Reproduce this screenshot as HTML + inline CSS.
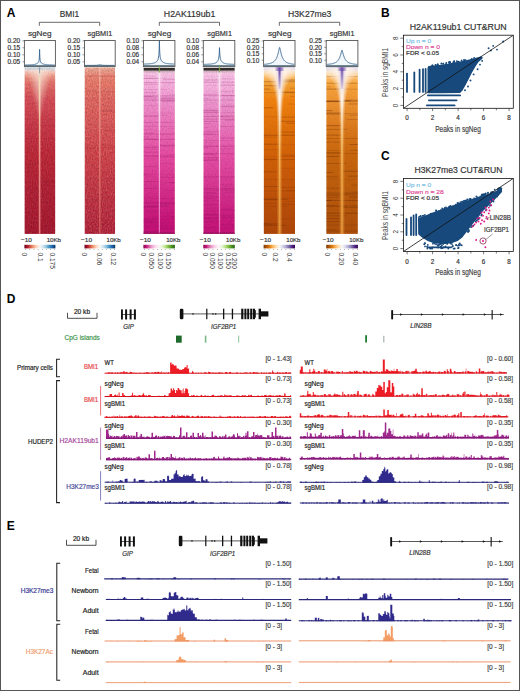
<!DOCTYPE html>
<html><head><meta charset="utf-8"><title>Figure</title>
<style>
html,body{margin:0;padding:0;background:#fff;width:520px;height:691px;overflow:hidden}
svg{display:block}
text{font-family:"Liberation Sans",sans-serif}
</style></head><body>
<svg width="520" height="691" viewBox="0 0 520 691">
<defs>
<filter id="grain" x="0" y="0" width="1" height="1"><feTurbulence type="fractalNoise" baseFrequency="0.8 0.5" numOctaves="2" seed="3"/><feColorMatrix type="matrix" values="0 0 0 0 0  0 0 0 0 0  0 0 0 0 0  0 0 0 -1.6 1.0"/></filter>
<filter id="grainw" x="0" y="0" width="1" height="1"><feTurbulence type="fractalNoise" baseFrequency="0.8 0.5" numOctaves="2" seed="9"/><feColorMatrix type="matrix" values="0 0 0 0 1  0 0 0 0 1  0 0 0 0 1  0 0 0 -1.6 1.0"/></filter>
<filter id="blur2" x="-0.5" y="-0.5" width="2" height="2"><feGaussianBlur stdDeviation="2"/></filter>
<filter id="blur1" x="-0.5" y="-0.5" width="2" height="2"><feGaussianBlur stdDeviation="1"/></filter>
<filter id="blur3" x="-0.5" y="-0.5" width="2" height="2"><feGaussianBlur stdDeviation="3"/></filter>
</defs>
<rect x="0.5" y="0.5" width="519" height="690" fill="none" stroke="#555" stroke-width="1"/>
<text x="6.80" y="16.80" font-size="12" fill="#000" font-weight="bold">A</text>
<text x="380.90" y="16.60" font-size="12" fill="#000" font-weight="bold">B</text>
<text x="381.00" y="159.50" font-size="12" fill="#000" font-weight="bold">C</text>
<text x="6.80" y="302.60" font-size="12" fill="#000" font-weight="bold">D</text>
<text x="6.80" y="530.00" font-size="12" fill="#000" font-weight="bold">E</text>
<text x="69.40" y="16.90" font-size="8.7" fill="#333" text-anchor="middle" textLength="19.4" lengthAdjust="spacingAndGlyphs" stroke="#333" stroke-width="0.18">BMI1</text>
<text x="189.60" y="16.90" font-size="8.7" fill="#333" text-anchor="middle" textLength="51.6" lengthAdjust="spacingAndGlyphs" stroke="#333" stroke-width="0.18">H2AK119ub1</text>
<text x="309.70" y="16.90" font-size="8.7" fill="#333" text-anchor="middle" textLength="43.3" lengthAdjust="spacingAndGlyphs" stroke="#333" stroke-width="0.18">H3K27me3</text>
<path d="M39.3,25.8V22.3H99.7V25.8" fill="none" stroke="#444" stroke-width="0.8"/>
<path d="M159.3,25.8V22.3H219.5V25.8" fill="none" stroke="#444" stroke-width="0.8"/>
<path d="M279.3,25.8V22.3H339.7V25.8" fill="none" stroke="#444" stroke-width="0.8"/>
<text x="39.70" y="35.70" font-size="7.7" fill="#333" text-anchor="middle" textLength="23.6" lengthAdjust="spacingAndGlyphs" stroke="#333" stroke-width="0.18">sgNeg</text>
<text x="99.90" y="35.70" font-size="7.7" fill="#333" text-anchor="middle" textLength="24.7" lengthAdjust="spacingAndGlyphs" stroke="#333" stroke-width="0.18">sgBMI1</text>
<text x="159.50" y="35.70" font-size="7.7" fill="#333" text-anchor="middle" textLength="23.6" lengthAdjust="spacingAndGlyphs" stroke="#333" stroke-width="0.18">sgNeg</text>
<text x="219.60" y="35.70" font-size="7.7" fill="#333" text-anchor="middle" textLength="24.7" lengthAdjust="spacingAndGlyphs" stroke="#333" stroke-width="0.18">sgBMI1</text>
<text x="279.70" y="35.70" font-size="7.7" fill="#333" text-anchor="middle" textLength="23.6" lengthAdjust="spacingAndGlyphs" stroke="#333" stroke-width="0.18">sgNeg</text>
<text x="342.10" y="35.70" font-size="7.7" fill="#333" text-anchor="middle" textLength="24.7" lengthAdjust="spacingAndGlyphs" stroke="#333" stroke-width="0.18">sgBMI1</text>
<text x="20.10" y="43.10" font-size="6.6" fill="#333" text-anchor="end" textLength="12.6" lengthAdjust="spacingAndGlyphs" stroke="#333" stroke-width="0.18">0.20</text>
<line x1="22.4" y1="40.8" x2="24.4" y2="40.8" stroke="#555" stroke-width="0.6"/>
<text x="20.10" y="50.10" font-size="6.6" fill="#333" text-anchor="end" textLength="12.6" lengthAdjust="spacingAndGlyphs" stroke="#333" stroke-width="0.18">0.15</text>
<line x1="22.4" y1="47.8" x2="24.4" y2="47.8" stroke="#555" stroke-width="0.6"/>
<text x="20.10" y="57.10" font-size="6.6" fill="#333" text-anchor="end" textLength="12.6" lengthAdjust="spacingAndGlyphs" stroke="#333" stroke-width="0.18">0.10</text>
<line x1="22.4" y1="54.8" x2="24.4" y2="54.8" stroke="#555" stroke-width="0.6"/>
<text x="20.10" y="64.10" font-size="6.6" fill="#333" text-anchor="end" textLength="12.6" lengthAdjust="spacingAndGlyphs" stroke="#333" stroke-width="0.18">0.05</text>
<line x1="22.4" y1="61.8" x2="24.4" y2="61.8" stroke="#555" stroke-width="0.6"/>
<text x="80.20" y="43.10" font-size="6.6" fill="#333" text-anchor="end" textLength="12.6" lengthAdjust="spacingAndGlyphs" stroke="#333" stroke-width="0.18">0.20</text>
<line x1="82.5" y1="40.8" x2="84.5" y2="40.8" stroke="#555" stroke-width="0.6"/>
<text x="80.20" y="50.10" font-size="6.6" fill="#333" text-anchor="end" textLength="12.6" lengthAdjust="spacingAndGlyphs" stroke="#333" stroke-width="0.18">0.15</text>
<line x1="82.5" y1="47.8" x2="84.5" y2="47.8" stroke="#555" stroke-width="0.6"/>
<text x="80.20" y="57.10" font-size="6.6" fill="#333" text-anchor="end" textLength="12.6" lengthAdjust="spacingAndGlyphs" stroke="#333" stroke-width="0.18">0.10</text>
<line x1="82.5" y1="54.8" x2="84.5" y2="54.8" stroke="#555" stroke-width="0.6"/>
<text x="80.20" y="64.10" font-size="6.6" fill="#333" text-anchor="end" textLength="12.6" lengthAdjust="spacingAndGlyphs" stroke="#333" stroke-width="0.18">0.05</text>
<line x1="82.5" y1="61.8" x2="84.5" y2="61.8" stroke="#555" stroke-width="0.6"/>
<text x="139.10" y="43.10" font-size="6.6" fill="#333" text-anchor="end" textLength="12.6" lengthAdjust="spacingAndGlyphs" stroke="#333" stroke-width="0.18">0.10</text>
<line x1="141.4" y1="40.8" x2="143.4" y2="40.8" stroke="#555" stroke-width="0.6"/>
<text x="139.10" y="50.10" font-size="6.6" fill="#333" text-anchor="end" textLength="12.6" lengthAdjust="spacingAndGlyphs" stroke="#333" stroke-width="0.18">0.08</text>
<line x1="141.4" y1="47.8" x2="143.4" y2="47.8" stroke="#555" stroke-width="0.6"/>
<text x="139.10" y="57.10" font-size="6.6" fill="#333" text-anchor="end" textLength="12.6" lengthAdjust="spacingAndGlyphs" stroke="#333" stroke-width="0.18">0.06</text>
<line x1="141.4" y1="54.8" x2="143.4" y2="54.8" stroke="#555" stroke-width="0.6"/>
<text x="139.10" y="64.10" font-size="6.6" fill="#333" text-anchor="end" textLength="12.6" lengthAdjust="spacingAndGlyphs" stroke="#333" stroke-width="0.18">0.04</text>
<line x1="141.4" y1="61.8" x2="143.4" y2="61.8" stroke="#555" stroke-width="0.6"/>
<text x="199.00" y="43.10" font-size="6.6" fill="#333" text-anchor="end" textLength="12.6" lengthAdjust="spacingAndGlyphs" stroke="#333" stroke-width="0.18">0.10</text>
<line x1="201.3" y1="40.8" x2="203.3" y2="40.8" stroke="#555" stroke-width="0.6"/>
<text x="199.00" y="50.10" font-size="6.6" fill="#333" text-anchor="end" textLength="12.6" lengthAdjust="spacingAndGlyphs" stroke="#333" stroke-width="0.18">0.08</text>
<line x1="201.3" y1="47.8" x2="203.3" y2="47.8" stroke="#555" stroke-width="0.6"/>
<text x="199.00" y="57.10" font-size="6.6" fill="#333" text-anchor="end" textLength="12.6" lengthAdjust="spacingAndGlyphs" stroke="#333" stroke-width="0.18">0.06</text>
<line x1="201.3" y1="54.8" x2="203.3" y2="54.8" stroke="#555" stroke-width="0.6"/>
<text x="199.00" y="64.10" font-size="6.6" fill="#333" text-anchor="end" textLength="12.6" lengthAdjust="spacingAndGlyphs" stroke="#333" stroke-width="0.18">0.04</text>
<line x1="201.3" y1="61.8" x2="203.3" y2="61.8" stroke="#555" stroke-width="0.6"/>
<text x="259.30" y="43.30" font-size="6.6" fill="#333" text-anchor="end" textLength="12.6" lengthAdjust="spacingAndGlyphs" stroke="#333" stroke-width="0.18">0.25</text>
<line x1="261.6" y1="41.0" x2="263.6" y2="41.0" stroke="#555" stroke-width="0.6"/>
<text x="259.30" y="49.70" font-size="6.6" fill="#333" text-anchor="end" textLength="12.6" lengthAdjust="spacingAndGlyphs" stroke="#333" stroke-width="0.18">0.20</text>
<line x1="261.6" y1="47.4" x2="263.6" y2="47.4" stroke="#555" stroke-width="0.6"/>
<text x="259.30" y="56.10" font-size="6.6" fill="#333" text-anchor="end" textLength="12.6" lengthAdjust="spacingAndGlyphs" stroke="#333" stroke-width="0.18">0.15</text>
<line x1="261.6" y1="53.8" x2="263.6" y2="53.8" stroke="#555" stroke-width="0.6"/>
<text x="259.30" y="62.50" font-size="6.6" fill="#333" text-anchor="end" textLength="12.6" lengthAdjust="spacingAndGlyphs" stroke="#333" stroke-width="0.18">0.10</text>
<line x1="261.6" y1="60.2" x2="263.6" y2="60.2" stroke="#555" stroke-width="0.6"/>
<text x="321.90" y="43.30" font-size="6.6" fill="#333" text-anchor="end" textLength="12.6" lengthAdjust="spacingAndGlyphs" stroke="#333" stroke-width="0.18">0.25</text>
<line x1="324.2" y1="41.0" x2="326.2" y2="41.0" stroke="#555" stroke-width="0.6"/>
<text x="321.90" y="49.70" font-size="6.6" fill="#333" text-anchor="end" textLength="12.6" lengthAdjust="spacingAndGlyphs" stroke="#333" stroke-width="0.18">0.20</text>
<line x1="324.2" y1="47.4" x2="326.2" y2="47.4" stroke="#555" stroke-width="0.6"/>
<text x="321.90" y="56.10" font-size="6.6" fill="#333" text-anchor="end" textLength="12.6" lengthAdjust="spacingAndGlyphs" stroke="#333" stroke-width="0.18">0.15</text>
<line x1="324.2" y1="53.8" x2="326.2" y2="53.8" stroke="#555" stroke-width="0.6"/>
<text x="321.90" y="62.50" font-size="6.6" fill="#333" text-anchor="end" textLength="12.6" lengthAdjust="spacingAndGlyphs" stroke="#333" stroke-width="0.18">0.10</text>
<line x1="324.2" y1="60.2" x2="326.2" y2="60.2" stroke="#555" stroke-width="0.6"/>
<path d="M25.00,65.04 L25.19,65.04 L25.37,65.04 L25.56,65.03 L25.75,65.03 L25.93,65.02 L26.12,65.02 L26.30,65.02 L26.49,65.01 L26.68,65.01 L26.86,65.00 L27.05,65.00 L27.23,64.99 L27.42,64.99 L27.61,64.98 L27.79,64.98 L27.98,64.97 L28.17,64.96 L28.35,64.96 L28.54,64.95 L28.73,64.94 L28.91,64.94 L29.10,64.93 L29.28,64.92 L29.47,64.91 L29.66,64.90 L29.84,64.89 L30.03,64.88 L30.21,64.87 L30.40,64.86 L30.59,64.85 L30.77,64.84 L30.96,64.83 L31.15,64.82 L31.33,64.80 L31.52,64.79 L31.70,64.77 L31.89,64.76 L32.08,64.74 L32.26,64.72 L32.45,64.70 L32.64,64.68 L32.82,64.66 L33.01,64.64 L33.20,64.61 L33.38,64.59 L33.57,64.56 L33.75,64.53 L33.94,64.50 L34.13,64.47 L34.31,64.43 L34.50,64.39 L34.69,64.35 L34.87,64.31 L35.06,64.26 L35.24,64.21 L35.43,64.16 L35.62,64.10 L35.80,64.04 L35.99,63.97 L36.17,63.90 L36.36,63.82 L36.55,63.73 L36.73,63.64 L36.92,63.54 L37.11,63.43 L37.29,63.32 L37.48,63.18 L37.66,63.04 L37.85,62.87 L38.04,62.68 L38.22,62.46 L38.41,62.18 L38.60,61.83 L38.78,61.34 L38.97,60.62 L39.16,59.43 L39.34,57.15 L39.53,52.08 L39.60,49.40 L39.71,53.57 L39.90,57.81 L40.09,59.75 L40.27,60.81 L40.46,61.47 L40.65,61.92 L40.83,62.25 L41.02,62.51 L41.20,62.73 L41.39,62.91 L41.58,63.07 L41.76,63.21 L41.95,63.34 L42.13,63.46 L42.32,63.57 L42.51,63.66 L42.69,63.75 L42.88,63.84 L43.07,63.91 L43.25,63.98 L43.44,64.05 L43.62,64.11 L43.81,64.17 L44.00,64.22 L44.18,64.27 L44.37,64.32 L44.56,64.36 L44.74,64.40 L44.93,64.44 L45.12,64.47 L45.30,64.51 L45.49,64.54 L45.67,64.57 L45.86,64.59 L46.05,64.62 L46.23,64.64 L46.42,64.67 L46.61,64.69 L46.79,64.71 L46.98,64.73 L47.16,64.74 L47.35,64.76 L47.54,64.78 L47.72,64.79 L47.91,64.81 L48.09,64.82 L48.28,64.83 L48.47,64.84 L48.65,64.86 L48.84,64.87 L49.03,64.88 L49.21,64.89 L49.40,64.90 L49.59,64.91 L49.77,64.91 L49.96,64.92 L50.14,64.93 L50.33,64.94 L50.52,64.95 L50.70,64.95 L50.89,64.96 L51.08,64.97 L51.26,64.97 L51.45,64.98 L51.63,64.98 L51.82,64.99 L52.01,64.99 L52.19,65.00 L52.38,65.00 L52.57,65.01 L52.75,65.01 L52.94,65.02 L53.12,65.02 L53.31,65.03 L53.50,65.03 L53.68,65.03 L53.87,65.04 L54.05,65.04 L54.24,65.04 L54.43,65.05 L54.61,65.05 L54.80,65.05 L54.80,66.6 L25.00,66.6 Z" fill="#dbe9f5" opacity="0.35"/>
<path d="M25.00,65.04 L25.19,65.04 L25.37,65.04 L25.56,65.03 L25.75,65.03 L25.93,65.02 L26.12,65.02 L26.30,65.02 L26.49,65.01 L26.68,65.01 L26.86,65.00 L27.05,65.00 L27.23,64.99 L27.42,64.99 L27.61,64.98 L27.79,64.98 L27.98,64.97 L28.17,64.96 L28.35,64.96 L28.54,64.95 L28.73,64.94 L28.91,64.94 L29.10,64.93 L29.28,64.92 L29.47,64.91 L29.66,64.90 L29.84,64.89 L30.03,64.88 L30.21,64.87 L30.40,64.86 L30.59,64.85 L30.77,64.84 L30.96,64.83 L31.15,64.82 L31.33,64.80 L31.52,64.79 L31.70,64.77 L31.89,64.76 L32.08,64.74 L32.26,64.72 L32.45,64.70 L32.64,64.68 L32.82,64.66 L33.01,64.64 L33.20,64.61 L33.38,64.59 L33.57,64.56 L33.75,64.53 L33.94,64.50 L34.13,64.47 L34.31,64.43 L34.50,64.39 L34.69,64.35 L34.87,64.31 L35.06,64.26 L35.24,64.21 L35.43,64.16 L35.62,64.10 L35.80,64.04 L35.99,63.97 L36.17,63.90 L36.36,63.82 L36.55,63.73 L36.73,63.64 L36.92,63.54 L37.11,63.43 L37.29,63.32 L37.48,63.18 L37.66,63.04 L37.85,62.87 L38.04,62.68 L38.22,62.46 L38.41,62.18 L38.60,61.83 L38.78,61.34 L38.97,60.62 L39.16,59.43 L39.34,57.15 L39.53,52.08 L39.60,49.40 L39.71,53.57 L39.90,57.81 L40.09,59.75 L40.27,60.81 L40.46,61.47 L40.65,61.92 L40.83,62.25 L41.02,62.51 L41.20,62.73 L41.39,62.91 L41.58,63.07 L41.76,63.21 L41.95,63.34 L42.13,63.46 L42.32,63.57 L42.51,63.66 L42.69,63.75 L42.88,63.84 L43.07,63.91 L43.25,63.98 L43.44,64.05 L43.62,64.11 L43.81,64.17 L44.00,64.22 L44.18,64.27 L44.37,64.32 L44.56,64.36 L44.74,64.40 L44.93,64.44 L45.12,64.47 L45.30,64.51 L45.49,64.54 L45.67,64.57 L45.86,64.59 L46.05,64.62 L46.23,64.64 L46.42,64.67 L46.61,64.69 L46.79,64.71 L46.98,64.73 L47.16,64.74 L47.35,64.76 L47.54,64.78 L47.72,64.79 L47.91,64.81 L48.09,64.82 L48.28,64.83 L48.47,64.84 L48.65,64.86 L48.84,64.87 L49.03,64.88 L49.21,64.89 L49.40,64.90 L49.59,64.91 L49.77,64.91 L49.96,64.92 L50.14,64.93 L50.33,64.94 L50.52,64.95 L50.70,64.95 L50.89,64.96 L51.08,64.97 L51.26,64.97 L51.45,64.98 L51.63,64.98 L51.82,64.99 L52.01,64.99 L52.19,65.00 L52.38,65.00 L52.57,65.01 L52.75,65.01 L52.94,65.02 L53.12,65.02 L53.31,65.03 L53.50,65.03 L53.68,65.03 L53.87,65.04 L54.05,65.04 L54.24,65.04 L54.43,65.05 L54.61,65.05 L54.80,65.05" fill="none" stroke="#36648f" stroke-width="0.9"/>
<rect x="24.4" y="40.5" width="31.00" height="26.10" fill="none" stroke="#555" stroke-width="0.9"/>
<line x1="24.9" y1="65.69999999999999" x2="54.9" y2="65.69999999999999" stroke="#3d5f6f" stroke-width="0.9"/>
<path d="M85.10,65.40 L85.28,65.40 L85.47,65.40 L85.65,65.40 L85.84,65.40 L86.02,65.40 L86.21,65.40 L86.39,65.40 L86.57,65.40 L86.76,65.40 L86.94,65.40 L87.13,65.40 L87.31,65.40 L87.50,65.40 L87.68,65.40 L87.87,65.40 L88.05,65.40 L88.23,65.40 L88.42,65.40 L88.60,65.40 L88.79,65.40 L88.97,65.40 L89.16,65.40 L89.34,65.40 L89.52,65.40 L89.71,65.40 L89.89,65.40 L90.08,65.40 L90.26,65.40 L90.45,65.40 L90.63,65.40 L90.82,65.40 L91.00,65.40 L91.18,65.40 L91.37,65.40 L91.55,65.40 L91.74,65.40 L91.92,65.40 L92.11,65.39 L92.29,65.39 L92.47,65.39 L92.66,65.39 L92.84,65.39 L93.03,65.39 L93.21,65.39 L93.40,65.39 L93.58,65.39 L93.77,65.38 L93.95,65.38 L94.13,65.38 L94.32,65.38 L94.50,65.37 L94.69,65.37 L94.87,65.37 L95.06,65.36 L95.24,65.36 L95.42,65.35 L95.61,65.34 L95.79,65.34 L95.98,65.33 L96.16,65.32 L96.35,65.31 L96.53,65.30 L96.72,65.28 L96.90,65.27 L97.08,65.25 L97.27,65.23 L97.45,65.21 L97.64,65.19 L97.82,65.16 L98.01,65.13 L98.19,65.09 L98.38,65.05 L98.56,65.01 L98.74,64.95 L98.93,64.90 L99.11,64.83 L99.30,64.76 L99.48,64.67 L99.67,64.58 L99.80,64.50 L99.85,64.53 L100.03,64.63 L100.22,64.72 L100.40,64.80 L100.59,64.87 L100.77,64.93 L100.96,64.98 L101.14,65.03 L101.32,65.07 L101.51,65.11 L101.69,65.15 L101.88,65.17 L102.06,65.20 L102.25,65.22 L102.43,65.24 L102.62,65.26 L102.80,65.28 L102.98,65.29 L103.17,65.30 L103.35,65.32 L103.54,65.33 L103.72,65.33 L103.91,65.34 L104.09,65.35 L104.28,65.35 L104.46,65.36 L104.64,65.36 L104.83,65.37 L105.01,65.37 L105.20,65.38 L105.38,65.38 L105.57,65.38 L105.75,65.38 L105.93,65.38 L106.12,65.39 L106.30,65.39 L106.49,65.39 L106.67,65.39 L106.86,65.39 L107.04,65.39 L107.22,65.39 L107.41,65.39 L107.59,65.40 L107.78,65.40 L107.96,65.40 L108.15,65.40 L108.33,65.40 L108.52,65.40 L108.70,65.40 L108.88,65.40 L109.07,65.40 L109.25,65.40 L109.44,65.40 L109.62,65.40 L109.81,65.40 L109.99,65.40 L110.17,65.40 L110.36,65.40 L110.54,65.40 L110.73,65.40 L110.91,65.40 L111.10,65.40 L111.28,65.40 L111.47,65.40 L111.65,65.40 L111.83,65.40 L112.02,65.40 L112.20,65.40 L112.39,65.40 L112.57,65.40 L112.76,65.40 L112.94,65.40 L113.12,65.40 L113.31,65.40 L113.49,65.40 L113.68,65.40 L113.86,65.40 L114.05,65.40 L114.23,65.40 L114.42,65.40 L114.60,65.40 L114.60,66.6 L85.10,66.6 Z" fill="#dbe9f5" opacity="0.35"/>
<path d="M85.10,65.40 L85.28,65.40 L85.47,65.40 L85.65,65.40 L85.84,65.40 L86.02,65.40 L86.21,65.40 L86.39,65.40 L86.57,65.40 L86.76,65.40 L86.94,65.40 L87.13,65.40 L87.31,65.40 L87.50,65.40 L87.68,65.40 L87.87,65.40 L88.05,65.40 L88.23,65.40 L88.42,65.40 L88.60,65.40 L88.79,65.40 L88.97,65.40 L89.16,65.40 L89.34,65.40 L89.52,65.40 L89.71,65.40 L89.89,65.40 L90.08,65.40 L90.26,65.40 L90.45,65.40 L90.63,65.40 L90.82,65.40 L91.00,65.40 L91.18,65.40 L91.37,65.40 L91.55,65.40 L91.74,65.40 L91.92,65.40 L92.11,65.39 L92.29,65.39 L92.47,65.39 L92.66,65.39 L92.84,65.39 L93.03,65.39 L93.21,65.39 L93.40,65.39 L93.58,65.39 L93.77,65.38 L93.95,65.38 L94.13,65.38 L94.32,65.38 L94.50,65.37 L94.69,65.37 L94.87,65.37 L95.06,65.36 L95.24,65.36 L95.42,65.35 L95.61,65.34 L95.79,65.34 L95.98,65.33 L96.16,65.32 L96.35,65.31 L96.53,65.30 L96.72,65.28 L96.90,65.27 L97.08,65.25 L97.27,65.23 L97.45,65.21 L97.64,65.19 L97.82,65.16 L98.01,65.13 L98.19,65.09 L98.38,65.05 L98.56,65.01 L98.74,64.95 L98.93,64.90 L99.11,64.83 L99.30,64.76 L99.48,64.67 L99.67,64.58 L99.80,64.50 L99.85,64.53 L100.03,64.63 L100.22,64.72 L100.40,64.80 L100.59,64.87 L100.77,64.93 L100.96,64.98 L101.14,65.03 L101.32,65.07 L101.51,65.11 L101.69,65.15 L101.88,65.17 L102.06,65.20 L102.25,65.22 L102.43,65.24 L102.62,65.26 L102.80,65.28 L102.98,65.29 L103.17,65.30 L103.35,65.32 L103.54,65.33 L103.72,65.33 L103.91,65.34 L104.09,65.35 L104.28,65.35 L104.46,65.36 L104.64,65.36 L104.83,65.37 L105.01,65.37 L105.20,65.38 L105.38,65.38 L105.57,65.38 L105.75,65.38 L105.93,65.38 L106.12,65.39 L106.30,65.39 L106.49,65.39 L106.67,65.39 L106.86,65.39 L107.04,65.39 L107.22,65.39 L107.41,65.39 L107.59,65.40 L107.78,65.40 L107.96,65.40 L108.15,65.40 L108.33,65.40 L108.52,65.40 L108.70,65.40 L108.88,65.40 L109.07,65.40 L109.25,65.40 L109.44,65.40 L109.62,65.40 L109.81,65.40 L109.99,65.40 L110.17,65.40 L110.36,65.40 L110.54,65.40 L110.73,65.40 L110.91,65.40 L111.10,65.40 L111.28,65.40 L111.47,65.40 L111.65,65.40 L111.83,65.40 L112.02,65.40 L112.20,65.40 L112.39,65.40 L112.57,65.40 L112.76,65.40 L112.94,65.40 L113.12,65.40 L113.31,65.40 L113.49,65.40 L113.68,65.40 L113.86,65.40 L114.05,65.40 L114.23,65.40 L114.42,65.40 L114.60,65.40" fill="none" stroke="#36648f" stroke-width="0.9"/>
<rect x="84.5" y="40.5" width="30.70" height="26.10" fill="none" stroke="#555" stroke-width="0.9"/>
<line x1="85.0" y1="65.69999999999999" x2="114.7" y2="65.69999999999999" stroke="#3d5f6f" stroke-width="0.9"/>
<path d="M144.00,64.01 L144.19,64.01 L144.38,64.00 L144.57,64.00 L144.76,63.99 L144.95,63.98 L145.14,63.98 L145.33,63.97 L145.51,63.97 L145.70,63.96 L145.89,63.95 L146.08,63.94 L146.27,63.94 L146.46,63.93 L146.65,63.92 L146.84,63.91 L147.03,63.90 L147.22,63.90 L147.41,63.89 L147.60,63.88 L147.79,63.87 L147.98,63.86 L148.17,63.85 L148.36,63.83 L148.54,63.82 L148.73,63.81 L148.92,63.80 L149.11,63.78 L149.30,63.77 L149.49,63.75 L149.68,63.74 L149.87,63.72 L150.06,63.71 L150.25,63.69 L150.44,63.67 L150.63,63.65 L150.82,63.63 L151.01,63.61 L151.20,63.58 L151.39,63.56 L151.57,63.54 L151.76,63.51 L151.95,63.48 L152.14,63.45 L152.33,63.42 L152.52,63.38 L152.71,63.35 L152.90,63.31 L153.09,63.27 L153.28,63.22 L153.47,63.18 L153.66,63.13 L153.85,63.07 L154.04,63.01 L154.23,62.95 L154.42,62.89 L154.60,62.81 L154.79,62.74 L154.98,62.65 L155.17,62.56 L155.36,62.46 L155.55,62.36 L155.74,62.24 L155.93,62.11 L156.12,61.98 L156.31,61.82 L156.50,61.66 L156.69,61.47 L156.88,61.27 L157.07,61.04 L157.26,60.79 L157.45,60.50 L157.63,60.17 L157.82,59.78 L158.01,59.32 L158.20,58.76 L158.39,58.04 L158.58,57.09 L158.77,55.72 L158.96,53.61 L159.15,49.99 L159.34,43.15 L159.40,40.40 L159.53,46.12 L159.72,51.55 L159.91,54.49 L160.10,56.27 L160.29,57.47 L160.48,58.32 L160.66,58.98 L160.85,59.50 L161.04,59.93 L161.23,60.29 L161.42,60.61 L161.61,60.88 L161.80,61.13 L161.99,61.35 L162.18,61.54 L162.37,61.72 L162.56,61.88 L162.75,62.03 L162.94,62.16 L163.13,62.28 L163.32,62.40 L163.51,62.50 L163.69,62.60 L163.88,62.68 L164.07,62.77 L164.26,62.84 L164.45,62.91 L164.64,62.98 L164.83,63.04 L165.02,63.09 L165.21,63.14 L165.40,63.19 L165.59,63.24 L165.78,63.28 L165.97,63.32 L166.16,63.36 L166.35,63.40 L166.54,63.43 L166.72,63.46 L166.91,63.49 L167.10,63.52 L167.29,63.54 L167.48,63.57 L167.67,63.59 L167.86,63.62 L168.05,63.64 L168.24,63.66 L168.43,63.68 L168.62,63.69 L168.81,63.71 L169.00,63.73 L169.19,63.74 L169.38,63.76 L169.57,63.77 L169.75,63.79 L169.94,63.80 L170.13,63.81 L170.32,63.83 L170.51,63.84 L170.70,63.85 L170.89,63.86 L171.08,63.87 L171.27,63.88 L171.46,63.89 L171.65,63.90 L171.84,63.91 L172.03,63.92 L172.22,63.92 L172.41,63.93 L172.60,63.94 L172.78,63.95 L172.97,63.95 L173.16,63.96 L173.35,63.97 L173.54,63.97 L173.73,63.98 L173.92,63.99 L174.11,63.99 L174.30,64.00 L174.30,66.6 L144.00,66.6 Z" fill="#dbe9f5" opacity="0.35"/>
<path d="M144.00,64.01 L144.19,64.01 L144.38,64.00 L144.57,64.00 L144.76,63.99 L144.95,63.98 L145.14,63.98 L145.33,63.97 L145.51,63.97 L145.70,63.96 L145.89,63.95 L146.08,63.94 L146.27,63.94 L146.46,63.93 L146.65,63.92 L146.84,63.91 L147.03,63.90 L147.22,63.90 L147.41,63.89 L147.60,63.88 L147.79,63.87 L147.98,63.86 L148.17,63.85 L148.36,63.83 L148.54,63.82 L148.73,63.81 L148.92,63.80 L149.11,63.78 L149.30,63.77 L149.49,63.75 L149.68,63.74 L149.87,63.72 L150.06,63.71 L150.25,63.69 L150.44,63.67 L150.63,63.65 L150.82,63.63 L151.01,63.61 L151.20,63.58 L151.39,63.56 L151.57,63.54 L151.76,63.51 L151.95,63.48 L152.14,63.45 L152.33,63.42 L152.52,63.38 L152.71,63.35 L152.90,63.31 L153.09,63.27 L153.28,63.22 L153.47,63.18 L153.66,63.13 L153.85,63.07 L154.04,63.01 L154.23,62.95 L154.42,62.89 L154.60,62.81 L154.79,62.74 L154.98,62.65 L155.17,62.56 L155.36,62.46 L155.55,62.36 L155.74,62.24 L155.93,62.11 L156.12,61.98 L156.31,61.82 L156.50,61.66 L156.69,61.47 L156.88,61.27 L157.07,61.04 L157.26,60.79 L157.45,60.50 L157.63,60.17 L157.82,59.78 L158.01,59.32 L158.20,58.76 L158.39,58.04 L158.58,57.09 L158.77,55.72 L158.96,53.61 L159.15,49.99 L159.34,43.15 L159.40,40.40 L159.53,46.12 L159.72,51.55 L159.91,54.49 L160.10,56.27 L160.29,57.47 L160.48,58.32 L160.66,58.98 L160.85,59.50 L161.04,59.93 L161.23,60.29 L161.42,60.61 L161.61,60.88 L161.80,61.13 L161.99,61.35 L162.18,61.54 L162.37,61.72 L162.56,61.88 L162.75,62.03 L162.94,62.16 L163.13,62.28 L163.32,62.40 L163.51,62.50 L163.69,62.60 L163.88,62.68 L164.07,62.77 L164.26,62.84 L164.45,62.91 L164.64,62.98 L164.83,63.04 L165.02,63.09 L165.21,63.14 L165.40,63.19 L165.59,63.24 L165.78,63.28 L165.97,63.32 L166.16,63.36 L166.35,63.40 L166.54,63.43 L166.72,63.46 L166.91,63.49 L167.10,63.52 L167.29,63.54 L167.48,63.57 L167.67,63.59 L167.86,63.62 L168.05,63.64 L168.24,63.66 L168.43,63.68 L168.62,63.69 L168.81,63.71 L169.00,63.73 L169.19,63.74 L169.38,63.76 L169.57,63.77 L169.75,63.79 L169.94,63.80 L170.13,63.81 L170.32,63.83 L170.51,63.84 L170.70,63.85 L170.89,63.86 L171.08,63.87 L171.27,63.88 L171.46,63.89 L171.65,63.90 L171.84,63.91 L172.03,63.92 L172.22,63.92 L172.41,63.93 L172.60,63.94 L172.78,63.95 L172.97,63.95 L173.16,63.96 L173.35,63.97 L173.54,63.97 L173.73,63.98 L173.92,63.99 L174.11,63.99 L174.30,64.00" fill="none" stroke="#36648f" stroke-width="0.9"/>
<rect x="143.4" y="40.5" width="31.50" height="26.10" fill="none" stroke="#555" stroke-width="0.9"/>
<line x1="143.9" y1="65.69999999999999" x2="174.4" y2="65.69999999999999" stroke="#3d5f6f" stroke-width="0.9"/>
<path d="M203.90,64.34 L204.09,64.34 L204.28,64.33 L204.47,64.33 L204.66,64.32 L204.85,64.32 L205.04,64.31 L205.23,64.31 L205.41,64.30 L205.60,64.30 L205.79,64.29 L205.98,64.28 L206.17,64.28 L206.36,64.27 L206.55,64.26 L206.74,64.26 L206.93,64.25 L207.12,64.24 L207.31,64.23 L207.50,64.22 L207.69,64.22 L207.88,64.21 L208.07,64.20 L208.26,64.19 L208.44,64.18 L208.63,64.17 L208.82,64.16 L209.01,64.15 L209.20,64.13 L209.39,64.12 L209.58,64.11 L209.77,64.09 L209.96,64.08 L210.15,64.07 L210.34,64.05 L210.53,64.03 L210.72,64.02 L210.91,64.00 L211.10,63.98 L211.29,63.96 L211.47,63.94 L211.66,63.91 L211.85,63.89 L212.04,63.86 L212.23,63.84 L212.42,63.81 L212.61,63.78 L212.80,63.75 L212.99,63.71 L213.18,63.68 L213.37,63.64 L213.56,63.59 L213.75,63.55 L213.94,63.50 L214.13,63.45 L214.32,63.39 L214.50,63.33 L214.69,63.27 L214.88,63.20 L215.07,63.12 L215.26,63.04 L215.45,62.95 L215.64,62.86 L215.83,62.75 L216.02,62.63 L216.21,62.51 L216.40,62.37 L216.59,62.22 L216.78,62.05 L216.97,61.86 L217.16,61.65 L217.35,61.42 L217.53,61.15 L217.72,60.85 L217.91,60.50 L218.10,60.09 L218.29,59.60 L218.48,58.99 L218.67,58.20 L218.86,57.12 L219.05,55.57 L219.24,53.16 L219.43,49.26 L219.50,47.60 L219.62,50.38 L219.81,53.86 L220.00,56.02 L220.19,57.43 L220.38,58.42 L220.56,59.15 L220.75,59.73 L220.94,60.20 L221.13,60.59 L221.32,60.93 L221.51,61.22 L221.70,61.48 L221.89,61.70 L222.08,61.91 L222.27,62.09 L222.46,62.26 L222.65,62.40 L222.84,62.54 L223.03,62.66 L223.22,62.78 L223.41,62.88 L223.59,62.98 L223.78,63.06 L223.97,63.14 L224.16,63.22 L224.35,63.29 L224.54,63.35 L224.73,63.41 L224.92,63.46 L225.11,63.51 L225.30,63.56 L225.49,63.60 L225.68,63.65 L225.87,63.68 L226.06,63.72 L226.25,63.75 L226.44,63.79 L226.62,63.82 L226.81,63.84 L227.00,63.87 L227.19,63.90 L227.38,63.92 L227.57,63.94 L227.76,63.96 L227.95,63.98 L228.14,64.00 L228.33,64.02 L228.52,64.04 L228.71,64.05 L228.90,64.07 L229.09,64.08 L229.28,64.10 L229.47,64.11 L229.66,64.12 L229.84,64.14 L230.03,64.15 L230.22,64.16 L230.41,64.17 L230.60,64.18 L230.79,64.19 L230.98,64.20 L231.17,64.21 L231.36,64.22 L231.55,64.23 L231.74,64.24 L231.93,64.24 L232.12,64.25 L232.31,64.26 L232.50,64.27 L232.69,64.27 L232.87,64.28 L233.06,64.28 L233.25,64.29 L233.44,64.30 L233.63,64.30 L233.82,64.31 L234.01,64.31 L234.20,64.32 L234.20,66.6 L203.90,66.6 Z" fill="#dbe9f5" opacity="0.35"/>
<path d="M203.90,64.34 L204.09,64.34 L204.28,64.33 L204.47,64.33 L204.66,64.32 L204.85,64.32 L205.04,64.31 L205.23,64.31 L205.41,64.30 L205.60,64.30 L205.79,64.29 L205.98,64.28 L206.17,64.28 L206.36,64.27 L206.55,64.26 L206.74,64.26 L206.93,64.25 L207.12,64.24 L207.31,64.23 L207.50,64.22 L207.69,64.22 L207.88,64.21 L208.07,64.20 L208.26,64.19 L208.44,64.18 L208.63,64.17 L208.82,64.16 L209.01,64.15 L209.20,64.13 L209.39,64.12 L209.58,64.11 L209.77,64.09 L209.96,64.08 L210.15,64.07 L210.34,64.05 L210.53,64.03 L210.72,64.02 L210.91,64.00 L211.10,63.98 L211.29,63.96 L211.47,63.94 L211.66,63.91 L211.85,63.89 L212.04,63.86 L212.23,63.84 L212.42,63.81 L212.61,63.78 L212.80,63.75 L212.99,63.71 L213.18,63.68 L213.37,63.64 L213.56,63.59 L213.75,63.55 L213.94,63.50 L214.13,63.45 L214.32,63.39 L214.50,63.33 L214.69,63.27 L214.88,63.20 L215.07,63.12 L215.26,63.04 L215.45,62.95 L215.64,62.86 L215.83,62.75 L216.02,62.63 L216.21,62.51 L216.40,62.37 L216.59,62.22 L216.78,62.05 L216.97,61.86 L217.16,61.65 L217.35,61.42 L217.53,61.15 L217.72,60.85 L217.91,60.50 L218.10,60.09 L218.29,59.60 L218.48,58.99 L218.67,58.20 L218.86,57.12 L219.05,55.57 L219.24,53.16 L219.43,49.26 L219.50,47.60 L219.62,50.38 L219.81,53.86 L220.00,56.02 L220.19,57.43 L220.38,58.42 L220.56,59.15 L220.75,59.73 L220.94,60.20 L221.13,60.59 L221.32,60.93 L221.51,61.22 L221.70,61.48 L221.89,61.70 L222.08,61.91 L222.27,62.09 L222.46,62.26 L222.65,62.40 L222.84,62.54 L223.03,62.66 L223.22,62.78 L223.41,62.88 L223.59,62.98 L223.78,63.06 L223.97,63.14 L224.16,63.22 L224.35,63.29 L224.54,63.35 L224.73,63.41 L224.92,63.46 L225.11,63.51 L225.30,63.56 L225.49,63.60 L225.68,63.65 L225.87,63.68 L226.06,63.72 L226.25,63.75 L226.44,63.79 L226.62,63.82 L226.81,63.84 L227.00,63.87 L227.19,63.90 L227.38,63.92 L227.57,63.94 L227.76,63.96 L227.95,63.98 L228.14,64.00 L228.33,64.02 L228.52,64.04 L228.71,64.05 L228.90,64.07 L229.09,64.08 L229.28,64.10 L229.47,64.11 L229.66,64.12 L229.84,64.14 L230.03,64.15 L230.22,64.16 L230.41,64.17 L230.60,64.18 L230.79,64.19 L230.98,64.20 L231.17,64.21 L231.36,64.22 L231.55,64.23 L231.74,64.24 L231.93,64.24 L232.12,64.25 L232.31,64.26 L232.50,64.27 L232.69,64.27 L232.87,64.28 L233.06,64.28 L233.25,64.29 L233.44,64.30 L233.63,64.30 L233.82,64.31 L234.01,64.31 L234.20,64.32" fill="none" stroke="#36648f" stroke-width="0.9"/>
<rect x="203.3" y="40.5" width="31.50" height="26.10" fill="none" stroke="#555" stroke-width="0.9"/>
<line x1="203.8" y1="65.69999999999999" x2="234.3" y2="65.69999999999999" stroke="#3d5f6f" stroke-width="0.9"/>
<path d="M264.20,64.36 L264.39,64.34 L264.58,64.32 L264.77,64.30 L264.96,64.28 L265.14,64.26 L265.33,64.24 L265.52,64.22 L265.71,64.19 L265.90,64.17 L266.09,64.15 L266.28,64.12 L266.47,64.10 L266.65,64.07 L266.84,64.04 L267.03,64.01 L267.22,63.98 L267.41,63.95 L267.60,63.92 L267.79,63.89 L267.98,63.86 L268.16,63.82 L268.35,63.78 L268.54,63.75 L268.73,63.71 L268.92,63.67 L269.11,63.63 L269.30,63.58 L269.49,63.54 L269.67,63.49 L269.86,63.44 L270.05,63.39 L270.24,63.33 L270.43,63.27 L270.62,63.22 L270.81,63.15 L271.00,63.09 L271.18,63.02 L271.37,62.95 L271.56,62.88 L271.75,62.80 L271.94,62.71 L272.13,62.63 L272.32,62.54 L272.51,62.44 L272.69,62.34 L272.88,62.23 L273.07,62.12 L273.26,62.00 L273.45,61.87 L273.64,61.74 L273.83,61.60 L274.02,61.44 L274.20,61.28 L274.39,61.11 L274.58,60.93 L274.77,60.73 L274.96,60.52 L275.15,60.30 L275.34,60.06 L275.53,59.80 L275.71,59.52 L275.90,59.22 L276.09,58.90 L276.28,58.55 L276.47,58.17 L276.66,57.76 L276.85,57.32 L277.04,56.85 L277.22,56.33 L277.41,55.78 L277.60,55.17 L277.79,54.52 L277.98,53.83 L278.17,53.08 L278.36,52.29 L278.55,51.46 L278.73,50.61 L278.92,49.75 L279.11,48.91 L279.30,48.16 L279.49,47.58 L279.60,47.40 L279.68,47.50 L279.87,48.04 L280.06,48.77 L280.24,49.60 L280.43,50.45 L280.62,51.31 L280.81,52.15 L281.00,52.94 L281.19,53.70 L281.38,54.40 L281.57,55.06 L281.75,55.67 L281.94,56.24 L282.13,56.76 L282.32,57.24 L282.51,57.69 L282.70,58.10 L282.89,58.48 L283.08,58.84 L283.26,59.16 L283.45,59.47 L283.64,59.75 L283.83,60.01 L284.02,60.25 L284.21,60.48 L284.40,60.69 L284.59,60.89 L284.77,61.08 L284.96,61.25 L285.15,61.42 L285.34,61.57 L285.53,61.71 L285.72,61.85 L285.91,61.98 L286.10,62.10 L286.28,62.21 L286.47,62.32 L286.66,62.42 L286.85,62.52 L287.04,62.61 L287.23,62.70 L287.42,62.78 L287.61,62.86 L287.79,62.94 L287.98,63.01 L288.17,63.08 L288.36,63.14 L288.55,63.20 L288.74,63.26 L288.93,63.32 L289.12,63.38 L289.30,63.43 L289.49,63.48 L289.68,63.53 L289.87,63.57 L290.06,63.62 L290.25,63.66 L290.44,63.70 L290.62,63.74 L290.81,63.78 L291.00,63.81 L291.19,63.85 L291.38,63.88 L291.57,63.92 L291.76,63.95 L291.95,63.98 L292.14,64.01 L292.32,64.04 L292.51,64.06 L292.70,64.09 L292.89,64.12 L293.08,64.14 L293.27,64.17 L293.46,64.19 L293.65,64.21 L293.83,64.23 L294.02,64.26 L294.21,64.28 L294.40,64.30 L294.40,66.6 L264.20,66.6 Z" fill="#dbe9f5" opacity="0.35"/>
<path d="M264.20,64.36 L264.39,64.34 L264.58,64.32 L264.77,64.30 L264.96,64.28 L265.14,64.26 L265.33,64.24 L265.52,64.22 L265.71,64.19 L265.90,64.17 L266.09,64.15 L266.28,64.12 L266.47,64.10 L266.65,64.07 L266.84,64.04 L267.03,64.01 L267.22,63.98 L267.41,63.95 L267.60,63.92 L267.79,63.89 L267.98,63.86 L268.16,63.82 L268.35,63.78 L268.54,63.75 L268.73,63.71 L268.92,63.67 L269.11,63.63 L269.30,63.58 L269.49,63.54 L269.67,63.49 L269.86,63.44 L270.05,63.39 L270.24,63.33 L270.43,63.27 L270.62,63.22 L270.81,63.15 L271.00,63.09 L271.18,63.02 L271.37,62.95 L271.56,62.88 L271.75,62.80 L271.94,62.71 L272.13,62.63 L272.32,62.54 L272.51,62.44 L272.69,62.34 L272.88,62.23 L273.07,62.12 L273.26,62.00 L273.45,61.87 L273.64,61.74 L273.83,61.60 L274.02,61.44 L274.20,61.28 L274.39,61.11 L274.58,60.93 L274.77,60.73 L274.96,60.52 L275.15,60.30 L275.34,60.06 L275.53,59.80 L275.71,59.52 L275.90,59.22 L276.09,58.90 L276.28,58.55 L276.47,58.17 L276.66,57.76 L276.85,57.32 L277.04,56.85 L277.22,56.33 L277.41,55.78 L277.60,55.17 L277.79,54.52 L277.98,53.83 L278.17,53.08 L278.36,52.29 L278.55,51.46 L278.73,50.61 L278.92,49.75 L279.11,48.91 L279.30,48.16 L279.49,47.58 L279.60,47.40 L279.68,47.50 L279.87,48.04 L280.06,48.77 L280.24,49.60 L280.43,50.45 L280.62,51.31 L280.81,52.15 L281.00,52.94 L281.19,53.70 L281.38,54.40 L281.57,55.06 L281.75,55.67 L281.94,56.24 L282.13,56.76 L282.32,57.24 L282.51,57.69 L282.70,58.10 L282.89,58.48 L283.08,58.84 L283.26,59.16 L283.45,59.47 L283.64,59.75 L283.83,60.01 L284.02,60.25 L284.21,60.48 L284.40,60.69 L284.59,60.89 L284.77,61.08 L284.96,61.25 L285.15,61.42 L285.34,61.57 L285.53,61.71 L285.72,61.85 L285.91,61.98 L286.10,62.10 L286.28,62.21 L286.47,62.32 L286.66,62.42 L286.85,62.52 L287.04,62.61 L287.23,62.70 L287.42,62.78 L287.61,62.86 L287.79,62.94 L287.98,63.01 L288.17,63.08 L288.36,63.14 L288.55,63.20 L288.74,63.26 L288.93,63.32 L289.12,63.38 L289.30,63.43 L289.49,63.48 L289.68,63.53 L289.87,63.57 L290.06,63.62 L290.25,63.66 L290.44,63.70 L290.62,63.74 L290.81,63.78 L291.00,63.81 L291.19,63.85 L291.38,63.88 L291.57,63.92 L291.76,63.95 L291.95,63.98 L292.14,64.01 L292.32,64.04 L292.51,64.06 L292.70,64.09 L292.89,64.12 L293.08,64.14 L293.27,64.17 L293.46,64.19 L293.65,64.21 L293.83,64.23 L294.02,64.26 L294.21,64.28 L294.40,64.30" fill="none" stroke="#36648f" stroke-width="0.9"/>
<rect x="263.6" y="40.5" width="31.40" height="26.10" fill="none" stroke="#555" stroke-width="0.9"/>
<line x1="264.1" y1="65.69999999999999" x2="294.5" y2="65.69999999999999" stroke="#3d5f6f" stroke-width="0.9"/>
<path d="M326.80,64.40 L326.99,64.39 L327.18,64.37 L327.37,64.35 L327.56,64.34 L327.75,64.32 L327.94,64.30 L328.13,64.28 L328.32,64.26 L328.52,64.24 L328.71,64.22 L328.90,64.20 L329.09,64.17 L329.28,64.15 L329.47,64.12 L329.66,64.10 L329.85,64.07 L330.04,64.05 L330.23,64.02 L330.42,63.99 L330.61,63.96 L330.80,63.93 L330.99,63.90 L331.18,63.86 L331.38,63.83 L331.57,63.79 L331.76,63.75 L331.95,63.71 L332.14,63.67 L332.33,63.63 L332.52,63.58 L332.71,63.54 L332.90,63.49 L333.09,63.44 L333.28,63.38 L333.47,63.33 L333.66,63.27 L333.85,63.20 L334.04,63.14 L334.23,63.07 L334.43,63.00 L334.62,62.92 L334.81,62.84 L335.00,62.76 L335.19,62.67 L335.38,62.58 L335.57,62.48 L335.76,62.37 L335.95,62.26 L336.14,62.14 L336.33,62.02 L336.52,61.88 L336.71,61.74 L336.90,61.59 L337.09,61.43 L337.28,61.25 L337.48,61.06 L337.67,60.86 L337.86,60.65 L338.05,60.42 L338.24,60.17 L338.43,59.90 L338.62,59.61 L338.81,59.30 L339.00,58.96 L339.19,58.59 L339.38,58.20 L339.57,57.77 L339.76,57.30 L339.95,56.80 L340.14,56.25 L340.33,55.67 L340.52,55.04 L340.72,54.38 L340.91,53.68 L341.10,52.95 L341.29,52.22 L341.48,51.50 L341.67,50.84 L341.86,50.31 L342.00,50.10 L342.05,50.15 L342.24,50.57 L342.43,51.18 L342.62,51.87 L342.81,52.60 L343.00,53.33 L343.19,54.05 L343.38,54.73 L343.57,55.38 L343.77,55.98 L343.96,56.54 L344.15,57.07 L344.34,57.55 L344.53,58.00 L344.72,58.41 L344.91,58.79 L345.10,59.14 L345.29,59.47 L345.48,59.77 L345.67,60.04 L345.86,60.30 L346.05,60.54 L346.24,60.76 L346.43,60.97 L346.62,61.16 L346.82,61.34 L347.01,61.51 L347.20,61.67 L347.39,61.82 L347.58,61.95 L347.77,62.08 L347.96,62.21 L348.15,62.32 L348.34,62.43 L348.53,62.53 L348.72,62.63 L348.91,62.72 L349.10,62.80 L349.29,62.89 L349.48,62.96 L349.68,63.04 L349.87,63.11 L350.06,63.17 L350.25,63.24 L350.44,63.30 L350.63,63.36 L350.82,63.41 L351.01,63.46 L351.20,63.51 L351.39,63.56 L351.58,63.61 L351.77,63.65 L351.96,63.69 L352.15,63.73 L352.34,63.77 L352.53,63.81 L352.73,63.84 L352.92,63.88 L353.11,63.91 L353.30,63.94 L353.49,63.98 L353.68,64.00 L353.87,64.03 L354.06,64.06 L354.25,64.09 L354.44,64.11 L354.63,64.14 L354.82,64.16 L355.01,64.18 L355.20,64.21 L355.39,64.23 L355.58,64.25 L355.77,64.27 L355.97,64.29 L356.16,64.31 L356.35,64.33 L356.54,64.34 L356.73,64.36 L356.92,64.38 L357.11,64.40 L357.30,64.41 L357.30,66.6 L326.80,66.6 Z" fill="#dbe9f5" opacity="0.35"/>
<path d="M326.80,64.40 L326.99,64.39 L327.18,64.37 L327.37,64.35 L327.56,64.34 L327.75,64.32 L327.94,64.30 L328.13,64.28 L328.32,64.26 L328.52,64.24 L328.71,64.22 L328.90,64.20 L329.09,64.17 L329.28,64.15 L329.47,64.12 L329.66,64.10 L329.85,64.07 L330.04,64.05 L330.23,64.02 L330.42,63.99 L330.61,63.96 L330.80,63.93 L330.99,63.90 L331.18,63.86 L331.38,63.83 L331.57,63.79 L331.76,63.75 L331.95,63.71 L332.14,63.67 L332.33,63.63 L332.52,63.58 L332.71,63.54 L332.90,63.49 L333.09,63.44 L333.28,63.38 L333.47,63.33 L333.66,63.27 L333.85,63.20 L334.04,63.14 L334.23,63.07 L334.43,63.00 L334.62,62.92 L334.81,62.84 L335.00,62.76 L335.19,62.67 L335.38,62.58 L335.57,62.48 L335.76,62.37 L335.95,62.26 L336.14,62.14 L336.33,62.02 L336.52,61.88 L336.71,61.74 L336.90,61.59 L337.09,61.43 L337.28,61.25 L337.48,61.06 L337.67,60.86 L337.86,60.65 L338.05,60.42 L338.24,60.17 L338.43,59.90 L338.62,59.61 L338.81,59.30 L339.00,58.96 L339.19,58.59 L339.38,58.20 L339.57,57.77 L339.76,57.30 L339.95,56.80 L340.14,56.25 L340.33,55.67 L340.52,55.04 L340.72,54.38 L340.91,53.68 L341.10,52.95 L341.29,52.22 L341.48,51.50 L341.67,50.84 L341.86,50.31 L342.00,50.10 L342.05,50.15 L342.24,50.57 L342.43,51.18 L342.62,51.87 L342.81,52.60 L343.00,53.33 L343.19,54.05 L343.38,54.73 L343.57,55.38 L343.77,55.98 L343.96,56.54 L344.15,57.07 L344.34,57.55 L344.53,58.00 L344.72,58.41 L344.91,58.79 L345.10,59.14 L345.29,59.47 L345.48,59.77 L345.67,60.04 L345.86,60.30 L346.05,60.54 L346.24,60.76 L346.43,60.97 L346.62,61.16 L346.82,61.34 L347.01,61.51 L347.20,61.67 L347.39,61.82 L347.58,61.95 L347.77,62.08 L347.96,62.21 L348.15,62.32 L348.34,62.43 L348.53,62.53 L348.72,62.63 L348.91,62.72 L349.10,62.80 L349.29,62.89 L349.48,62.96 L349.68,63.04 L349.87,63.11 L350.06,63.17 L350.25,63.24 L350.44,63.30 L350.63,63.36 L350.82,63.41 L351.01,63.46 L351.20,63.51 L351.39,63.56 L351.58,63.61 L351.77,63.65 L351.96,63.69 L352.15,63.73 L352.34,63.77 L352.53,63.81 L352.73,63.84 L352.92,63.88 L353.11,63.91 L353.30,63.94 L353.49,63.98 L353.68,64.00 L353.87,64.03 L354.06,64.06 L354.25,64.09 L354.44,64.11 L354.63,64.14 L354.82,64.16 L355.01,64.18 L355.20,64.21 L355.39,64.23 L355.58,64.25 L355.77,64.27 L355.97,64.29 L356.16,64.31 L356.35,64.33 L356.54,64.34 L356.73,64.36 L356.92,64.38 L357.11,64.40 L357.30,64.41" fill="none" stroke="#36648f" stroke-width="0.9"/>
<rect x="326.2" y="40.5" width="31.70" height="26.10" fill="none" stroke="#555" stroke-width="0.9"/>
<line x1="326.7" y1="65.69999999999999" x2="357.4" y2="65.69999999999999" stroke="#3d5f6f" stroke-width="0.9"/>
<linearGradient id="gw_red1" x1="0" y1="0" x2="1" y2="0"><stop offset="0" stop-color="#f8e4d8" stop-opacity="0"/><stop offset="0.5" stop-color="#f8e4d8" stop-opacity="1"/><stop offset="1" stop-color="#f8e4d8" stop-opacity="0"/></linearGradient>
<linearGradient id="gw_red2" x1="0" y1="0" x2="1" y2="0"><stop offset="0" stop-color="#f0a890" stop-opacity="0"/><stop offset="0.5" stop-color="#f0a890" stop-opacity="1"/><stop offset="1" stop-color="#f0a890" stop-opacity="0"/></linearGradient>
<linearGradient id="gw_pink" x1="0" y1="0" x2="1" y2="0"><stop offset="0" stop-color="#fbe6f4" stop-opacity="0"/><stop offset="0.5" stop-color="#fbe6f4" stop-opacity="1"/><stop offset="1" stop-color="#fbe6f4" stop-opacity="0"/></linearGradient>
<linearGradient id="gw_or" x1="0" y1="0" x2="1" y2="0"><stop offset="0" stop-color="#fff6ee" stop-opacity="0"/><stop offset="0.5" stop-color="#fff6ee" stop-opacity="1"/><stop offset="1" stop-color="#fff6ee" stop-opacity="0"/></linearGradient>
<linearGradient id="gw_or2" x1="0" y1="0" x2="1" y2="0"><stop offset="0" stop-color="#f0a848" stop-opacity="0"/><stop offset="0.5" stop-color="#f0a848" stop-opacity="1"/><stop offset="1" stop-color="#f0a848" stop-opacity="0"/></linearGradient>
<linearGradient id="gw_pur" x1="0" y1="0" x2="1" y2="0"><stop offset="0" stop-color="#5a3aa0" stop-opacity="0"/><stop offset="0.5" stop-color="#5a3aa0" stop-opacity="1"/><stop offset="1" stop-color="#5a3aa0" stop-opacity="0"/></linearGradient>
<linearGradient id="gw_lav" x1="0" y1="0" x2="1" y2="0"><stop offset="0" stop-color="#c8b8e0" stop-opacity="0"/><stop offset="0.5" stop-color="#c8b8e0" stop-opacity="1"/><stop offset="1" stop-color="#c8b8e0" stop-opacity="0"/></linearGradient>
<linearGradient id="hg0" x1="0" y1="0" x2="0" y2="1"><stop offset="0.0000" stop-color="#c0d0de"/><stop offset="0.0096" stop-color="#d4dae2"/><stop offset="0.0198" stop-color="#f0d4cc"/><stop offset="0.0348" stop-color="#f8bbab"/><stop offset="0.0588" stop-color="#ed9281"/><stop offset="0.0888" stop-color="#e5726a"/><stop offset="0.1368" stop-color="#dc5e5e"/><stop offset="0.1968" stop-color="#d44953"/><stop offset="0.3767" stop-color="#c63243"/><stop offset="0.5267" stop-color="#bb2534"/><stop offset="0.7367" stop-color="#af1d32"/><stop offset="1.0000" stop-color="#a4152c"/></linearGradient>
<clipPath id="hc0"><rect x="24.4" y="67.2" width="31.00" height="166.70"/></clipPath>
<g clip-path="url(#hc0)">
<rect x="24.4" y="67.2" width="31.00" height="166.70" fill="url(#hg0)"/>
<rect x="44.6" y="125.9" width="10.8" height="0.7" fill="#7a0a20" opacity="0.06"/>
<rect x="24.4" y="166.5" width="7.4" height="1.1" fill="#7a0a20" opacity="0.07"/>
<rect x="24.4" y="161.5" width="12.8" height="0.7" fill="#7a0a20" opacity="0.11"/>
<rect x="49.2" y="223.7" width="6.2" height="1.1" fill="#7a0a20" opacity="0.11"/>
<rect x="24.4" y="96.1" width="6.6" height="0.9" fill="#7a0a20" opacity="0.13"/>
<rect x="50.1" y="103.5" width="5.3" height="1.1" fill="#7a0a20" opacity="0.12"/>
<rect x="24.4" y="163.6" width="14.6" height="1.1" fill="#7a0a20" opacity="0.09"/>
<rect x="24.4" y="124.4" width="31.0" height="1.1" fill="#7a0a20" opacity="0.07"/>
<rect x="24.4" y="103.4" width="14.6" height="0.7" fill="#7a0a20" opacity="0.10"/>
<rect x="24.4" y="129.0" width="14.6" height="0.9" fill="#7a0a20" opacity="0.06"/>
<rect x="24.4" y="140.7" width="14.6" height="0.9" fill="#7a0a20" opacity="0.05"/>
<rect x="40.2" y="179.9" width="15.2" height="1.1" fill="#7a0a20" opacity="0.08"/>
<rect x="40.2" y="184.2" width="15.2" height="1.1" fill="#7a0a20" opacity="0.06"/>
<rect x="40.2" y="89.9" width="15.2" height="0.9" fill="#7a0a20" opacity="0.06"/>
<rect x="40.2" y="185.1" width="15.2" height="1.1" fill="#7a0a20" opacity="0.09"/>
<rect x="24.4" y="187.5" width="14.6" height="1.1" fill="#7a0a20" opacity="0.09"/>
<rect x="24.4" y="170.9" width="14.6" height="0.9" fill="#7a0a20" opacity="0.06"/>
<rect x="24.4" y="114.0" width="31.0" height="0.9" fill="#7a0a20" opacity="0.07"/>
<rect x="24.4" y="138.1" width="31.0" height="0.9" fill="#7a0a20" opacity="0.14"/>
<rect x="24.4" y="118.8" width="31.0" height="0.9" fill="#7a0a20" opacity="0.09"/>
<rect x="24.4" y="111.4" width="6.1" height="0.7" fill="#7a0a20" opacity="0.10"/>
<rect x="24.4" y="167.5" width="8.3" height="0.9" fill="#7a0a20" opacity="0.11"/>
<rect x="40.2" y="125.1" width="15.2" height="0.7" fill="#7a0a20" opacity="0.11"/>
<rect x="40.2" y="181.2" width="15.2" height="0.7" fill="#7a0a20" opacity="0.15"/>
<rect x="40.2" y="181.8" width="15.2" height="1.1" fill="#7a0a20" opacity="0.06"/>
<rect x="24.4" y="174.6" width="14.6" height="0.7" fill="#7a0a20" opacity="0.09"/>
<rect x="24.4" y="92.4" width="5.5" height="1.1" fill="#7a0a20" opacity="0.06"/>
<rect x="24.4" y="132.2" width="7.1" height="0.7" fill="#7a0a20" opacity="0.11"/>
<rect x="44.4" y="224.9" width="11.0" height="1.1" fill="#7a0a20" opacity="0.15"/>
<rect x="24.4" y="148.2" width="9.9" height="0.9" fill="#7a0a20" opacity="0.12"/>
<rect x="24.4" y="67.2" width="31.00" height="166.70" filter="url(#grain)" opacity="0.16"/>
<rect x="24.4" y="67.2" width="31.00" height="166.70" filter="url(#grainw)" opacity="0.14"/>
<rect x="26.71" y="70.00" width="25.77" height="1.00" fill="url(#gw_red1)" opacity="0.892"/>
<rect x="26.94" y="71.00" width="25.32" height="1.00" fill="url(#gw_red1)" opacity="0.875"/>
<rect x="27.16" y="72.00" width="24.88" height="1.00" fill="url(#gw_red1)" opacity="0.858"/>
<rect x="27.39" y="73.00" width="24.43" height="1.00" fill="url(#gw_red1)" opacity="0.842"/>
<rect x="27.61" y="74.00" width="23.98" height="1.00" fill="url(#gw_red1)" opacity="0.825"/>
<rect x="27.84" y="75.00" width="23.52" height="1.00" fill="url(#gw_red1)" opacity="0.808"/>
<rect x="28.06" y="76.00" width="23.07" height="1.00" fill="url(#gw_red1)" opacity="0.792"/>
<rect x="28.29" y="77.00" width="22.62" height="1.00" fill="url(#gw_red1)" opacity="0.775"/>
<rect x="28.51" y="78.00" width="22.18" height="1.00" fill="url(#gw_red1)" opacity="0.758"/>
<rect x="28.74" y="79.00" width="21.73" height="1.00" fill="url(#gw_red1)" opacity="0.742"/>
<rect x="28.96" y="80.00" width="21.27" height="1.00" fill="url(#gw_red1)" opacity="0.725"/>
<rect x="29.19" y="81.00" width="20.82" height="1.00" fill="url(#gw_red1)" opacity="0.708"/>
<rect x="29.41" y="82.00" width="20.38" height="1.00" fill="url(#gw_red1)" opacity="0.692"/>
<rect x="29.64" y="83.00" width="19.93" height="1.00" fill="url(#gw_red1)" opacity="0.675"/>
<rect x="29.86" y="84.00" width="19.48" height="1.00" fill="url(#gw_red1)" opacity="0.658"/>
<rect x="30.09" y="85.00" width="19.02" height="1.00" fill="url(#gw_red1)" opacity="0.642"/>
<rect x="30.31" y="86.00" width="18.57" height="1.00" fill="url(#gw_red1)" opacity="0.625"/>
<rect x="30.54" y="87.00" width="18.12" height="1.00" fill="url(#gw_red1)" opacity="0.608"/>
<rect x="30.76" y="88.00" width="17.67" height="1.00" fill="url(#gw_red1)" opacity="0.592"/>
<rect x="30.99" y="89.00" width="17.23" height="1.00" fill="url(#gw_red1)" opacity="0.575"/>
<rect x="31.21" y="90.00" width="16.77" height="1.00" fill="url(#gw_red1)" opacity="0.558"/>
<rect x="31.44" y="91.00" width="16.32" height="1.00" fill="url(#gw_red1)" opacity="0.542"/>
<rect x="31.66" y="92.00" width="15.88" height="1.00" fill="url(#gw_red1)" opacity="0.525"/>
<rect x="31.89" y="93.00" width="15.42" height="1.00" fill="url(#gw_red1)" opacity="0.508"/>
<rect x="32.11" y="94.00" width="14.97" height="1.00" fill="url(#gw_red1)" opacity="0.492"/>
<rect x="32.34" y="95.00" width="14.53" height="1.00" fill="url(#gw_red1)" opacity="0.475"/>
<rect x="32.56" y="96.00" width="14.07" height="1.00" fill="url(#gw_red1)" opacity="0.458"/>
<rect x="32.79" y="97.00" width="13.62" height="1.00" fill="url(#gw_red1)" opacity="0.442"/>
<rect x="33.01" y="98.00" width="13.17" height="1.00" fill="url(#gw_red1)" opacity="0.425"/>
<rect x="33.24" y="99.00" width="12.72" height="1.00" fill="url(#gw_red1)" opacity="0.408"/>
<rect x="33.46" y="100.00" width="12.28" height="1.00" fill="url(#gw_red1)" opacity="0.392"/>
<rect x="33.69" y="101.00" width="11.82" height="1.00" fill="url(#gw_red1)" opacity="0.375"/>
<rect x="33.91" y="102.00" width="11.38" height="1.00" fill="url(#gw_red1)" opacity="0.358"/>
<rect x="34.14" y="103.00" width="10.92" height="1.00" fill="url(#gw_red1)" opacity="0.342"/>
<rect x="34.36" y="104.00" width="10.47" height="1.00" fill="url(#gw_red1)" opacity="0.325"/>
<rect x="34.59" y="105.00" width="10.03" height="1.00" fill="url(#gw_red1)" opacity="0.308"/>
<rect x="34.81" y="106.00" width="9.57" height="1.00" fill="url(#gw_red1)" opacity="0.292"/>
<rect x="35.04" y="107.00" width="9.12" height="1.00" fill="url(#gw_red1)" opacity="0.275"/>
<rect x="35.26" y="108.00" width="8.68" height="1.00" fill="url(#gw_red1)" opacity="0.258"/>
<rect x="35.49" y="109.00" width="8.22" height="1.00" fill="url(#gw_red1)" opacity="0.242"/>
<rect x="35.71" y="110.00" width="7.77" height="1.00" fill="url(#gw_red1)" opacity="0.225"/>
<rect x="35.94" y="111.00" width="7.32" height="1.00" fill="url(#gw_red1)" opacity="0.208"/>
<rect x="36.16" y="112.00" width="6.88" height="1.00" fill="url(#gw_red1)" opacity="0.192"/>
<rect x="36.39" y="113.00" width="6.43" height="1.00" fill="url(#gw_red1)" opacity="0.175"/>
<rect x="36.61" y="114.00" width="5.97" height="1.00" fill="url(#gw_red1)" opacity="0.158"/>
<rect x="36.84" y="115.00" width="5.52" height="1.00" fill="url(#gw_red1)" opacity="0.142"/>
<rect x="37.06" y="116.00" width="5.07" height="1.00" fill="url(#gw_red1)" opacity="0.125"/>
<rect x="37.10" y="117.00" width="5.00" height="1.00" fill="url(#gw_red1)" opacity="0.108"/>
<rect x="39.10" y="67.2" width="1.0" height="6" fill="#7890a0" opacity="0.8"/>
<linearGradient id="vl0_396" x1="0" y1="0" x2="0" y2="1"><stop offset="0.000" stop-color="#dcd0c8"/><stop offset="0.044" stop-color="#f4e0b8"/><stop offset="0.292" stop-color="#f4c8a8"/><stop offset="0.541" stop-color="#f09a90"/><stop offset="1.000" stop-color="#e88080"/></linearGradient>
<rect x="38.80" y="73" width="1.6" height="160.90" fill="url(#vl0_396)" opacity="0.95"/>
</g>
<linearGradient id="hg1" x1="0" y1="0" x2="0" y2="1"><stop offset="0.0000" stop-color="#eeb09c"/><stop offset="0.0168" stop-color="#eca08c"/><stop offset="0.0408" stop-color="#f08e7d"/><stop offset="0.0768" stop-color="#ea7968"/><stop offset="0.1968" stop-color="#e2645e"/><stop offset="0.5267" stop-color="#d13f47"/><stop offset="0.9166" stop-color="#b8263b"/><stop offset="1.0000" stop-color="#b42138"/></linearGradient>
<clipPath id="hc1"><rect x="84.5" y="67.2" width="30.70" height="166.70"/></clipPath>
<g clip-path="url(#hc1)">
<rect x="84.5" y="67.2" width="30.70" height="166.70" fill="url(#hg1)"/>
<rect x="84.5" y="150.2" width="11.4" height="1.1" fill="#90182a" opacity="0.12"/>
<rect x="84.5" y="98.2" width="30.7" height="1.1" fill="#90182a" opacity="0.10"/>
<rect x="108.0" y="175.9" width="7.2" height="0.7" fill="#90182a" opacity="0.08"/>
<rect x="100.4" y="196.2" width="14.8" height="1.1" fill="#90182a" opacity="0.14"/>
<rect x="84.5" y="171.3" width="30.7" height="0.7" fill="#90182a" opacity="0.15"/>
<rect x="100.4" y="110.7" width="14.8" height="1.1" fill="#90182a" opacity="0.18"/>
<rect x="84.5" y="199.0" width="14.7" height="0.9" fill="#90182a" opacity="0.17"/>
<rect x="84.5" y="145.3" width="30.7" height="1.1" fill="#90182a" opacity="0.10"/>
<rect x="100.4" y="109.7" width="14.8" height="0.7" fill="#90182a" opacity="0.12"/>
<rect x="84.5" y="229.6" width="30.7" height="1.1" fill="#90182a" opacity="0.14"/>
<rect x="84.5" y="200.5" width="15.2" height="0.7" fill="#90182a" opacity="0.15"/>
<rect x="100.4" y="106.4" width="14.8" height="0.7" fill="#90182a" opacity="0.07"/>
<rect x="100.4" y="223.5" width="14.8" height="1.1" fill="#90182a" opacity="0.17"/>
<rect x="84.5" y="188.8" width="18.3" height="0.7" fill="#90182a" opacity="0.12"/>
<rect x="84.5" y="178.0" width="30.7" height="1.1" fill="#90182a" opacity="0.14"/>
<rect x="104.8" y="130.1" width="10.4" height="1.1" fill="#90182a" opacity="0.15"/>
<rect x="84.5" y="91.3" width="30.7" height="1.1" fill="#90182a" opacity="0.16"/>
<rect x="84.5" y="204.7" width="8.1" height="0.7" fill="#90182a" opacity="0.15"/>
<rect x="104.0" y="126.3" width="11.2" height="1.1" fill="#90182a" opacity="0.10"/>
<rect x="84.5" y="147.0" width="30.7" height="1.1" fill="#90182a" opacity="0.16"/>
<rect x="84.5" y="67.2" width="30.70" height="166.70" filter="url(#grain)" opacity="0.24"/>
<rect x="84.5" y="67.2" width="30.70" height="166.70" filter="url(#grainw)" opacity="0.22"/>
<linearGradient id="vl1_998" x1="0" y1="0" x2="0" y2="1"><stop offset="0.000" stop-color="#f4c0b0"/><stop offset="0.193" stop-color="#eea090"/><stop offset="1.000" stop-color="#d86060"/></linearGradient>
<rect x="99.15" y="68" width="1.3" height="165.90" fill="url(#vl1_998)" opacity="0.9"/>
</g>
<linearGradient id="hg2" x1="0" y1="0" x2="0" y2="1"><stop offset="0.0000" stop-color="#d8d0d4"/><stop offset="0.0042" stop-color="#a8a0a0"/><stop offset="0.0066" stop-color="#332e2a"/><stop offset="0.0180" stop-color="#332e2a"/><stop offset="0.0216" stop-color="#c4aab4"/><stop offset="0.0312" stop-color="#e4bbd3"/><stop offset="0.0378" stop-color="#f9c2e6"/><stop offset="0.0768" stop-color="#fab9e4"/><stop offset="0.1968" stop-color="#f192ce"/><stop offset="0.5267" stop-color="#e84da3"/><stop offset="0.9166" stop-color="#ca167b"/><stop offset="1.0000" stop-color="#c61178"/></linearGradient>
<clipPath id="hc2"><rect x="143.4" y="67.2" width="31.50" height="166.70"/></clipPath>
<g clip-path="url(#hc2)">
<rect x="143.4" y="67.2" width="31.50" height="166.70" fill="url(#hg2)"/>
<rect x="160.0" y="212.8" width="14.9" height="0.7" fill="#901060" opacity="0.08"/>
<rect x="160.0" y="144.2" width="14.9" height="0.7" fill="#901060" opacity="0.11"/>
<rect x="143.4" y="97.4" width="31.5" height="1.1" fill="#901060" opacity="0.15"/>
<rect x="160.0" y="156.4" width="14.9" height="1.1" fill="#901060" opacity="0.27"/>
<rect x="143.4" y="84.1" width="15.4" height="0.7" fill="#901060" opacity="0.19"/>
<rect x="160.0" y="163.2" width="14.9" height="0.7" fill="#901060" opacity="0.19"/>
<rect x="143.4" y="155.5" width="15.4" height="1.1" fill="#901060" opacity="0.26"/>
<rect x="160.0" y="154.8" width="14.9" height="0.7" fill="#901060" opacity="0.29"/>
<rect x="143.4" y="115.9" width="16.5" height="1.1" fill="#901060" opacity="0.17"/>
<rect x="143.4" y="136.7" width="5.2" height="0.9" fill="#901060" opacity="0.23"/>
<rect x="143.4" y="198.0" width="31.5" height="0.7" fill="#901060" opacity="0.16"/>
<rect x="143.4" y="114.9" width="24.5" height="0.7" fill="#901060" opacity="0.17"/>
<rect x="143.4" y="151.6" width="16.2" height="1.1" fill="#901060" opacity="0.19"/>
<rect x="167.7" y="128.3" width="7.2" height="0.7" fill="#901060" opacity="0.15"/>
<rect x="143.4" y="147.1" width="15.4" height="1.1" fill="#901060" opacity="0.22"/>
<rect x="143.4" y="155.5" width="15.4" height="0.7" fill="#901060" opacity="0.13"/>
<rect x="143.4" y="212.5" width="10.6" height="0.7" fill="#901060" opacity="0.14"/>
<rect x="143.4" y="95.5" width="31.5" height="0.9" fill="#901060" opacity="0.29"/>
<rect x="143.4" y="138.8" width="31.5" height="1.1" fill="#901060" opacity="0.23"/>
<rect x="143.4" y="89.2" width="23.6" height="0.7" fill="#901060" opacity="0.14"/>
<rect x="143.4" y="77.8" width="22.9" height="0.7" fill="#901060" opacity="0.09"/>
<rect x="143.4" y="210.4" width="15.4" height="0.9" fill="#901060" opacity="0.17"/>
<rect x="143.4" y="218.6" width="15.4" height="1.1" fill="#901060" opacity="0.13"/>
<rect x="143.4" y="92.4" width="11.8" height="0.7" fill="#901060" opacity="0.22"/>
<rect x="143.4" y="158.4" width="15.4" height="0.7" fill="#901060" opacity="0.12"/>
<rect x="143.4" y="129.6" width="9.7" height="0.7" fill="#901060" opacity="0.19"/>
<rect x="160.0" y="228.5" width="14.9" height="1.1" fill="#901060" opacity="0.10"/>
<rect x="160.0" y="203.5" width="14.9" height="0.9" fill="#901060" opacity="0.28"/>
<rect x="160.0" y="227.2" width="14.9" height="0.9" fill="#901060" opacity="0.16"/>
<rect x="143.4" y="205.6" width="25.0" height="1.1" fill="#901060" opacity="0.30"/>
<rect x="143.4" y="206.4" width="15.4" height="0.7" fill="#901060" opacity="0.14"/>
<rect x="160.0" y="100.8" width="14.9" height="0.7" fill="#901060" opacity="0.19"/>
<rect x="143.4" y="227.3" width="8.2" height="1.1" fill="#901060" opacity="0.11"/>
<rect x="160.0" y="145.1" width="14.9" height="0.9" fill="#901060" opacity="0.30"/>
<rect x="143.4" y="125.9" width="31.5" height="0.7" fill="#901060" opacity="0.16"/>
<rect x="143.4" y="75.4" width="9.7" height="0.9" fill="#901060" opacity="0.13"/>
<rect x="143.4" y="196.8" width="7.7" height="0.7" fill="#901060" opacity="0.09"/>
<rect x="163.3" y="78.7" width="11.6" height="0.9" fill="#901060" opacity="0.27"/>
<rect x="143.4" y="99.5" width="31.5" height="1.1" fill="#901060" opacity="0.25"/>
<rect x="143.4" y="188.1" width="15.4" height="0.9" fill="#901060" opacity="0.22"/>
<rect x="143.4" y="82.1" width="31.5" height="1.1" fill="#901060" opacity="0.24"/>
<rect x="143.4" y="202.5" width="31.5" height="0.7" fill="#901060" opacity="0.21"/>
<rect x="143.4" y="202.6" width="31.5" height="0.7" fill="#901060" opacity="0.28"/>
<rect x="170.1" y="182.2" width="4.8" height="1.1" fill="#901060" opacity="0.22"/>
<rect x="143.4" y="225.6" width="31.5" height="0.9" fill="#901060" opacity="0.22"/>
<rect x="143.4" y="173.3" width="8.1" height="1.1" fill="#901060" opacity="0.10"/>
<rect x="143.4" y="221.3" width="15.4" height="1.1" fill="#901060" opacity="0.24"/>
<rect x="143.4" y="149.5" width="21.4" height="0.7" fill="#901060" opacity="0.13"/>
<rect x="160.0" y="177.0" width="14.9" height="0.9" fill="#901060" opacity="0.19"/>
<rect x="160.0" y="182.3" width="14.9" height="0.7" fill="#901060" opacity="0.10"/>
<rect x="160.0" y="98.3" width="14.9" height="0.9" fill="#901060" opacity="0.22"/>
<rect x="143.4" y="96.1" width="9.8" height="0.9" fill="#901060" opacity="0.23"/>
<rect x="143.4" y="181.1" width="16.8" height="0.9" fill="#901060" opacity="0.25"/>
<rect x="143.4" y="230.9" width="15.4" height="1.1" fill="#901060" opacity="0.29"/>
<rect x="143.4" y="77.9" width="15.4" height="0.9" fill="#901060" opacity="0.30"/>
<rect x="143.4" y="231.0" width="15.4" height="0.9" fill="#901060" opacity="0.13"/>
<rect x="143.4" y="166.3" width="15.1" height="0.7" fill="#901060" opacity="0.21"/>
<rect x="143.4" y="174.2" width="31.5" height="0.9" fill="#901060" opacity="0.13"/>
<rect x="163.4" y="215.9" width="11.5" height="0.9" fill="#901060" opacity="0.23"/>
<rect x="143.4" y="138.7" width="15.4" height="1.1" fill="#901060" opacity="0.15"/>
<rect x="143.4" y="206.9" width="15.4" height="0.7" fill="#901060" opacity="0.17"/>
<rect x="143.4" y="222.5" width="31.5" height="0.7" fill="#901060" opacity="0.14"/>
<rect x="160.0" y="133.5" width="14.9" height="0.9" fill="#901060" opacity="0.10"/>
<rect x="143.4" y="220.2" width="10.3" height="0.9" fill="#901060" opacity="0.23"/>
<rect x="143.4" y="174.7" width="8.6" height="0.7" fill="#901060" opacity="0.12"/>
<rect x="143.4" y="133.7" width="31.5" height="0.9" fill="#901060" opacity="0.22"/>
<rect x="160.0" y="218.3" width="14.9" height="1.1" fill="#901060" opacity="0.09"/>
<rect x="164.0" y="190.0" width="10.9" height="0.9" fill="#901060" opacity="0.19"/>
<rect x="143.4" y="218.1" width="15.4" height="1.1" fill="#901060" opacity="0.16"/>
<rect x="143.4" y="121.9" width="31.5" height="1.1" fill="#901060" opacity="0.17"/>
<rect x="160.0" y="112.6" width="14.9" height="0.9" fill="#901060" opacity="0.12"/>
<rect x="160.0" y="100.5" width="14.9" height="0.7" fill="#901060" opacity="0.20"/>
<rect x="143.4" y="146.2" width="31.5" height="0.9" fill="#901060" opacity="0.11"/>
<rect x="143.4" y="105.4" width="15.4" height="0.7" fill="#901060" opacity="0.15"/>
<rect x="143.4" y="132.9" width="11.3" height="1.1" fill="#901060" opacity="0.16"/>
<rect x="143.4" y="67.2" width="31.50" height="166.70" filter="url(#grain)" opacity="0.14"/>
<rect x="155.93" y="72.00" width="6.94" height="2.00" fill="url(#gw_pink)" opacity="0.545"/>
<rect x="155.99" y="74.00" width="6.82" height="2.00" fill="url(#gw_pink)" opacity="0.534"/>
<rect x="156.05" y="76.00" width="6.70" height="2.00" fill="url(#gw_pink)" opacity="0.524"/>
<rect x="156.11" y="78.00" width="6.58" height="2.00" fill="url(#gw_pink)" opacity="0.514"/>
<rect x="156.17" y="80.00" width="6.46" height="2.00" fill="url(#gw_pink)" opacity="0.503"/>
<rect x="156.23" y="82.00" width="6.34" height="2.00" fill="url(#gw_pink)" opacity="0.493"/>
<rect x="156.29" y="84.00" width="6.22" height="2.00" fill="url(#gw_pink)" opacity="0.483"/>
<rect x="156.35" y="86.00" width="6.10" height="2.00" fill="url(#gw_pink)" opacity="0.472"/>
<rect x="156.41" y="88.00" width="5.98" height="2.00" fill="url(#gw_pink)" opacity="0.462"/>
<rect x="156.47" y="90.00" width="5.86" height="2.00" fill="url(#gw_pink)" opacity="0.452"/>
<rect x="156.53" y="92.00" width="5.74" height="2.00" fill="url(#gw_pink)" opacity="0.441"/>
<rect x="156.59" y="94.00" width="5.62" height="2.00" fill="url(#gw_pink)" opacity="0.431"/>
<rect x="156.65" y="96.00" width="5.50" height="2.00" fill="url(#gw_pink)" opacity="0.421"/>
<rect x="156.71" y="98.00" width="5.38" height="2.00" fill="url(#gw_pink)" opacity="0.410"/>
<rect x="156.77" y="100.00" width="5.26" height="2.00" fill="url(#gw_pink)" opacity="0.400"/>
<rect x="156.83" y="102.00" width="5.14" height="2.00" fill="url(#gw_pink)" opacity="0.390"/>
<rect x="156.89" y="104.00" width="5.02" height="2.00" fill="url(#gw_pink)" opacity="0.379"/>
<rect x="156.95" y="106.00" width="4.90" height="2.00" fill="url(#gw_pink)" opacity="0.369"/>
<rect x="157.01" y="108.00" width="4.78" height="2.00" fill="url(#gw_pink)" opacity="0.359"/>
<rect x="157.07" y="110.00" width="4.66" height="2.00" fill="url(#gw_pink)" opacity="0.348"/>
<rect x="157.13" y="112.00" width="4.54" height="2.00" fill="url(#gw_pink)" opacity="0.338"/>
<rect x="157.19" y="114.00" width="4.42" height="2.00" fill="url(#gw_pink)" opacity="0.328"/>
<rect x="157.25" y="116.00" width="4.30" height="2.00" fill="url(#gw_pink)" opacity="0.317"/>
<rect x="157.31" y="118.00" width="4.18" height="2.00" fill="url(#gw_pink)" opacity="0.307"/>
<rect x="157.37" y="120.00" width="4.06" height="2.00" fill="url(#gw_pink)" opacity="0.297"/>
<rect x="157.43" y="122.00" width="3.94" height="2.00" fill="url(#gw_pink)" opacity="0.286"/>
<rect x="157.49" y="124.00" width="3.82" height="2.00" fill="url(#gw_pink)" opacity="0.276"/>
<rect x="157.55" y="126.00" width="3.70" height="2.00" fill="url(#gw_pink)" opacity="0.266"/>
<rect x="157.61" y="128.00" width="3.58" height="2.00" fill="url(#gw_pink)" opacity="0.255"/>
<linearGradient id="vl2_1594" x1="0" y1="0" x2="0" y2="1"><stop offset="0.000" stop-color="#f8e8f2"/><stop offset="0.482" stop-color="#f8d8ee"/><stop offset="1.000" stop-color="#f080c8"/></linearGradient>
<rect x="158.80" y="72" width="1.2" height="161.90" fill="url(#vl2_1594)" opacity="0.85"/>
</g>
<linearGradient id="hg3" x1="0" y1="0" x2="0" y2="1"><stop offset="0.0000" stop-color="#d8d0d4"/><stop offset="0.0042" stop-color="#a8a0a0"/><stop offset="0.0066" stop-color="#332e2a"/><stop offset="0.0180" stop-color="#332e2a"/><stop offset="0.0216" stop-color="#c8acb8"/><stop offset="0.0312" stop-color="#e7bed6"/><stop offset="0.0378" stop-color="#fac3e7"/><stop offset="0.0768" stop-color="#fbbee6"/><stop offset="0.1968" stop-color="#f09ad2"/><stop offset="0.5267" stop-color="#e751a7"/><stop offset="0.9166" stop-color="#cb1a7e"/><stop offset="1.0000" stop-color="#c7137a"/></linearGradient>
<clipPath id="hc3"><rect x="203.3" y="67.2" width="31.50" height="166.70"/></clipPath>
<g clip-path="url(#hc3)">
<rect x="203.3" y="67.2" width="31.50" height="166.70" fill="url(#hg3)"/>
<rect x="220.1" y="192.1" width="14.7" height="0.7" fill="#901060" opacity="0.09"/>
<rect x="203.3" y="118.7" width="15.6" height="0.9" fill="#901060" opacity="0.22"/>
<rect x="203.3" y="210.4" width="15.6" height="0.7" fill="#901060" opacity="0.16"/>
<rect x="203.3" y="176.4" width="31.5" height="0.9" fill="#901060" opacity="0.27"/>
<rect x="220.1" y="78.6" width="14.7" height="0.7" fill="#901060" opacity="0.26"/>
<rect x="203.3" y="226.9" width="15.6" height="0.9" fill="#901060" opacity="0.28"/>
<rect x="203.3" y="204.6" width="11.2" height="0.9" fill="#901060" opacity="0.11"/>
<rect x="203.3" y="157.1" width="15.6" height="1.1" fill="#901060" opacity="0.23"/>
<rect x="203.3" y="207.8" width="15.6" height="0.9" fill="#901060" opacity="0.08"/>
<rect x="203.3" y="94.9" width="31.5" height="1.1" fill="#901060" opacity="0.15"/>
<rect x="220.1" y="95.3" width="14.7" height="0.9" fill="#901060" opacity="0.25"/>
<rect x="220.1" y="90.8" width="14.7" height="0.9" fill="#901060" opacity="0.17"/>
<rect x="203.3" y="110.2" width="15.6" height="1.1" fill="#901060" opacity="0.30"/>
<rect x="220.1" y="118.9" width="14.7" height="0.9" fill="#901060" opacity="0.18"/>
<rect x="203.3" y="112.0" width="15.6" height="0.7" fill="#901060" opacity="0.22"/>
<rect x="220.1" y="83.9" width="14.7" height="0.7" fill="#901060" opacity="0.17"/>
<rect x="220.1" y="115.5" width="14.7" height="1.1" fill="#901060" opacity="0.19"/>
<rect x="220.1" y="184.2" width="14.7" height="1.1" fill="#901060" opacity="0.12"/>
<rect x="203.3" y="200.1" width="17.3" height="1.1" fill="#901060" opacity="0.12"/>
<rect x="203.3" y="195.2" width="10.6" height="0.7" fill="#901060" opacity="0.14"/>
<rect x="220.1" y="224.4" width="14.7" height="0.9" fill="#901060" opacity="0.19"/>
<rect x="203.3" y="217.9" width="15.6" height="0.7" fill="#901060" opacity="0.13"/>
<rect x="220.1" y="227.8" width="14.7" height="0.7" fill="#901060" opacity="0.12"/>
<rect x="203.3" y="145.7" width="31.5" height="1.1" fill="#901060" opacity="0.30"/>
<rect x="203.3" y="221.2" width="15.6" height="0.9" fill="#901060" opacity="0.20"/>
<rect x="220.1" y="148.5" width="14.7" height="0.9" fill="#901060" opacity="0.16"/>
<rect x="203.3" y="127.2" width="5.3" height="0.7" fill="#901060" opacity="0.17"/>
<rect x="203.3" y="213.9" width="15.1" height="1.1" fill="#901060" opacity="0.26"/>
<rect x="203.3" y="204.0" width="15.6" height="0.9" fill="#901060" opacity="0.12"/>
<rect x="203.3" y="160.1" width="15.6" height="0.9" fill="#901060" opacity="0.28"/>
<rect x="203.3" y="79.9" width="15.6" height="0.9" fill="#901060" opacity="0.17"/>
<rect x="203.3" y="134.1" width="15.6" height="0.9" fill="#901060" opacity="0.14"/>
<rect x="203.3" y="192.3" width="12.1" height="1.1" fill="#901060" opacity="0.22"/>
<rect x="220.1" y="116.3" width="14.7" height="1.1" fill="#901060" opacity="0.15"/>
<rect x="203.3" y="188.3" width="31.5" height="1.1" fill="#901060" opacity="0.29"/>
<rect x="203.3" y="79.0" width="15.6" height="0.7" fill="#901060" opacity="0.18"/>
<rect x="203.3" y="196.9" width="31.5" height="0.9" fill="#901060" opacity="0.11"/>
<rect x="203.3" y="153.0" width="31.5" height="0.7" fill="#901060" opacity="0.26"/>
<rect x="203.3" y="196.3" width="15.6" height="1.1" fill="#901060" opacity="0.18"/>
<rect x="203.3" y="198.0" width="10.6" height="1.1" fill="#901060" opacity="0.13"/>
<rect x="220.1" y="85.3" width="14.7" height="0.7" fill="#901060" opacity="0.12"/>
<rect x="203.3" y="142.0" width="10.8" height="0.7" fill="#901060" opacity="0.10"/>
<rect x="203.3" y="153.3" width="11.5" height="1.1" fill="#901060" opacity="0.18"/>
<rect x="203.3" y="214.9" width="31.5" height="0.7" fill="#901060" opacity="0.23"/>
<rect x="203.3" y="94.2" width="15.6" height="0.9" fill="#901060" opacity="0.16"/>
<rect x="228.7" y="190.9" width="6.1" height="0.7" fill="#901060" opacity="0.14"/>
<rect x="203.3" y="217.4" width="15.6" height="0.7" fill="#901060" opacity="0.30"/>
<rect x="227.0" y="154.7" width="7.8" height="0.7" fill="#901060" opacity="0.09"/>
<rect x="203.3" y="75.9" width="31.5" height="0.7" fill="#901060" opacity="0.09"/>
<rect x="203.3" y="121.2" width="15.6" height="0.7" fill="#901060" opacity="0.26"/>
<rect x="220.1" y="105.6" width="14.7" height="0.7" fill="#901060" opacity="0.18"/>
<rect x="203.3" y="115.9" width="18.8" height="1.1" fill="#901060" opacity="0.22"/>
<rect x="203.3" y="109.3" width="12.5" height="0.9" fill="#901060" opacity="0.09"/>
<rect x="203.3" y="189.9" width="31.5" height="0.7" fill="#901060" opacity="0.17"/>
<rect x="203.3" y="133.5" width="10.9" height="1.1" fill="#901060" opacity="0.20"/>
<rect x="203.3" y="85.1" width="31.5" height="0.7" fill="#901060" opacity="0.11"/>
<rect x="203.3" y="158.9" width="15.6" height="1.1" fill="#901060" opacity="0.17"/>
<rect x="224.9" y="119.6" width="9.9" height="0.9" fill="#901060" opacity="0.27"/>
<rect x="203.3" y="140.1" width="31.5" height="0.7" fill="#901060" opacity="0.16"/>
<rect x="220.1" y="106.1" width="14.7" height="1.1" fill="#901060" opacity="0.18"/>
<rect x="203.3" y="99.7" width="31.5" height="0.7" fill="#901060" opacity="0.27"/>
<rect x="203.3" y="147.4" width="5.8" height="0.7" fill="#901060" opacity="0.26"/>
<rect x="220.1" y="137.4" width="14.7" height="1.1" fill="#901060" opacity="0.19"/>
<rect x="203.3" y="98.1" width="5.2" height="0.9" fill="#901060" opacity="0.16"/>
<rect x="203.3" y="193.3" width="15.6" height="0.7" fill="#901060" opacity="0.09"/>
<rect x="203.3" y="218.2" width="15.6" height="0.9" fill="#901060" opacity="0.17"/>
<rect x="220.1" y="216.9" width="14.7" height="1.1" fill="#901060" opacity="0.22"/>
<rect x="220.1" y="209.4" width="14.7" height="1.1" fill="#901060" opacity="0.26"/>
<rect x="203.3" y="103.9" width="15.6" height="0.7" fill="#901060" opacity="0.11"/>
<rect x="203.3" y="131.5" width="15.6" height="0.7" fill="#901060" opacity="0.28"/>
<rect x="203.3" y="81.6" width="31.5" height="1.1" fill="#901060" opacity="0.23"/>
<rect x="220.1" y="126.0" width="14.7" height="0.9" fill="#901060" opacity="0.22"/>
<rect x="203.3" y="123.2" width="7.7" height="0.9" fill="#901060" opacity="0.16"/>
<rect x="203.3" y="154.1" width="15.6" height="0.7" fill="#901060" opacity="0.19"/>
<rect x="203.3" y="112.1" width="31.5" height="1.1" fill="#901060" opacity="0.12"/>
<rect x="203.3" y="67.2" width="31.50" height="166.70" filter="url(#grain)" opacity="0.14"/>
<rect x="216.03" y="72.00" width="6.94" height="2.00" fill="url(#gw_pink)" opacity="0.545"/>
<rect x="216.09" y="74.00" width="6.82" height="2.00" fill="url(#gw_pink)" opacity="0.534"/>
<rect x="216.15" y="76.00" width="6.70" height="2.00" fill="url(#gw_pink)" opacity="0.524"/>
<rect x="216.21" y="78.00" width="6.58" height="2.00" fill="url(#gw_pink)" opacity="0.514"/>
<rect x="216.27" y="80.00" width="6.46" height="2.00" fill="url(#gw_pink)" opacity="0.503"/>
<rect x="216.33" y="82.00" width="6.34" height="2.00" fill="url(#gw_pink)" opacity="0.493"/>
<rect x="216.39" y="84.00" width="6.22" height="2.00" fill="url(#gw_pink)" opacity="0.483"/>
<rect x="216.45" y="86.00" width="6.10" height="2.00" fill="url(#gw_pink)" opacity="0.472"/>
<rect x="216.51" y="88.00" width="5.98" height="2.00" fill="url(#gw_pink)" opacity="0.462"/>
<rect x="216.57" y="90.00" width="5.86" height="2.00" fill="url(#gw_pink)" opacity="0.452"/>
<rect x="216.63" y="92.00" width="5.74" height="2.00" fill="url(#gw_pink)" opacity="0.441"/>
<rect x="216.69" y="94.00" width="5.62" height="2.00" fill="url(#gw_pink)" opacity="0.431"/>
<rect x="216.75" y="96.00" width="5.50" height="2.00" fill="url(#gw_pink)" opacity="0.421"/>
<rect x="216.81" y="98.00" width="5.38" height="2.00" fill="url(#gw_pink)" opacity="0.410"/>
<rect x="216.87" y="100.00" width="5.26" height="2.00" fill="url(#gw_pink)" opacity="0.400"/>
<rect x="216.93" y="102.00" width="5.14" height="2.00" fill="url(#gw_pink)" opacity="0.390"/>
<rect x="216.99" y="104.00" width="5.02" height="2.00" fill="url(#gw_pink)" opacity="0.379"/>
<rect x="217.05" y="106.00" width="4.90" height="2.00" fill="url(#gw_pink)" opacity="0.369"/>
<rect x="217.11" y="108.00" width="4.78" height="2.00" fill="url(#gw_pink)" opacity="0.359"/>
<rect x="217.17" y="110.00" width="4.66" height="2.00" fill="url(#gw_pink)" opacity="0.348"/>
<rect x="217.23" y="112.00" width="4.54" height="2.00" fill="url(#gw_pink)" opacity="0.338"/>
<rect x="217.29" y="114.00" width="4.42" height="2.00" fill="url(#gw_pink)" opacity="0.328"/>
<rect x="217.35" y="116.00" width="4.30" height="2.00" fill="url(#gw_pink)" opacity="0.317"/>
<rect x="217.41" y="118.00" width="4.18" height="2.00" fill="url(#gw_pink)" opacity="0.307"/>
<rect x="217.47" y="120.00" width="4.06" height="2.00" fill="url(#gw_pink)" opacity="0.297"/>
<rect x="217.53" y="122.00" width="3.94" height="2.00" fill="url(#gw_pink)" opacity="0.286"/>
<rect x="217.59" y="124.00" width="3.82" height="2.00" fill="url(#gw_pink)" opacity="0.276"/>
<rect x="217.65" y="126.00" width="3.70" height="2.00" fill="url(#gw_pink)" opacity="0.266"/>
<rect x="217.71" y="128.00" width="3.58" height="2.00" fill="url(#gw_pink)" opacity="0.255"/>
<linearGradient id="vl3_2195" x1="0" y1="0" x2="0" y2="1"><stop offset="0.000" stop-color="#f8e8f2"/><stop offset="0.482" stop-color="#f8d8ee"/><stop offset="1.000" stop-color="#f080c8"/></linearGradient>
<rect x="218.90" y="72" width="1.2" height="161.90" fill="url(#vl3_2195)" opacity="0.85"/>
</g>
<linearGradient id="hg4" x1="0" y1="0" x2="0" y2="1"><stop offset="0.0000" stop-color="#e2dae6"/><stop offset="0.0138" stop-color="#ecdcd8"/><stop offset="0.0288" stop-color="#fadcb8"/><stop offset="0.0468" stop-color="#ffce8c"/><stop offset="0.0768" stop-color="#f7ad4a"/><stop offset="0.1068" stop-color="#f39f31"/><stop offset="0.1968" stop-color="#ef810f"/><stop offset="0.3767" stop-color="#de6f0a"/><stop offset="0.5267" stop-color="#d26208"/><stop offset="0.7367" stop-color="#c1540a"/><stop offset="1.0000" stop-color="#ad460a"/></linearGradient>
<clipPath id="hc4"><rect x="263.6" y="67.2" width="31.40" height="166.70"/></clipPath>
<g clip-path="url(#hc4)">
<rect x="263.6" y="67.2" width="31.40" height="166.70" fill="url(#hg4)"/>
<rect x="263.6" y="149.4" width="15.4" height="0.7" fill="#7a3006" opacity="0.22"/>
<rect x="285.9" y="200.9" width="9.1" height="1.1" fill="#7a3006" opacity="0.14"/>
<rect x="286.8" y="190.1" width="8.2" height="1.1" fill="#7a3006" opacity="0.23"/>
<rect x="263.6" y="224.2" width="9.3" height="0.7" fill="#7a3006" opacity="0.31"/>
<rect x="263.6" y="92.4" width="31.4" height="0.7" fill="#7a3006" opacity="0.39"/>
<rect x="280.2" y="218.7" width="14.8" height="0.7" fill="#7a3006" opacity="0.18"/>
<rect x="263.6" y="205.7" width="23.5" height="1.1" fill="#7a3006" opacity="0.20"/>
<rect x="263.6" y="203.0" width="15.4" height="0.7" fill="#7a3006" opacity="0.25"/>
<rect x="280.2" y="167.9" width="14.8" height="1.1" fill="#7a3006" opacity="0.13"/>
<rect x="288.1" y="103.7" width="6.9" height="0.7" fill="#7a3006" opacity="0.23"/>
<rect x="263.6" y="199.3" width="15.4" height="0.9" fill="#7a3006" opacity="0.30"/>
<rect x="280.2" y="131.6" width="14.8" height="0.9" fill="#7a3006" opacity="0.37"/>
<rect x="280.2" y="91.6" width="14.8" height="1.1" fill="#7a3006" opacity="0.34"/>
<rect x="280.2" y="116.7" width="14.8" height="0.9" fill="#7a3006" opacity="0.33"/>
<rect x="280.2" y="144.5" width="14.8" height="0.7" fill="#7a3006" opacity="0.20"/>
<rect x="280.2" y="156.1" width="14.8" height="0.9" fill="#7a3006" opacity="0.28"/>
<rect x="263.6" y="179.2" width="31.4" height="0.9" fill="#7a3006" opacity="0.18"/>
<rect x="280.2" y="120.8" width="14.8" height="1.1" fill="#7a3006" opacity="0.37"/>
<rect x="290.2" y="95.9" width="4.8" height="0.7" fill="#7a3006" opacity="0.28"/>
<rect x="286.2" y="122.8" width="8.8" height="1.1" fill="#7a3006" opacity="0.28"/>
<rect x="263.6" y="107.2" width="9.6" height="1.1" fill="#7a3006" opacity="0.34"/>
<rect x="263.6" y="186.1" width="15.4" height="0.9" fill="#7a3006" opacity="0.36"/>
<rect x="263.6" y="197.8" width="31.4" height="0.9" fill="#7a3006" opacity="0.14"/>
<rect x="280.2" y="203.8" width="14.8" height="0.9" fill="#7a3006" opacity="0.29"/>
<rect x="263.6" y="156.3" width="15.4" height="0.9" fill="#7a3006" opacity="0.13"/>
<rect x="263.6" y="158.5" width="11.6" height="0.9" fill="#7a3006" opacity="0.15"/>
<rect x="263.6" y="171.2" width="12.6" height="1.1" fill="#7a3006" opacity="0.29"/>
<rect x="280.2" y="154.6" width="14.8" height="1.1" fill="#7a3006" opacity="0.26"/>
<rect x="263.6" y="85.2" width="15.4" height="1.1" fill="#7a3006" opacity="0.34"/>
<rect x="280.2" y="187.3" width="14.8" height="0.7" fill="#7a3006" opacity="0.38"/>
<rect x="289.8" y="87.8" width="5.2" height="1.1" fill="#7a3006" opacity="0.19"/>
<rect x="263.6" y="81.3" width="31.4" height="0.9" fill="#7a3006" opacity="0.38"/>
<rect x="263.6" y="116.5" width="15.4" height="0.7" fill="#7a3006" opacity="0.24"/>
<rect x="263.6" y="198.8" width="24.0" height="1.1" fill="#7a3006" opacity="0.37"/>
<rect x="263.6" y="88.6" width="6.4" height="1.1" fill="#7a3006" opacity="0.33"/>
<rect x="263.6" y="223.2" width="15.5" height="1.1" fill="#7a3006" opacity="0.29"/>
<rect x="263.6" y="134.7" width="31.4" height="1.1" fill="#7a3006" opacity="0.36"/>
<rect x="263.6" y="159.2" width="31.4" height="0.9" fill="#7a3006" opacity="0.36"/>
<rect x="263.6" y="143.7" width="15.4" height="1.1" fill="#7a3006" opacity="0.34"/>
<rect x="263.6" y="136.6" width="15.4" height="1.1" fill="#7a3006" opacity="0.16"/>
<rect x="283.3" y="79.4" width="11.7" height="0.7" fill="#7a3006" opacity="0.32"/>
<rect x="280.2" y="80.0" width="14.8" height="0.7" fill="#7a3006" opacity="0.32"/>
<rect x="263.6" y="190.7" width="31.4" height="0.7" fill="#7a3006" opacity="0.18"/>
<rect x="263.6" y="224.8" width="23.0" height="1.1" fill="#7a3006" opacity="0.38"/>
<rect x="263.6" y="223.2" width="4.9" height="0.7" fill="#7a3006" opacity="0.39"/>
<rect x="263.6" y="67.2" width="31.40" height="166.70" filter="url(#grain)" opacity="0.06"/>
<rect x="263.6" y="67.2" width="31.40" height="2.6" fill="#d4cce6" opacity="0.9"/>
<rect x="252.51" y="68.00" width="54.17" height="1.00" fill="url(#gw_or)" opacity="1.000"/>
<rect x="254.63" y="69.00" width="49.94" height="1.00" fill="url(#gw_or)" opacity="1.000"/>
<rect x="256.56" y="70.00" width="46.07" height="1.00" fill="url(#gw_or)" opacity="1.000"/>
<rect x="258.33" y="71.00" width="42.54" height="1.00" fill="url(#gw_or)" opacity="1.000"/>
<rect x="259.94" y="72.00" width="39.32" height="1.00" fill="url(#gw_or)" opacity="1.000"/>
<rect x="261.41" y="73.00" width="36.37" height="1.00" fill="url(#gw_or)" opacity="1.000"/>
<rect x="262.76" y="74.00" width="33.69" height="1.00" fill="url(#gw_or)" opacity="1.000"/>
<rect x="263.98" y="75.00" width="31.23" height="1.00" fill="url(#gw_or)" opacity="1.000"/>
<rect x="265.11" y="76.00" width="28.99" height="1.00" fill="url(#gw_or)" opacity="1.000"/>
<rect x="266.13" y="77.00" width="26.94" height="1.00" fill="url(#gw_or)" opacity="1.000"/>
<rect x="267.06" y="78.00" width="25.07" height="1.00" fill="url(#gw_or)" opacity="1.000"/>
<rect x="267.92" y="79.00" width="23.37" height="1.00" fill="url(#gw_or)" opacity="1.000"/>
<rect x="268.69" y="80.00" width="21.81" height="1.00" fill="url(#gw_or)" opacity="1.000"/>
<rect x="269.41" y="81.00" width="20.39" height="1.00" fill="url(#gw_or)" opacity="1.000"/>
<rect x="270.06" y="82.00" width="19.09" height="1.00" fill="url(#gw_or)" opacity="1.000"/>
<rect x="270.65" y="83.00" width="17.90" height="1.00" fill="url(#gw_or)" opacity="1.000"/>
<rect x="271.19" y="84.00" width="16.82" height="1.00" fill="url(#gw_or)" opacity="1.000"/>
<rect x="271.68" y="85.00" width="15.83" height="1.00" fill="url(#gw_or)" opacity="1.000"/>
<rect x="272.14" y="86.00" width="14.93" height="1.00" fill="url(#gw_or)" opacity="1.000"/>
<rect x="272.55" y="87.00" width="14.10" height="1.00" fill="url(#gw_or)" opacity="1.000"/>
<rect x="272.92" y="88.00" width="13.35" height="1.00" fill="url(#gw_or)" opacity="1.000"/>
<rect x="273.27" y="89.00" width="12.66" height="1.00" fill="url(#gw_or)" opacity="1.000"/>
<rect x="273.58" y="90.00" width="12.04" height="1.00" fill="url(#gw_or)" opacity="1.000"/>
<rect x="273.87" y="91.00" width="11.46" height="1.00" fill="url(#gw_or)" opacity="1.000"/>
<rect x="274.13" y="92.00" width="10.94" height="1.00" fill="url(#gw_or)" opacity="1.000"/>
<rect x="274.37" y="93.00" width="10.46" height="1.00" fill="url(#gw_or)" opacity="1.000"/>
<rect x="274.59" y="94.00" width="10.02" height="1.00" fill="url(#gw_or)" opacity="1.000"/>
<rect x="274.79" y="95.00" width="9.63" height="1.00" fill="url(#gw_or)" opacity="1.000"/>
<rect x="274.97" y="96.00" width="9.26" height="1.00" fill="url(#gw_or)" opacity="1.000"/>
<rect x="275.13" y="97.00" width="8.93" height="1.00" fill="url(#gw_or)" opacity="1.000"/>
<rect x="275.29" y="98.00" width="8.63" height="1.00" fill="url(#gw_or)" opacity="1.000"/>
<rect x="275.42" y="99.00" width="8.35" height="1.00" fill="url(#gw_or)" opacity="1.000"/>
<rect x="275.55" y="100.00" width="8.10" height="1.00" fill="url(#gw_or)" opacity="0.990"/>
<rect x="275.67" y="101.00" width="7.87" height="1.00" fill="url(#gw_or)" opacity="0.970"/>
<rect x="275.77" y="102.00" width="7.66" height="1.00" fill="url(#gw_or)" opacity="0.950"/>
<rect x="275.87" y="103.00" width="7.46" height="1.00" fill="url(#gw_or)" opacity="0.930"/>
<rect x="275.96" y="104.00" width="7.29" height="1.00" fill="url(#gw_or)" opacity="0.910"/>
<rect x="276.04" y="105.00" width="7.13" height="1.00" fill="url(#gw_or)" opacity="0.890"/>
<rect x="276.11" y="106.00" width="6.98" height="1.00" fill="url(#gw_or)" opacity="0.870"/>
<rect x="276.18" y="107.00" width="6.85" height="1.00" fill="url(#gw_or)" opacity="0.850"/>
<rect x="276.24" y="108.00" width="6.72" height="1.00" fill="url(#gw_or)" opacity="0.830"/>
<rect x="276.29" y="109.00" width="6.61" height="1.00" fill="url(#gw_or)" opacity="0.810"/>
<rect x="276.34" y="110.00" width="6.51" height="1.00" fill="url(#gw_or)" opacity="0.790"/>
<rect x="276.39" y="111.00" width="6.42" height="1.00" fill="url(#gw_or)" opacity="0.770"/>
<rect x="276.43" y="112.00" width="6.33" height="1.00" fill="url(#gw_or)" opacity="0.750"/>
<rect x="276.47" y="113.00" width="6.26" height="1.00" fill="url(#gw_or)" opacity="0.730"/>
<rect x="276.51" y="114.00" width="6.18" height="1.00" fill="url(#gw_or)" opacity="0.710"/>
<rect x="276.54" y="115.00" width="6.12" height="1.00" fill="url(#gw_or)" opacity="0.690"/>
<rect x="276.57" y="116.00" width="6.06" height="1.00" fill="url(#gw_or)" opacity="0.670"/>
<rect x="276.60" y="117.00" width="6.01" height="1.00" fill="url(#gw_or)" opacity="0.650"/>
<rect x="276.62" y="118.00" width="5.96" height="1.00" fill="url(#gw_or)" opacity="0.630"/>
<rect x="276.64" y="119.00" width="5.91" height="1.00" fill="url(#gw_or)" opacity="0.610"/>
<rect x="276.66" y="120.00" width="5.87" height="1.00" fill="url(#gw_or)" opacity="0.590"/>
<rect x="276.68" y="121.00" width="5.83" height="1.00" fill="url(#gw_or)" opacity="0.570"/>
<rect x="276.70" y="122.00" width="5.80" height="1.00" fill="url(#gw_or)" opacity="0.550"/>
<rect x="276.72" y="123.00" width="5.77" height="1.00" fill="url(#gw_or)" opacity="0.530"/>
<rect x="276.73" y="124.00" width="5.74" height="1.00" fill="url(#gw_or)" opacity="0.510"/>
<rect x="276.74" y="125.00" width="5.71" height="1.00" fill="url(#gw_or)" opacity="0.490"/>
<rect x="276.76" y="126.00" width="5.69" height="1.00" fill="url(#gw_or)" opacity="0.470"/>
<rect x="276.77" y="127.00" width="5.67" height="1.00" fill="url(#gw_or)" opacity="0.450"/>
<rect x="276.78" y="128.00" width="5.65" height="1.00" fill="url(#gw_or)" opacity="0.430"/>
<rect x="276.78" y="129.00" width="5.63" height="1.00" fill="url(#gw_or)" opacity="0.410"/>
<rect x="276.79" y="130.00" width="5.61" height="1.00" fill="url(#gw_or)" opacity="0.390"/>
<rect x="276.80" y="131.00" width="5.60" height="1.00" fill="url(#gw_or)" opacity="0.370"/>
<rect x="276.81" y="132.00" width="5.58" height="1.00" fill="url(#gw_or)" opacity="0.350"/>
<rect x="276.81" y="133.00" width="5.57" height="1.00" fill="url(#gw_or)" opacity="0.330"/>
<rect x="276.82" y="134.00" width="5.56" height="1.00" fill="url(#gw_or)" opacity="0.310"/>
<rect x="276.82" y="135.00" width="5.55" height="1.00" fill="url(#gw_or)" opacity="0.290"/>
<rect x="276.83" y="136.00" width="5.54" height="1.00" fill="url(#gw_or)" opacity="0.270"/>
<rect x="276.83" y="137.00" width="5.53" height="1.00" fill="url(#gw_or)" opacity="0.250"/>
<rect x="276.84" y="138.00" width="5.52" height="1.00" fill="url(#gw_or)" opacity="0.230"/>
<rect x="276.84" y="139.00" width="5.52" height="1.00" fill="url(#gw_or)" opacity="0.210"/>
<rect x="276.84" y="140.00" width="5.51" height="1.00" fill="url(#gw_or)" opacity="0.190"/>
<rect x="276.85" y="141.00" width="5.50" height="1.00" fill="url(#gw_or)" opacity="0.170"/>
<rect x="276.85" y="142.00" width="5.50" height="1.00" fill="url(#gw_or)" opacity="0.150"/>
<rect x="276.85" y="143.00" width="5.49" height="1.00" fill="url(#gw_or)" opacity="0.130"/>
<rect x="276.86" y="144.00" width="5.49" height="1.00" fill="url(#gw_or)" opacity="0.110"/>
<rect x="276.86" y="145.00" width="5.48" height="1.00" fill="url(#gw_or)" opacity="0.090"/>
<rect x="276.86" y="146.00" width="5.48" height="1.00" fill="url(#gw_or)" opacity="0.070"/>
<rect x="276.86" y="147.00" width="5.48" height="1.00" fill="url(#gw_or)" opacity="0.050"/>
<rect x="276.86" y="148.00" width="5.47" height="1.00" fill="url(#gw_or)" opacity="0.030"/>
<rect x="276.86" y="149.00" width="5.47" height="1.00" fill="url(#gw_or)" opacity="0.010"/>
<rect x="265.26" y="68.00" width="28.68" height="1.00" fill="url(#gw_or)" opacity="0.700"/>
<rect x="266.38" y="69.00" width="26.44" height="1.00" fill="url(#gw_or)" opacity="0.700"/>
<rect x="267.40" y="70.00" width="24.39" height="1.00" fill="url(#gw_or)" opacity="0.700"/>
<rect x="268.34" y="71.00" width="22.52" height="1.00" fill="url(#gw_or)" opacity="0.700"/>
<rect x="269.19" y="72.00" width="20.81" height="1.00" fill="url(#gw_or)" opacity="0.700"/>
<rect x="269.97" y="73.00" width="19.26" height="1.00" fill="url(#gw_or)" opacity="0.700"/>
<rect x="270.68" y="74.00" width="17.83" height="1.00" fill="url(#gw_or)" opacity="0.700"/>
<rect x="271.33" y="75.00" width="16.53" height="1.00" fill="url(#gw_or)" opacity="0.700"/>
<rect x="271.93" y="76.00" width="15.35" height="1.00" fill="url(#gw_or)" opacity="0.700"/>
<rect x="272.47" y="77.00" width="14.26" height="1.00" fill="url(#gw_or)" opacity="0.700"/>
<rect x="272.96" y="78.00" width="13.27" height="1.00" fill="url(#gw_or)" opacity="0.700"/>
<rect x="273.41" y="79.00" width="12.37" height="1.00" fill="url(#gw_or)" opacity="0.700"/>
<rect x="273.83" y="80.00" width="11.55" height="1.00" fill="url(#gw_or)" opacity="0.700"/>
<rect x="274.20" y="81.00" width="10.79" height="1.00" fill="url(#gw_or)" opacity="0.700"/>
<rect x="274.55" y="82.00" width="10.11" height="1.00" fill="url(#gw_or)" opacity="0.700"/>
<rect x="274.86" y="83.00" width="9.48" height="1.00" fill="url(#gw_or)" opacity="0.700"/>
<rect x="275.15" y="84.00" width="8.90" height="1.00" fill="url(#gw_or)" opacity="0.700"/>
<rect x="275.41" y="85.00" width="8.38" height="1.00" fill="url(#gw_or)" opacity="0.700"/>
<rect x="275.65" y="86.00" width="7.90" height="1.00" fill="url(#gw_or)" opacity="0.700"/>
<rect x="275.87" y="87.00" width="7.47" height="1.00" fill="url(#gw_or)" opacity="0.700"/>
<rect x="276.07" y="88.00" width="7.07" height="1.00" fill="url(#gw_or)" opacity="0.700"/>
<rect x="276.25" y="89.00" width="6.70" height="1.00" fill="url(#gw_or)" opacity="0.700"/>
<rect x="276.41" y="90.00" width="6.37" height="1.00" fill="url(#gw_or)" opacity="0.700"/>
<rect x="276.57" y="91.00" width="6.07" height="1.00" fill="url(#gw_or)" opacity="0.700"/>
<rect x="276.70" y="92.00" width="5.79" height="1.00" fill="url(#gw_or)" opacity="0.700"/>
<rect x="276.83" y="93.00" width="5.54" height="1.00" fill="url(#gw_or)" opacity="0.700"/>
<rect x="276.95" y="94.00" width="5.31" height="1.00" fill="url(#gw_or)" opacity="0.700"/>
<rect x="277.05" y="95.00" width="5.10" height="1.00" fill="url(#gw_or)" opacity="0.700"/>
<rect x="277.15" y="96.00" width="4.90" height="1.00" fill="url(#gw_or)" opacity="0.700"/>
<rect x="277.24" y="97.00" width="4.73" height="1.00" fill="url(#gw_or)" opacity="0.700"/>
<rect x="277.32" y="98.00" width="4.57" height="1.00" fill="url(#gw_or)" opacity="0.700"/>
<rect x="277.39" y="99.00" width="4.42" height="1.00" fill="url(#gw_or)" opacity="0.700"/>
<rect x="277.46" y="100.00" width="4.29" height="1.00" fill="url(#gw_or)" opacity="0.693"/>
<rect x="277.52" y="101.00" width="4.16" height="1.00" fill="url(#gw_or)" opacity="0.679"/>
<rect x="277.57" y="102.00" width="4.05" height="1.00" fill="url(#gw_or)" opacity="0.665"/>
<rect x="277.62" y="103.00" width="3.95" height="1.00" fill="url(#gw_or)" opacity="0.651"/>
<rect x="277.67" y="104.00" width="3.86" height="1.00" fill="url(#gw_or)" opacity="0.637"/>
<rect x="277.71" y="105.00" width="3.77" height="1.00" fill="url(#gw_or)" opacity="0.623"/>
<rect x="277.75" y="106.00" width="3.70" height="1.00" fill="url(#gw_or)" opacity="0.609"/>
<rect x="277.79" y="107.00" width="3.62" height="1.00" fill="url(#gw_or)" opacity="0.595"/>
<rect x="277.82" y="108.00" width="3.56" height="1.00" fill="url(#gw_or)" opacity="0.581"/>
<rect x="277.85" y="109.00" width="3.50" height="1.00" fill="url(#gw_or)" opacity="0.567"/>
<rect x="277.88" y="110.00" width="3.45" height="1.00" fill="url(#gw_or)" opacity="0.553"/>
<rect x="277.90" y="111.00" width="3.40" height="1.00" fill="url(#gw_or)" opacity="0.539"/>
<rect x="277.92" y="112.00" width="3.35" height="1.00" fill="url(#gw_or)" opacity="0.525"/>
<rect x="277.94" y="113.00" width="3.31" height="1.00" fill="url(#gw_or)" opacity="0.511"/>
<rect x="277.96" y="114.00" width="3.27" height="1.00" fill="url(#gw_or)" opacity="0.497"/>
<rect x="277.98" y="115.00" width="3.24" height="1.00" fill="url(#gw_or)" opacity="0.483"/>
<rect x="278.00" y="116.00" width="3.21" height="1.00" fill="url(#gw_or)" opacity="0.469"/>
<rect x="278.01" y="117.00" width="3.18" height="1.00" fill="url(#gw_or)" opacity="0.455"/>
<rect x="278.02" y="118.00" width="3.15" height="1.00" fill="url(#gw_or)" opacity="0.441"/>
<rect x="278.03" y="119.00" width="3.13" height="1.00" fill="url(#gw_or)" opacity="0.427"/>
<rect x="278.05" y="120.00" width="3.11" height="1.00" fill="url(#gw_or)" opacity="0.413"/>
<rect x="278.06" y="121.00" width="3.09" height="1.00" fill="url(#gw_or)" opacity="0.399"/>
<rect x="278.06" y="122.00" width="3.07" height="1.00" fill="url(#gw_or)" opacity="0.385"/>
<rect x="278.07" y="123.00" width="3.05" height="1.00" fill="url(#gw_or)" opacity="0.371"/>
<rect x="278.08" y="124.00" width="3.04" height="1.00" fill="url(#gw_or)" opacity="0.357"/>
<rect x="278.09" y="125.00" width="3.02" height="1.00" fill="url(#gw_or)" opacity="0.343"/>
<rect x="278.09" y="126.00" width="3.01" height="1.00" fill="url(#gw_or)" opacity="0.329"/>
<rect x="278.10" y="127.00" width="3.00" height="1.00" fill="url(#gw_or)" opacity="0.315"/>
<rect x="278.10" y="128.00" width="2.99" height="1.00" fill="url(#gw_or)" opacity="0.301"/>
<rect x="278.11" y="129.00" width="2.98" height="1.00" fill="url(#gw_or)" opacity="0.287"/>
<rect x="278.11" y="130.00" width="2.97" height="1.00" fill="url(#gw_or)" opacity="0.273"/>
<rect x="278.12" y="131.00" width="2.96" height="1.00" fill="url(#gw_or)" opacity="0.259"/>
<rect x="278.12" y="132.00" width="2.96" height="1.00" fill="url(#gw_or)" opacity="0.245"/>
<rect x="278.12" y="133.00" width="2.95" height="1.00" fill="url(#gw_or)" opacity="0.231"/>
<rect x="278.13" y="134.00" width="2.94" height="1.00" fill="url(#gw_or)" opacity="0.217"/>
<rect x="278.13" y="135.00" width="2.94" height="1.00" fill="url(#gw_or)" opacity="0.203"/>
<rect x="278.13" y="136.00" width="2.93" height="1.00" fill="url(#gw_or)" opacity="0.189"/>
<rect x="278.14" y="137.00" width="2.93" height="1.00" fill="url(#gw_or)" opacity="0.175"/>
<rect x="278.14" y="138.00" width="2.92" height="1.00" fill="url(#gw_or)" opacity="0.161"/>
<rect x="278.14" y="139.00" width="2.92" height="1.00" fill="url(#gw_or)" opacity="0.147"/>
<rect x="278.14" y="140.00" width="2.92" height="1.00" fill="url(#gw_or)" opacity="0.133"/>
<rect x="278.14" y="141.00" width="2.91" height="1.00" fill="url(#gw_or)" opacity="0.119"/>
<rect x="278.14" y="142.00" width="2.91" height="1.00" fill="url(#gw_or)" opacity="0.105"/>
<rect x="278.15" y="143.00" width="2.91" height="1.00" fill="url(#gw_or)" opacity="0.091"/>
<rect x="278.15" y="144.00" width="2.91" height="1.00" fill="url(#gw_or)" opacity="0.077"/>
<rect x="278.15" y="145.00" width="2.90" height="1.00" fill="url(#gw_or)" opacity="0.063"/>
<rect x="278.15" y="146.00" width="2.90" height="1.00" fill="url(#gw_or)" opacity="0.049"/>
<rect x="278.15" y="147.00" width="2.90" height="1.00" fill="url(#gw_or)" opacity="0.035"/>
<rect x="278.15" y="148.00" width="2.90" height="1.00" fill="url(#gw_or)" opacity="0.021"/>
<rect x="278.15" y="149.00" width="2.90" height="1.00" fill="url(#gw_or)" opacity="0.007"/>
<rect x="276.60" y="100.00" width="6.00" height="1.00" fill="url(#gw_or2)" opacity="0.009"/>
<rect x="276.60" y="101.00" width="6.00" height="1.00" fill="url(#gw_or2)" opacity="0.028"/>
<rect x="276.60" y="102.00" width="6.00" height="1.00" fill="url(#gw_or2)" opacity="0.047"/>
<rect x="276.60" y="103.00" width="6.00" height="1.00" fill="url(#gw_or2)" opacity="0.066"/>
<rect x="276.60" y="104.00" width="6.00" height="1.00" fill="url(#gw_or2)" opacity="0.084"/>
<rect x="276.60" y="105.00" width="6.00" height="1.00" fill="url(#gw_or2)" opacity="0.103"/>
<rect x="276.60" y="106.00" width="6.00" height="1.00" fill="url(#gw_or2)" opacity="0.122"/>
<rect x="276.60" y="107.00" width="6.00" height="1.00" fill="url(#gw_or2)" opacity="0.141"/>
<rect x="276.60" y="108.00" width="6.00" height="1.00" fill="url(#gw_or2)" opacity="0.159"/>
<rect x="276.60" y="109.00" width="6.00" height="1.00" fill="url(#gw_or2)" opacity="0.178"/>
<rect x="276.60" y="110.00" width="6.00" height="1.00" fill="url(#gw_or2)" opacity="0.197"/>
<rect x="276.60" y="111.00" width="6.00" height="1.00" fill="url(#gw_or2)" opacity="0.216"/>
<rect x="276.60" y="112.00" width="6.00" height="1.00" fill="url(#gw_or2)" opacity="0.234"/>
<rect x="276.60" y="113.00" width="6.00" height="1.00" fill="url(#gw_or2)" opacity="0.253"/>
<rect x="276.60" y="114.00" width="6.00" height="1.00" fill="url(#gw_or2)" opacity="0.272"/>
<rect x="276.60" y="115.00" width="6.00" height="1.00" fill="url(#gw_or2)" opacity="0.291"/>
<rect x="276.60" y="116.00" width="6.00" height="1.00" fill="url(#gw_or2)" opacity="0.309"/>
<rect x="276.60" y="117.00" width="6.00" height="1.00" fill="url(#gw_or2)" opacity="0.328"/>
<rect x="276.60" y="118.00" width="6.00" height="1.00" fill="url(#gw_or2)" opacity="0.347"/>
<rect x="276.60" y="119.00" width="6.00" height="1.00" fill="url(#gw_or2)" opacity="0.366"/>
<rect x="276.60" y="120.00" width="6.00" height="1.00" fill="url(#gw_or2)" opacity="0.384"/>
<rect x="276.60" y="121.00" width="6.00" height="1.00" fill="url(#gw_or2)" opacity="0.403"/>
<rect x="276.60" y="122.00" width="6.00" height="1.00" fill="url(#gw_or2)" opacity="0.422"/>
<rect x="276.60" y="123.00" width="6.00" height="1.00" fill="url(#gw_or2)" opacity="0.441"/>
<rect x="276.60" y="124.00" width="6.00" height="1.00" fill="url(#gw_or2)" opacity="0.459"/>
<rect x="276.60" y="125.00" width="6.00" height="1.00" fill="url(#gw_or2)" opacity="0.478"/>
<rect x="276.60" y="126.00" width="6.00" height="1.00" fill="url(#gw_or2)" opacity="0.497"/>
<rect x="276.60" y="127.00" width="6.00" height="1.00" fill="url(#gw_or2)" opacity="0.516"/>
<rect x="276.60" y="128.00" width="6.00" height="1.00" fill="url(#gw_or2)" opacity="0.534"/>
<rect x="276.60" y="129.00" width="6.00" height="1.00" fill="url(#gw_or2)" opacity="0.553"/>
<rect x="276.60" y="130.00" width="6.00" height="1.00" fill="url(#gw_or2)" opacity="0.572"/>
<rect x="276.60" y="131.00" width="6.00" height="1.00" fill="url(#gw_or2)" opacity="0.591"/>
<rect x="276.60" y="132.00" width="6.00" height="1.00" fill="url(#gw_or2)" opacity="0.609"/>
<rect x="276.60" y="133.00" width="6.00" height="1.00" fill="url(#gw_or2)" opacity="0.628"/>
<rect x="276.60" y="134.00" width="6.00" height="1.00" fill="url(#gw_or2)" opacity="0.647"/>
<rect x="276.60" y="135.00" width="6.00" height="1.00" fill="url(#gw_or2)" opacity="0.666"/>
<rect x="276.60" y="136.00" width="6.00" height="1.00" fill="url(#gw_or2)" opacity="0.684"/>
<rect x="276.60" y="137.00" width="6.00" height="1.00" fill="url(#gw_or2)" opacity="0.703"/>
<rect x="276.60" y="138.00" width="6.00" height="1.00" fill="url(#gw_or2)" opacity="0.722"/>
<rect x="276.60" y="139.00" width="6.00" height="1.00" fill="url(#gw_or2)" opacity="0.741"/>
<rect x="276.60" y="140.00" width="6.00" height="1.00" fill="url(#gw_or2)" opacity="0.750"/>
<rect x="276.60" y="141.00" width="6.00" height="1.00" fill="url(#gw_or2)" opacity="0.750"/>
<rect x="276.60" y="142.00" width="6.00" height="1.00" fill="url(#gw_or2)" opacity="0.750"/>
<rect x="276.60" y="143.00" width="6.00" height="1.00" fill="url(#gw_or2)" opacity="0.750"/>
<rect x="276.60" y="144.00" width="6.00" height="1.00" fill="url(#gw_or2)" opacity="0.750"/>
<rect x="276.60" y="145.00" width="6.00" height="1.00" fill="url(#gw_or2)" opacity="0.750"/>
<rect x="276.60" y="146.00" width="6.00" height="1.00" fill="url(#gw_or2)" opacity="0.750"/>
<rect x="276.60" y="147.00" width="6.00" height="1.00" fill="url(#gw_or2)" opacity="0.750"/>
<rect x="276.60" y="148.00" width="6.00" height="1.00" fill="url(#gw_or2)" opacity="0.750"/>
<rect x="276.60" y="149.00" width="6.00" height="1.00" fill="url(#gw_or2)" opacity="0.750"/>
<rect x="276.60" y="150.00" width="6.00" height="1.00" fill="url(#gw_or2)" opacity="0.750"/>
<rect x="276.60" y="151.00" width="6.00" height="1.00" fill="url(#gw_or2)" opacity="0.750"/>
<rect x="276.60" y="152.00" width="6.00" height="1.00" fill="url(#gw_or2)" opacity="0.750"/>
<rect x="276.60" y="153.00" width="6.00" height="1.00" fill="url(#gw_or2)" opacity="0.750"/>
<rect x="276.60" y="154.00" width="6.00" height="1.00" fill="url(#gw_or2)" opacity="0.750"/>
<rect x="276.60" y="155.00" width="6.00" height="1.00" fill="url(#gw_or2)" opacity="0.750"/>
<rect x="276.60" y="156.00" width="6.00" height="1.00" fill="url(#gw_or2)" opacity="0.750"/>
<rect x="276.60" y="157.00" width="6.00" height="1.00" fill="url(#gw_or2)" opacity="0.750"/>
<rect x="276.60" y="158.00" width="6.00" height="1.00" fill="url(#gw_or2)" opacity="0.750"/>
<rect x="276.60" y="159.00" width="6.00" height="1.00" fill="url(#gw_or2)" opacity="0.750"/>
<rect x="276.60" y="160.00" width="6.00" height="1.00" fill="url(#gw_or2)" opacity="0.750"/>
<rect x="276.60" y="161.00" width="6.00" height="1.00" fill="url(#gw_or2)" opacity="0.750"/>
<rect x="276.60" y="162.00" width="6.00" height="1.00" fill="url(#gw_or2)" opacity="0.750"/>
<rect x="276.60" y="163.00" width="6.00" height="1.00" fill="url(#gw_or2)" opacity="0.750"/>
<rect x="276.60" y="164.00" width="6.00" height="1.00" fill="url(#gw_or2)" opacity="0.750"/>
<rect x="276.60" y="165.00" width="6.00" height="1.00" fill="url(#gw_or2)" opacity="0.750"/>
<rect x="276.60" y="166.00" width="6.00" height="1.00" fill="url(#gw_or2)" opacity="0.750"/>
<rect x="276.60" y="167.00" width="6.00" height="1.00" fill="url(#gw_or2)" opacity="0.750"/>
<rect x="276.60" y="168.00" width="6.00" height="1.00" fill="url(#gw_or2)" opacity="0.750"/>
<rect x="276.60" y="169.00" width="6.00" height="1.00" fill="url(#gw_or2)" opacity="0.750"/>
<rect x="276.60" y="170.00" width="6.00" height="1.00" fill="url(#gw_or2)" opacity="0.750"/>
<rect x="276.60" y="171.00" width="6.00" height="1.00" fill="url(#gw_or2)" opacity="0.750"/>
<rect x="276.60" y="172.00" width="6.00" height="1.00" fill="url(#gw_or2)" opacity="0.750"/>
<rect x="276.60" y="173.00" width="6.00" height="1.00" fill="url(#gw_or2)" opacity="0.750"/>
<rect x="276.60" y="174.00" width="6.00" height="1.00" fill="url(#gw_or2)" opacity="0.750"/>
<rect x="276.60" y="175.00" width="6.00" height="1.00" fill="url(#gw_or2)" opacity="0.750"/>
<rect x="276.60" y="176.00" width="6.00" height="1.00" fill="url(#gw_or2)" opacity="0.750"/>
<rect x="276.60" y="177.00" width="6.00" height="1.00" fill="url(#gw_or2)" opacity="0.750"/>
<rect x="276.60" y="178.00" width="6.00" height="1.00" fill="url(#gw_or2)" opacity="0.750"/>
<rect x="276.60" y="179.00" width="6.00" height="1.00" fill="url(#gw_or2)" opacity="0.750"/>
<rect x="276.60" y="180.00" width="6.00" height="1.00" fill="url(#gw_or2)" opacity="0.750"/>
<rect x="276.60" y="181.00" width="6.00" height="1.00" fill="url(#gw_or2)" opacity="0.750"/>
<rect x="276.60" y="182.00" width="6.00" height="1.00" fill="url(#gw_or2)" opacity="0.750"/>
<rect x="276.60" y="183.00" width="6.00" height="1.00" fill="url(#gw_or2)" opacity="0.750"/>
<rect x="276.60" y="184.00" width="6.00" height="1.00" fill="url(#gw_or2)" opacity="0.750"/>
<rect x="276.60" y="185.00" width="6.00" height="1.00" fill="url(#gw_or2)" opacity="0.750"/>
<rect x="276.60" y="186.00" width="6.00" height="1.00" fill="url(#gw_or2)" opacity="0.750"/>
<rect x="276.60" y="187.00" width="6.00" height="1.00" fill="url(#gw_or2)" opacity="0.750"/>
<rect x="276.60" y="188.00" width="6.00" height="1.00" fill="url(#gw_or2)" opacity="0.750"/>
<rect x="276.60" y="189.00" width="6.00" height="1.00" fill="url(#gw_or2)" opacity="0.750"/>
<rect x="276.60" y="190.00" width="6.00" height="1.00" fill="url(#gw_or2)" opacity="0.750"/>
<rect x="276.60" y="191.00" width="6.00" height="1.00" fill="url(#gw_or2)" opacity="0.750"/>
<rect x="276.60" y="192.00" width="6.00" height="1.00" fill="url(#gw_or2)" opacity="0.750"/>
<rect x="276.60" y="193.00" width="6.00" height="1.00" fill="url(#gw_or2)" opacity="0.750"/>
<rect x="276.60" y="194.00" width="6.00" height="1.00" fill="url(#gw_or2)" opacity="0.750"/>
<rect x="276.60" y="195.00" width="6.00" height="1.00" fill="url(#gw_or2)" opacity="0.750"/>
<rect x="276.60" y="196.00" width="6.00" height="1.00" fill="url(#gw_or2)" opacity="0.750"/>
<rect x="276.60" y="197.00" width="6.00" height="1.00" fill="url(#gw_or2)" opacity="0.750"/>
<rect x="276.60" y="198.00" width="6.00" height="1.00" fill="url(#gw_or2)" opacity="0.750"/>
<rect x="276.60" y="199.00" width="6.00" height="1.00" fill="url(#gw_or2)" opacity="0.750"/>
<rect x="276.60" y="200.00" width="6.00" height="1.00" fill="url(#gw_or2)" opacity="0.750"/>
<rect x="276.60" y="201.00" width="6.00" height="1.00" fill="url(#gw_or2)" opacity="0.750"/>
<rect x="276.60" y="202.00" width="6.00" height="1.00" fill="url(#gw_or2)" opacity="0.750"/>
<rect x="276.60" y="203.00" width="6.00" height="1.00" fill="url(#gw_or2)" opacity="0.750"/>
<rect x="276.60" y="204.00" width="6.00" height="1.00" fill="url(#gw_or2)" opacity="0.750"/>
<rect x="276.60" y="205.00" width="6.00" height="1.00" fill="url(#gw_or2)" opacity="0.750"/>
<rect x="276.60" y="206.00" width="6.00" height="1.00" fill="url(#gw_or2)" opacity="0.750"/>
<rect x="276.60" y="207.00" width="6.00" height="1.00" fill="url(#gw_or2)" opacity="0.750"/>
<rect x="276.60" y="208.00" width="6.00" height="1.00" fill="url(#gw_or2)" opacity="0.750"/>
<rect x="276.60" y="209.00" width="6.00" height="1.00" fill="url(#gw_or2)" opacity="0.750"/>
<rect x="276.60" y="210.00" width="6.00" height="1.00" fill="url(#gw_or2)" opacity="0.750"/>
<rect x="276.60" y="211.00" width="6.00" height="1.00" fill="url(#gw_or2)" opacity="0.750"/>
<rect x="276.60" y="212.00" width="6.00" height="1.00" fill="url(#gw_or2)" opacity="0.750"/>
<rect x="276.60" y="213.00" width="6.00" height="1.00" fill="url(#gw_or2)" opacity="0.750"/>
<rect x="276.60" y="214.00" width="6.00" height="1.00" fill="url(#gw_or2)" opacity="0.750"/>
<rect x="276.60" y="215.00" width="6.00" height="1.00" fill="url(#gw_or2)" opacity="0.750"/>
<rect x="276.60" y="216.00" width="6.00" height="1.00" fill="url(#gw_or2)" opacity="0.750"/>
<rect x="276.60" y="217.00" width="6.00" height="1.00" fill="url(#gw_or2)" opacity="0.750"/>
<rect x="276.60" y="218.00" width="6.00" height="1.00" fill="url(#gw_or2)" opacity="0.750"/>
<rect x="276.60" y="219.00" width="6.00" height="1.00" fill="url(#gw_or2)" opacity="0.750"/>
<rect x="276.60" y="220.00" width="6.00" height="1.00" fill="url(#gw_or2)" opacity="0.750"/>
<rect x="276.60" y="221.00" width="6.00" height="1.00" fill="url(#gw_or2)" opacity="0.750"/>
<rect x="276.60" y="222.00" width="6.00" height="1.00" fill="url(#gw_or2)" opacity="0.750"/>
<rect x="276.60" y="223.00" width="6.00" height="1.00" fill="url(#gw_or2)" opacity="0.750"/>
<rect x="276.60" y="224.00" width="6.00" height="1.00" fill="url(#gw_or2)" opacity="0.750"/>
<rect x="276.60" y="225.00" width="6.00" height="1.00" fill="url(#gw_or2)" opacity="0.750"/>
<rect x="276.60" y="226.00" width="6.00" height="1.00" fill="url(#gw_or2)" opacity="0.750"/>
<rect x="276.60" y="227.00" width="6.00" height="1.00" fill="url(#gw_or2)" opacity="0.750"/>
<rect x="276.60" y="228.00" width="6.00" height="1.00" fill="url(#gw_or2)" opacity="0.750"/>
<rect x="276.60" y="229.00" width="6.00" height="1.00" fill="url(#gw_or2)" opacity="0.750"/>
<rect x="276.60" y="230.00" width="6.00" height="1.00" fill="url(#gw_or2)" opacity="0.750"/>
<rect x="276.60" y="231.00" width="6.00" height="1.00" fill="url(#gw_or2)" opacity="0.750"/>
<rect x="276.60" y="232.00" width="6.00" height="1.00" fill="url(#gw_or2)" opacity="0.750"/>
<rect x="276.60" y="233.00" width="6.00" height="1.00" fill="url(#gw_or2)" opacity="0.750"/>
<linearGradient id="vl4_2796" x1="0" y1="0" x2="0" y2="1"><stop offset="0.000" stop-color="#fff4ea"/><stop offset="0.299" stop-color="#f8c880"/><stop offset="0.597" stop-color="#f0a848"/><stop offset="1.000" stop-color="#e49434"/></linearGradient>
<rect x="278.95" y="100" width="1.3" height="133.90" fill="url(#vl4_2796)" opacity="0.85"/>
<rect x="275.10" y="67.00" width="9.00" height="2.00" fill="url(#gw_lav)" opacity="0.725"/>
<rect x="275.10" y="69.00" width="9.00" height="2.00" fill="url(#gw_lav)" opacity="0.675"/>
<rect x="275.10" y="71.00" width="9.00" height="2.00" fill="url(#gw_lav)" opacity="0.625"/>
<rect x="275.10" y="73.00" width="9.00" height="2.00" fill="url(#gw_lav)" opacity="0.575"/>
<rect x="275.10" y="75.00" width="9.00" height="2.00" fill="url(#gw_lav)" opacity="0.525"/>
<rect x="275.10" y="77.00" width="9.00" height="2.00" fill="url(#gw_lav)" opacity="0.475"/>
<rect x="275.10" y="79.00" width="9.00" height="2.00" fill="url(#gw_lav)" opacity="0.425"/>
<rect x="275.10" y="81.00" width="9.00" height="2.00" fill="url(#gw_lav)" opacity="0.375"/>
<rect x="275.10" y="83.00" width="9.00" height="2.00" fill="url(#gw_lav)" opacity="0.325"/>
<rect x="275.10" y="85.00" width="9.00" height="2.00" fill="url(#gw_lav)" opacity="0.275"/>
<rect x="275.10" y="87.00" width="9.00" height="2.00" fill="url(#gw_lav)" opacity="0.225"/>
<rect x="275.10" y="89.00" width="9.00" height="2.00" fill="url(#gw_lav)" opacity="0.175"/>
<rect x="275.10" y="91.00" width="9.00" height="2.00" fill="url(#gw_lav)" opacity="0.125"/>
<rect x="275.10" y="93.00" width="9.00" height="2.00" fill="url(#gw_lav)" opacity="0.075"/>
<rect x="274.60" y="67.00" width="10.00" height="1.00" fill="url(#gw_pur)" opacity="0.900"/>
<rect x="274.60" y="68.00" width="10.00" height="1.00" fill="url(#gw_pur)" opacity="0.900"/>
<rect x="274.60" y="69.00" width="10.00" height="1.00" fill="url(#gw_pur)" opacity="0.900"/>
<rect x="274.60" y="70.00" width="10.00" height="1.00" fill="url(#gw_pur)" opacity="0.900"/>
<rect x="277.60" y="71.00" width="4.00" height="1.00" fill="url(#gw_pur)" opacity="0.879"/>
<rect x="277.60" y="72.00" width="4.00" height="1.00" fill="url(#gw_pur)" opacity="0.838"/>
<rect x="277.60" y="73.00" width="4.00" height="1.00" fill="url(#gw_pur)" opacity="0.796"/>
<rect x="277.60" y="74.00" width="4.00" height="1.00" fill="url(#gw_pur)" opacity="0.754"/>
<rect x="277.60" y="75.00" width="4.00" height="1.00" fill="url(#gw_pur)" opacity="0.713"/>
<rect x="277.60" y="76.00" width="4.00" height="1.00" fill="url(#gw_pur)" opacity="0.671"/>
<rect x="277.60" y="77.00" width="4.00" height="1.00" fill="url(#gw_pur)" opacity="0.629"/>
<rect x="277.60" y="78.00" width="4.00" height="1.00" fill="url(#gw_pur)" opacity="0.588"/>
<rect x="277.60" y="79.00" width="4.00" height="1.00" fill="url(#gw_pur)" opacity="0.546"/>
<rect x="277.60" y="80.00" width="4.00" height="1.00" fill="url(#gw_pur)" opacity="0.504"/>
<rect x="277.60" y="81.00" width="4.00" height="1.00" fill="url(#gw_pur)" opacity="0.463"/>
<rect x="277.60" y="82.00" width="4.00" height="1.00" fill="url(#gw_pur)" opacity="0.421"/>
<rect x="277.60" y="83.00" width="4.00" height="1.00" fill="url(#gw_pur)" opacity="0.379"/>
<rect x="277.60" y="84.00" width="4.00" height="1.00" fill="url(#gw_pur)" opacity="0.338"/>
<rect x="277.60" y="85.00" width="4.00" height="1.00" fill="url(#gw_pur)" opacity="0.296"/>
<rect x="277.60" y="86.00" width="4.00" height="1.00" fill="url(#gw_pur)" opacity="0.254"/>
<rect x="277.60" y="87.00" width="4.00" height="1.00" fill="url(#gw_pur)" opacity="0.213"/>
<rect x="277.60" y="88.00" width="4.00" height="1.00" fill="url(#gw_pur)" opacity="0.171"/>
</g>
<linearGradient id="hg5" x1="0" y1="0" x2="0" y2="1"><stop offset="0.0000" stop-color="#e2dae6"/><stop offset="0.0138" stop-color="#ecdcd8"/><stop offset="0.0288" stop-color="#f8dcbc"/><stop offset="0.0468" stop-color="#ffd599"/><stop offset="0.0768" stop-color="#fbb355"/><stop offset="0.1068" stop-color="#f7a43c"/><stop offset="0.1968" stop-color="#ef9533"/><stop offset="0.3767" stop-color="#d9771a"/><stop offset="0.5267" stop-color="#c8660d"/><stop offset="0.7367" stop-color="#bb5c0d"/><stop offset="1.0000" stop-color="#ad4f0b"/></linearGradient>
<clipPath id="hc5"><rect x="326.2" y="67.2" width="31.70" height="166.70"/></clipPath>
<g clip-path="url(#hc5)">
<rect x="326.2" y="67.2" width="31.70" height="166.70" fill="url(#hg5)"/>
<rect x="326.2" y="218.0" width="15.2" height="1.1" fill="#6a2a04" opacity="0.33"/>
<rect x="326.2" y="150.0" width="15.2" height="0.7" fill="#6a2a04" opacity="0.19"/>
<rect x="326.2" y="125.2" width="15.2" height="0.9" fill="#6a2a04" opacity="0.43"/>
<rect x="326.2" y="82.8" width="31.7" height="0.9" fill="#6a2a04" opacity="0.32"/>
<rect x="350.2" y="149.8" width="7.7" height="0.9" fill="#6a2a04" opacity="0.26"/>
<rect x="349.0" y="196.3" width="8.9" height="0.9" fill="#6a2a04" opacity="0.36"/>
<rect x="326.2" y="204.9" width="9.5" height="1.1" fill="#6a2a04" opacity="0.19"/>
<rect x="326.2" y="194.6" width="15.2" height="0.7" fill="#6a2a04" opacity="0.28"/>
<rect x="326.2" y="200.1" width="31.7" height="0.7" fill="#6a2a04" opacity="0.44"/>
<rect x="326.2" y="155.9" width="12.9" height="1.1" fill="#6a2a04" opacity="0.35"/>
<rect x="326.2" y="153.3" width="31.7" height="0.7" fill="#6a2a04" opacity="0.28"/>
<rect x="326.2" y="230.5" width="31.7" height="1.1" fill="#6a2a04" opacity="0.24"/>
<rect x="326.2" y="138.1" width="31.7" height="0.9" fill="#6a2a04" opacity="0.26"/>
<rect x="326.2" y="176.4" width="11.4" height="0.9" fill="#6a2a04" opacity="0.29"/>
<rect x="326.2" y="134.6" width="15.2" height="1.1" fill="#6a2a04" opacity="0.30"/>
<rect x="342.6" y="193.4" width="15.3" height="1.1" fill="#6a2a04" opacity="0.23"/>
<rect x="342.6" y="99.5" width="15.3" height="0.9" fill="#6a2a04" opacity="0.18"/>
<rect x="349.8" y="144.0" width="8.1" height="0.9" fill="#6a2a04" opacity="0.41"/>
<rect x="326.2" y="112.5" width="15.2" height="0.7" fill="#6a2a04" opacity="0.39"/>
<rect x="326.2" y="171.9" width="7.0" height="1.1" fill="#6a2a04" opacity="0.29"/>
<rect x="326.2" y="100.4" width="24.6" height="0.9" fill="#6a2a04" opacity="0.45"/>
<rect x="326.2" y="101.0" width="15.2" height="1.1" fill="#6a2a04" opacity="0.44"/>
<rect x="326.2" y="199.8" width="5.4" height="1.1" fill="#6a2a04" opacity="0.42"/>
<rect x="346.8" y="119.2" width="11.1" height="0.9" fill="#6a2a04" opacity="0.26"/>
<rect x="326.2" y="110.1" width="6.5" height="1.1" fill="#6a2a04" opacity="0.36"/>
<rect x="326.2" y="76.1" width="31.7" height="0.7" fill="#6a2a04" opacity="0.31"/>
<rect x="326.2" y="192.6" width="31.7" height="0.9" fill="#6a2a04" opacity="0.34"/>
<rect x="326.2" y="212.7" width="31.7" height="1.1" fill="#6a2a04" opacity="0.34"/>
<rect x="348.0" y="175.7" width="9.9" height="0.9" fill="#6a2a04" opacity="0.42"/>
<rect x="326.2" y="113.2" width="31.7" height="0.9" fill="#6a2a04" opacity="0.20"/>
<rect x="326.2" y="141.6" width="15.2" height="0.9" fill="#6a2a04" opacity="0.29"/>
<rect x="326.2" y="178.8" width="31.7" height="0.7" fill="#6a2a04" opacity="0.12"/>
<rect x="326.2" y="205.6" width="15.2" height="0.7" fill="#6a2a04" opacity="0.17"/>
<rect x="348.9" y="197.7" width="9.0" height="0.7" fill="#6a2a04" opacity="0.30"/>
<rect x="326.2" y="187.6" width="15.2" height="1.1" fill="#6a2a04" opacity="0.24"/>
<rect x="326.2" y="128.9" width="20.4" height="1.1" fill="#6a2a04" opacity="0.25"/>
<rect x="326.2" y="194.7" width="31.7" height="0.7" fill="#6a2a04" opacity="0.33"/>
<rect x="350.1" y="114.8" width="7.8" height="0.9" fill="#6a2a04" opacity="0.26"/>
<rect x="351.0" y="184.6" width="6.9" height="0.9" fill="#6a2a04" opacity="0.25"/>
<rect x="326.2" y="224.6" width="31.7" height="0.7" fill="#6a2a04" opacity="0.27"/>
<rect x="326.2" y="101.0" width="31.7" height="0.7" fill="#6a2a04" opacity="0.27"/>
<rect x="326.2" y="163.3" width="20.1" height="0.7" fill="#6a2a04" opacity="0.39"/>
<rect x="349.1" y="199.8" width="8.8" height="0.9" fill="#6a2a04" opacity="0.16"/>
<rect x="326.2" y="205.8" width="20.7" height="0.9" fill="#6a2a04" opacity="0.35"/>
<rect x="326.2" y="229.2" width="10.0" height="1.1" fill="#6a2a04" opacity="0.21"/>
<rect x="326.2" y="113.6" width="15.2" height="0.9" fill="#6a2a04" opacity="0.33"/>
<rect x="326.2" y="88.6" width="15.2" height="0.9" fill="#6a2a04" opacity="0.25"/>
<rect x="326.2" y="88.6" width="31.7" height="1.1" fill="#6a2a04" opacity="0.17"/>
<rect x="342.6" y="205.5" width="15.3" height="1.1" fill="#6a2a04" opacity="0.19"/>
<rect x="326.2" y="86.5" width="5.6" height="0.9" fill="#6a2a04" opacity="0.20"/>
<rect x="326.2" y="196.8" width="15.9" height="0.9" fill="#6a2a04" opacity="0.30"/>
<rect x="342.6" y="170.7" width="15.3" height="1.1" fill="#6a2a04" opacity="0.34"/>
<rect x="326.2" y="215.3" width="20.5" height="1.1" fill="#6a2a04" opacity="0.30"/>
<rect x="352.4" y="191.5" width="5.5" height="0.9" fill="#6a2a04" opacity="0.26"/>
<rect x="349.7" y="204.8" width="8.2" height="0.9" fill="#6a2a04" opacity="0.17"/>
<rect x="326.2" y="152.2" width="15.2" height="0.9" fill="#6a2a04" opacity="0.36"/>
<rect x="342.6" y="100.3" width="15.3" height="0.9" fill="#6a2a04" opacity="0.34"/>
<rect x="342.6" y="206.9" width="15.3" height="0.9" fill="#6a2a04" opacity="0.34"/>
<rect x="348.6" y="103.5" width="9.3" height="0.9" fill="#6a2a04" opacity="0.35"/>
<rect x="326.2" y="221.2" width="17.2" height="0.9" fill="#6a2a04" opacity="0.37"/>
<rect x="326.2" y="67.2" width="31.70" height="166.70" filter="url(#grain)" opacity="0.06"/>
<rect x="326.2" y="67.2" width="31.70" height="2.6" fill="#d4cce6" opacity="0.9"/>
<rect x="314.91" y="68.00" width="54.17" height="1.00" fill="url(#gw_or)" opacity="1.000"/>
<rect x="317.03" y="69.00" width="49.94" height="1.00" fill="url(#gw_or)" opacity="1.000"/>
<rect x="318.96" y="70.00" width="46.07" height="1.00" fill="url(#gw_or)" opacity="1.000"/>
<rect x="320.73" y="71.00" width="42.54" height="1.00" fill="url(#gw_or)" opacity="1.000"/>
<rect x="322.34" y="72.00" width="39.32" height="1.00" fill="url(#gw_or)" opacity="1.000"/>
<rect x="323.81" y="73.00" width="36.37" height="1.00" fill="url(#gw_or)" opacity="1.000"/>
<rect x="325.16" y="74.00" width="33.69" height="1.00" fill="url(#gw_or)" opacity="1.000"/>
<rect x="326.38" y="75.00" width="31.23" height="1.00" fill="url(#gw_or)" opacity="1.000"/>
<rect x="327.51" y="76.00" width="28.99" height="1.00" fill="url(#gw_or)" opacity="1.000"/>
<rect x="328.53" y="77.00" width="26.94" height="1.00" fill="url(#gw_or)" opacity="1.000"/>
<rect x="329.46" y="78.00" width="25.07" height="1.00" fill="url(#gw_or)" opacity="1.000"/>
<rect x="330.32" y="79.00" width="23.37" height="1.00" fill="url(#gw_or)" opacity="1.000"/>
<rect x="331.09" y="80.00" width="21.81" height="1.00" fill="url(#gw_or)" opacity="1.000"/>
<rect x="331.81" y="81.00" width="20.39" height="1.00" fill="url(#gw_or)" opacity="1.000"/>
<rect x="332.46" y="82.00" width="19.09" height="1.00" fill="url(#gw_or)" opacity="1.000"/>
<rect x="333.05" y="83.00" width="17.90" height="1.00" fill="url(#gw_or)" opacity="1.000"/>
<rect x="333.59" y="84.00" width="16.82" height="1.00" fill="url(#gw_or)" opacity="1.000"/>
<rect x="334.08" y="85.00" width="15.83" height="1.00" fill="url(#gw_or)" opacity="1.000"/>
<rect x="334.54" y="86.00" width="14.93" height="1.00" fill="url(#gw_or)" opacity="1.000"/>
<rect x="334.95" y="87.00" width="14.10" height="1.00" fill="url(#gw_or)" opacity="1.000"/>
<rect x="335.32" y="88.00" width="13.35" height="1.00" fill="url(#gw_or)" opacity="1.000"/>
<rect x="335.67" y="89.00" width="12.66" height="1.00" fill="url(#gw_or)" opacity="1.000"/>
<rect x="335.98" y="90.00" width="12.04" height="1.00" fill="url(#gw_or)" opacity="1.000"/>
<rect x="336.27" y="91.00" width="11.46" height="1.00" fill="url(#gw_or)" opacity="1.000"/>
<rect x="336.53" y="92.00" width="10.94" height="1.00" fill="url(#gw_or)" opacity="1.000"/>
<rect x="336.77" y="93.00" width="10.46" height="1.00" fill="url(#gw_or)" opacity="1.000"/>
<rect x="336.99" y="94.00" width="10.02" height="1.00" fill="url(#gw_or)" opacity="1.000"/>
<rect x="337.19" y="95.00" width="9.63" height="1.00" fill="url(#gw_or)" opacity="1.000"/>
<rect x="337.37" y="96.00" width="9.26" height="1.00" fill="url(#gw_or)" opacity="1.000"/>
<rect x="337.53" y="97.00" width="8.93" height="1.00" fill="url(#gw_or)" opacity="1.000"/>
<rect x="337.69" y="98.00" width="8.63" height="1.00" fill="url(#gw_or)" opacity="1.000"/>
<rect x="337.82" y="99.00" width="8.35" height="1.00" fill="url(#gw_or)" opacity="1.000"/>
<rect x="337.95" y="100.00" width="8.10" height="1.00" fill="url(#gw_or)" opacity="0.990"/>
<rect x="338.07" y="101.00" width="7.87" height="1.00" fill="url(#gw_or)" opacity="0.970"/>
<rect x="338.17" y="102.00" width="7.66" height="1.00" fill="url(#gw_or)" opacity="0.950"/>
<rect x="338.27" y="103.00" width="7.46" height="1.00" fill="url(#gw_or)" opacity="0.930"/>
<rect x="338.36" y="104.00" width="7.29" height="1.00" fill="url(#gw_or)" opacity="0.910"/>
<rect x="338.44" y="105.00" width="7.13" height="1.00" fill="url(#gw_or)" opacity="0.890"/>
<rect x="338.51" y="106.00" width="6.98" height="1.00" fill="url(#gw_or)" opacity="0.870"/>
<rect x="338.58" y="107.00" width="6.85" height="1.00" fill="url(#gw_or)" opacity="0.850"/>
<rect x="338.64" y="108.00" width="6.72" height="1.00" fill="url(#gw_or)" opacity="0.830"/>
<rect x="338.69" y="109.00" width="6.61" height="1.00" fill="url(#gw_or)" opacity="0.810"/>
<rect x="338.74" y="110.00" width="6.51" height="1.00" fill="url(#gw_or)" opacity="0.790"/>
<rect x="338.79" y="111.00" width="6.42" height="1.00" fill="url(#gw_or)" opacity="0.770"/>
<rect x="338.83" y="112.00" width="6.33" height="1.00" fill="url(#gw_or)" opacity="0.750"/>
<rect x="338.87" y="113.00" width="6.26" height="1.00" fill="url(#gw_or)" opacity="0.730"/>
<rect x="338.91" y="114.00" width="6.18" height="1.00" fill="url(#gw_or)" opacity="0.710"/>
<rect x="338.94" y="115.00" width="6.12" height="1.00" fill="url(#gw_or)" opacity="0.690"/>
<rect x="338.97" y="116.00" width="6.06" height="1.00" fill="url(#gw_or)" opacity="0.670"/>
<rect x="339.00" y="117.00" width="6.01" height="1.00" fill="url(#gw_or)" opacity="0.650"/>
<rect x="339.02" y="118.00" width="5.96" height="1.00" fill="url(#gw_or)" opacity="0.630"/>
<rect x="339.04" y="119.00" width="5.91" height="1.00" fill="url(#gw_or)" opacity="0.610"/>
<rect x="339.06" y="120.00" width="5.87" height="1.00" fill="url(#gw_or)" opacity="0.590"/>
<rect x="339.08" y="121.00" width="5.83" height="1.00" fill="url(#gw_or)" opacity="0.570"/>
<rect x="339.10" y="122.00" width="5.80" height="1.00" fill="url(#gw_or)" opacity="0.550"/>
<rect x="339.12" y="123.00" width="5.77" height="1.00" fill="url(#gw_or)" opacity="0.530"/>
<rect x="339.13" y="124.00" width="5.74" height="1.00" fill="url(#gw_or)" opacity="0.510"/>
<rect x="339.14" y="125.00" width="5.71" height="1.00" fill="url(#gw_or)" opacity="0.490"/>
<rect x="339.16" y="126.00" width="5.69" height="1.00" fill="url(#gw_or)" opacity="0.470"/>
<rect x="339.17" y="127.00" width="5.67" height="1.00" fill="url(#gw_or)" opacity="0.450"/>
<rect x="339.18" y="128.00" width="5.65" height="1.00" fill="url(#gw_or)" opacity="0.430"/>
<rect x="339.18" y="129.00" width="5.63" height="1.00" fill="url(#gw_or)" opacity="0.410"/>
<rect x="339.19" y="130.00" width="5.61" height="1.00" fill="url(#gw_or)" opacity="0.390"/>
<rect x="339.20" y="131.00" width="5.60" height="1.00" fill="url(#gw_or)" opacity="0.370"/>
<rect x="339.21" y="132.00" width="5.58" height="1.00" fill="url(#gw_or)" opacity="0.350"/>
<rect x="339.21" y="133.00" width="5.57" height="1.00" fill="url(#gw_or)" opacity="0.330"/>
<rect x="339.22" y="134.00" width="5.56" height="1.00" fill="url(#gw_or)" opacity="0.310"/>
<rect x="339.22" y="135.00" width="5.55" height="1.00" fill="url(#gw_or)" opacity="0.290"/>
<rect x="339.23" y="136.00" width="5.54" height="1.00" fill="url(#gw_or)" opacity="0.270"/>
<rect x="339.23" y="137.00" width="5.53" height="1.00" fill="url(#gw_or)" opacity="0.250"/>
<rect x="339.24" y="138.00" width="5.52" height="1.00" fill="url(#gw_or)" opacity="0.230"/>
<rect x="339.24" y="139.00" width="5.52" height="1.00" fill="url(#gw_or)" opacity="0.210"/>
<rect x="339.24" y="140.00" width="5.51" height="1.00" fill="url(#gw_or)" opacity="0.190"/>
<rect x="339.25" y="141.00" width="5.50" height="1.00" fill="url(#gw_or)" opacity="0.170"/>
<rect x="339.25" y="142.00" width="5.50" height="1.00" fill="url(#gw_or)" opacity="0.150"/>
<rect x="339.25" y="143.00" width="5.49" height="1.00" fill="url(#gw_or)" opacity="0.130"/>
<rect x="339.26" y="144.00" width="5.49" height="1.00" fill="url(#gw_or)" opacity="0.110"/>
<rect x="339.26" y="145.00" width="5.48" height="1.00" fill="url(#gw_or)" opacity="0.090"/>
<rect x="339.26" y="146.00" width="5.48" height="1.00" fill="url(#gw_or)" opacity="0.070"/>
<rect x="339.26" y="147.00" width="5.48" height="1.00" fill="url(#gw_or)" opacity="0.050"/>
<rect x="339.26" y="148.00" width="5.47" height="1.00" fill="url(#gw_or)" opacity="0.030"/>
<rect x="339.26" y="149.00" width="5.47" height="1.00" fill="url(#gw_or)" opacity="0.010"/>
<rect x="327.66" y="68.00" width="28.68" height="1.00" fill="url(#gw_or)" opacity="0.700"/>
<rect x="328.78" y="69.00" width="26.44" height="1.00" fill="url(#gw_or)" opacity="0.700"/>
<rect x="329.80" y="70.00" width="24.39" height="1.00" fill="url(#gw_or)" opacity="0.700"/>
<rect x="330.74" y="71.00" width="22.52" height="1.00" fill="url(#gw_or)" opacity="0.700"/>
<rect x="331.59" y="72.00" width="20.81" height="1.00" fill="url(#gw_or)" opacity="0.700"/>
<rect x="332.37" y="73.00" width="19.26" height="1.00" fill="url(#gw_or)" opacity="0.700"/>
<rect x="333.08" y="74.00" width="17.83" height="1.00" fill="url(#gw_or)" opacity="0.700"/>
<rect x="333.73" y="75.00" width="16.53" height="1.00" fill="url(#gw_or)" opacity="0.700"/>
<rect x="334.33" y="76.00" width="15.35" height="1.00" fill="url(#gw_or)" opacity="0.700"/>
<rect x="334.87" y="77.00" width="14.26" height="1.00" fill="url(#gw_or)" opacity="0.700"/>
<rect x="335.36" y="78.00" width="13.27" height="1.00" fill="url(#gw_or)" opacity="0.700"/>
<rect x="335.81" y="79.00" width="12.37" height="1.00" fill="url(#gw_or)" opacity="0.700"/>
<rect x="336.23" y="80.00" width="11.55" height="1.00" fill="url(#gw_or)" opacity="0.700"/>
<rect x="336.60" y="81.00" width="10.79" height="1.00" fill="url(#gw_or)" opacity="0.700"/>
<rect x="336.95" y="82.00" width="10.11" height="1.00" fill="url(#gw_or)" opacity="0.700"/>
<rect x="337.26" y="83.00" width="9.48" height="1.00" fill="url(#gw_or)" opacity="0.700"/>
<rect x="337.55" y="84.00" width="8.90" height="1.00" fill="url(#gw_or)" opacity="0.700"/>
<rect x="337.81" y="85.00" width="8.38" height="1.00" fill="url(#gw_or)" opacity="0.700"/>
<rect x="338.05" y="86.00" width="7.90" height="1.00" fill="url(#gw_or)" opacity="0.700"/>
<rect x="338.27" y="87.00" width="7.47" height="1.00" fill="url(#gw_or)" opacity="0.700"/>
<rect x="338.47" y="88.00" width="7.07" height="1.00" fill="url(#gw_or)" opacity="0.700"/>
<rect x="338.65" y="89.00" width="6.70" height="1.00" fill="url(#gw_or)" opacity="0.700"/>
<rect x="338.81" y="90.00" width="6.37" height="1.00" fill="url(#gw_or)" opacity="0.700"/>
<rect x="338.97" y="91.00" width="6.07" height="1.00" fill="url(#gw_or)" opacity="0.700"/>
<rect x="339.10" y="92.00" width="5.79" height="1.00" fill="url(#gw_or)" opacity="0.700"/>
<rect x="339.23" y="93.00" width="5.54" height="1.00" fill="url(#gw_or)" opacity="0.700"/>
<rect x="339.35" y="94.00" width="5.31" height="1.00" fill="url(#gw_or)" opacity="0.700"/>
<rect x="339.45" y="95.00" width="5.10" height="1.00" fill="url(#gw_or)" opacity="0.700"/>
<rect x="339.55" y="96.00" width="4.90" height="1.00" fill="url(#gw_or)" opacity="0.700"/>
<rect x="339.64" y="97.00" width="4.73" height="1.00" fill="url(#gw_or)" opacity="0.700"/>
<rect x="339.72" y="98.00" width="4.57" height="1.00" fill="url(#gw_or)" opacity="0.700"/>
<rect x="339.79" y="99.00" width="4.42" height="1.00" fill="url(#gw_or)" opacity="0.700"/>
<rect x="339.86" y="100.00" width="4.29" height="1.00" fill="url(#gw_or)" opacity="0.693"/>
<rect x="339.92" y="101.00" width="4.16" height="1.00" fill="url(#gw_or)" opacity="0.679"/>
<rect x="339.97" y="102.00" width="4.05" height="1.00" fill="url(#gw_or)" opacity="0.665"/>
<rect x="340.02" y="103.00" width="3.95" height="1.00" fill="url(#gw_or)" opacity="0.651"/>
<rect x="340.07" y="104.00" width="3.86" height="1.00" fill="url(#gw_or)" opacity="0.637"/>
<rect x="340.11" y="105.00" width="3.77" height="1.00" fill="url(#gw_or)" opacity="0.623"/>
<rect x="340.15" y="106.00" width="3.70" height="1.00" fill="url(#gw_or)" opacity="0.609"/>
<rect x="340.19" y="107.00" width="3.62" height="1.00" fill="url(#gw_or)" opacity="0.595"/>
<rect x="340.22" y="108.00" width="3.56" height="1.00" fill="url(#gw_or)" opacity="0.581"/>
<rect x="340.25" y="109.00" width="3.50" height="1.00" fill="url(#gw_or)" opacity="0.567"/>
<rect x="340.28" y="110.00" width="3.45" height="1.00" fill="url(#gw_or)" opacity="0.553"/>
<rect x="340.30" y="111.00" width="3.40" height="1.00" fill="url(#gw_or)" opacity="0.539"/>
<rect x="340.32" y="112.00" width="3.35" height="1.00" fill="url(#gw_or)" opacity="0.525"/>
<rect x="340.34" y="113.00" width="3.31" height="1.00" fill="url(#gw_or)" opacity="0.511"/>
<rect x="340.36" y="114.00" width="3.27" height="1.00" fill="url(#gw_or)" opacity="0.497"/>
<rect x="340.38" y="115.00" width="3.24" height="1.00" fill="url(#gw_or)" opacity="0.483"/>
<rect x="340.40" y="116.00" width="3.21" height="1.00" fill="url(#gw_or)" opacity="0.469"/>
<rect x="340.41" y="117.00" width="3.18" height="1.00" fill="url(#gw_or)" opacity="0.455"/>
<rect x="340.42" y="118.00" width="3.15" height="1.00" fill="url(#gw_or)" opacity="0.441"/>
<rect x="340.43" y="119.00" width="3.13" height="1.00" fill="url(#gw_or)" opacity="0.427"/>
<rect x="340.45" y="120.00" width="3.11" height="1.00" fill="url(#gw_or)" opacity="0.413"/>
<rect x="340.46" y="121.00" width="3.09" height="1.00" fill="url(#gw_or)" opacity="0.399"/>
<rect x="340.46" y="122.00" width="3.07" height="1.00" fill="url(#gw_or)" opacity="0.385"/>
<rect x="340.47" y="123.00" width="3.05" height="1.00" fill="url(#gw_or)" opacity="0.371"/>
<rect x="340.48" y="124.00" width="3.04" height="1.00" fill="url(#gw_or)" opacity="0.357"/>
<rect x="340.49" y="125.00" width="3.02" height="1.00" fill="url(#gw_or)" opacity="0.343"/>
<rect x="340.49" y="126.00" width="3.01" height="1.00" fill="url(#gw_or)" opacity="0.329"/>
<rect x="340.50" y="127.00" width="3.00" height="1.00" fill="url(#gw_or)" opacity="0.315"/>
<rect x="340.50" y="128.00" width="2.99" height="1.00" fill="url(#gw_or)" opacity="0.301"/>
<rect x="340.51" y="129.00" width="2.98" height="1.00" fill="url(#gw_or)" opacity="0.287"/>
<rect x="340.51" y="130.00" width="2.97" height="1.00" fill="url(#gw_or)" opacity="0.273"/>
<rect x="340.52" y="131.00" width="2.96" height="1.00" fill="url(#gw_or)" opacity="0.259"/>
<rect x="340.52" y="132.00" width="2.96" height="1.00" fill="url(#gw_or)" opacity="0.245"/>
<rect x="340.52" y="133.00" width="2.95" height="1.00" fill="url(#gw_or)" opacity="0.231"/>
<rect x="340.53" y="134.00" width="2.94" height="1.00" fill="url(#gw_or)" opacity="0.217"/>
<rect x="340.53" y="135.00" width="2.94" height="1.00" fill="url(#gw_or)" opacity="0.203"/>
<rect x="340.53" y="136.00" width="2.93" height="1.00" fill="url(#gw_or)" opacity="0.189"/>
<rect x="340.54" y="137.00" width="2.93" height="1.00" fill="url(#gw_or)" opacity="0.175"/>
<rect x="340.54" y="138.00" width="2.92" height="1.00" fill="url(#gw_or)" opacity="0.161"/>
<rect x="340.54" y="139.00" width="2.92" height="1.00" fill="url(#gw_or)" opacity="0.147"/>
<rect x="340.54" y="140.00" width="2.92" height="1.00" fill="url(#gw_or)" opacity="0.133"/>
<rect x="340.54" y="141.00" width="2.91" height="1.00" fill="url(#gw_or)" opacity="0.119"/>
<rect x="340.54" y="142.00" width="2.91" height="1.00" fill="url(#gw_or)" opacity="0.105"/>
<rect x="340.55" y="143.00" width="2.91" height="1.00" fill="url(#gw_or)" opacity="0.091"/>
<rect x="340.55" y="144.00" width="2.91" height="1.00" fill="url(#gw_or)" opacity="0.077"/>
<rect x="340.55" y="145.00" width="2.90" height="1.00" fill="url(#gw_or)" opacity="0.063"/>
<rect x="340.55" y="146.00" width="2.90" height="1.00" fill="url(#gw_or)" opacity="0.049"/>
<rect x="340.55" y="147.00" width="2.90" height="1.00" fill="url(#gw_or)" opacity="0.035"/>
<rect x="340.55" y="148.00" width="2.90" height="1.00" fill="url(#gw_or)" opacity="0.021"/>
<rect x="340.55" y="149.00" width="2.90" height="1.00" fill="url(#gw_or)" opacity="0.007"/>
<rect x="339.00" y="100.00" width="6.00" height="1.00" fill="url(#gw_or2)" opacity="0.009"/>
<rect x="339.00" y="101.00" width="6.00" height="1.00" fill="url(#gw_or2)" opacity="0.028"/>
<rect x="339.00" y="102.00" width="6.00" height="1.00" fill="url(#gw_or2)" opacity="0.047"/>
<rect x="339.00" y="103.00" width="6.00" height="1.00" fill="url(#gw_or2)" opacity="0.066"/>
<rect x="339.00" y="104.00" width="6.00" height="1.00" fill="url(#gw_or2)" opacity="0.084"/>
<rect x="339.00" y="105.00" width="6.00" height="1.00" fill="url(#gw_or2)" opacity="0.103"/>
<rect x="339.00" y="106.00" width="6.00" height="1.00" fill="url(#gw_or2)" opacity="0.122"/>
<rect x="339.00" y="107.00" width="6.00" height="1.00" fill="url(#gw_or2)" opacity="0.141"/>
<rect x="339.00" y="108.00" width="6.00" height="1.00" fill="url(#gw_or2)" opacity="0.159"/>
<rect x="339.00" y="109.00" width="6.00" height="1.00" fill="url(#gw_or2)" opacity="0.178"/>
<rect x="339.00" y="110.00" width="6.00" height="1.00" fill="url(#gw_or2)" opacity="0.197"/>
<rect x="339.00" y="111.00" width="6.00" height="1.00" fill="url(#gw_or2)" opacity="0.216"/>
<rect x="339.00" y="112.00" width="6.00" height="1.00" fill="url(#gw_or2)" opacity="0.234"/>
<rect x="339.00" y="113.00" width="6.00" height="1.00" fill="url(#gw_or2)" opacity="0.253"/>
<rect x="339.00" y="114.00" width="6.00" height="1.00" fill="url(#gw_or2)" opacity="0.272"/>
<rect x="339.00" y="115.00" width="6.00" height="1.00" fill="url(#gw_or2)" opacity="0.291"/>
<rect x="339.00" y="116.00" width="6.00" height="1.00" fill="url(#gw_or2)" opacity="0.309"/>
<rect x="339.00" y="117.00" width="6.00" height="1.00" fill="url(#gw_or2)" opacity="0.328"/>
<rect x="339.00" y="118.00" width="6.00" height="1.00" fill="url(#gw_or2)" opacity="0.347"/>
<rect x="339.00" y="119.00" width="6.00" height="1.00" fill="url(#gw_or2)" opacity="0.366"/>
<rect x="339.00" y="120.00" width="6.00" height="1.00" fill="url(#gw_or2)" opacity="0.384"/>
<rect x="339.00" y="121.00" width="6.00" height="1.00" fill="url(#gw_or2)" opacity="0.403"/>
<rect x="339.00" y="122.00" width="6.00" height="1.00" fill="url(#gw_or2)" opacity="0.422"/>
<rect x="339.00" y="123.00" width="6.00" height="1.00" fill="url(#gw_or2)" opacity="0.441"/>
<rect x="339.00" y="124.00" width="6.00" height="1.00" fill="url(#gw_or2)" opacity="0.459"/>
<rect x="339.00" y="125.00" width="6.00" height="1.00" fill="url(#gw_or2)" opacity="0.478"/>
<rect x="339.00" y="126.00" width="6.00" height="1.00" fill="url(#gw_or2)" opacity="0.497"/>
<rect x="339.00" y="127.00" width="6.00" height="1.00" fill="url(#gw_or2)" opacity="0.516"/>
<rect x="339.00" y="128.00" width="6.00" height="1.00" fill="url(#gw_or2)" opacity="0.534"/>
<rect x="339.00" y="129.00" width="6.00" height="1.00" fill="url(#gw_or2)" opacity="0.553"/>
<rect x="339.00" y="130.00" width="6.00" height="1.00" fill="url(#gw_or2)" opacity="0.572"/>
<rect x="339.00" y="131.00" width="6.00" height="1.00" fill="url(#gw_or2)" opacity="0.591"/>
<rect x="339.00" y="132.00" width="6.00" height="1.00" fill="url(#gw_or2)" opacity="0.609"/>
<rect x="339.00" y="133.00" width="6.00" height="1.00" fill="url(#gw_or2)" opacity="0.628"/>
<rect x="339.00" y="134.00" width="6.00" height="1.00" fill="url(#gw_or2)" opacity="0.647"/>
<rect x="339.00" y="135.00" width="6.00" height="1.00" fill="url(#gw_or2)" opacity="0.666"/>
<rect x="339.00" y="136.00" width="6.00" height="1.00" fill="url(#gw_or2)" opacity="0.684"/>
<rect x="339.00" y="137.00" width="6.00" height="1.00" fill="url(#gw_or2)" opacity="0.703"/>
<rect x="339.00" y="138.00" width="6.00" height="1.00" fill="url(#gw_or2)" opacity="0.722"/>
<rect x="339.00" y="139.00" width="6.00" height="1.00" fill="url(#gw_or2)" opacity="0.741"/>
<rect x="339.00" y="140.00" width="6.00" height="1.00" fill="url(#gw_or2)" opacity="0.750"/>
<rect x="339.00" y="141.00" width="6.00" height="1.00" fill="url(#gw_or2)" opacity="0.750"/>
<rect x="339.00" y="142.00" width="6.00" height="1.00" fill="url(#gw_or2)" opacity="0.750"/>
<rect x="339.00" y="143.00" width="6.00" height="1.00" fill="url(#gw_or2)" opacity="0.750"/>
<rect x="339.00" y="144.00" width="6.00" height="1.00" fill="url(#gw_or2)" opacity="0.750"/>
<rect x="339.00" y="145.00" width="6.00" height="1.00" fill="url(#gw_or2)" opacity="0.750"/>
<rect x="339.00" y="146.00" width="6.00" height="1.00" fill="url(#gw_or2)" opacity="0.750"/>
<rect x="339.00" y="147.00" width="6.00" height="1.00" fill="url(#gw_or2)" opacity="0.750"/>
<rect x="339.00" y="148.00" width="6.00" height="1.00" fill="url(#gw_or2)" opacity="0.750"/>
<rect x="339.00" y="149.00" width="6.00" height="1.00" fill="url(#gw_or2)" opacity="0.750"/>
<rect x="339.00" y="150.00" width="6.00" height="1.00" fill="url(#gw_or2)" opacity="0.750"/>
<rect x="339.00" y="151.00" width="6.00" height="1.00" fill="url(#gw_or2)" opacity="0.750"/>
<rect x="339.00" y="152.00" width="6.00" height="1.00" fill="url(#gw_or2)" opacity="0.750"/>
<rect x="339.00" y="153.00" width="6.00" height="1.00" fill="url(#gw_or2)" opacity="0.750"/>
<rect x="339.00" y="154.00" width="6.00" height="1.00" fill="url(#gw_or2)" opacity="0.750"/>
<rect x="339.00" y="155.00" width="6.00" height="1.00" fill="url(#gw_or2)" opacity="0.750"/>
<rect x="339.00" y="156.00" width="6.00" height="1.00" fill="url(#gw_or2)" opacity="0.750"/>
<rect x="339.00" y="157.00" width="6.00" height="1.00" fill="url(#gw_or2)" opacity="0.750"/>
<rect x="339.00" y="158.00" width="6.00" height="1.00" fill="url(#gw_or2)" opacity="0.750"/>
<rect x="339.00" y="159.00" width="6.00" height="1.00" fill="url(#gw_or2)" opacity="0.750"/>
<rect x="339.00" y="160.00" width="6.00" height="1.00" fill="url(#gw_or2)" opacity="0.750"/>
<rect x="339.00" y="161.00" width="6.00" height="1.00" fill="url(#gw_or2)" opacity="0.750"/>
<rect x="339.00" y="162.00" width="6.00" height="1.00" fill="url(#gw_or2)" opacity="0.750"/>
<rect x="339.00" y="163.00" width="6.00" height="1.00" fill="url(#gw_or2)" opacity="0.750"/>
<rect x="339.00" y="164.00" width="6.00" height="1.00" fill="url(#gw_or2)" opacity="0.750"/>
<rect x="339.00" y="165.00" width="6.00" height="1.00" fill="url(#gw_or2)" opacity="0.750"/>
<rect x="339.00" y="166.00" width="6.00" height="1.00" fill="url(#gw_or2)" opacity="0.750"/>
<rect x="339.00" y="167.00" width="6.00" height="1.00" fill="url(#gw_or2)" opacity="0.750"/>
<rect x="339.00" y="168.00" width="6.00" height="1.00" fill="url(#gw_or2)" opacity="0.750"/>
<rect x="339.00" y="169.00" width="6.00" height="1.00" fill="url(#gw_or2)" opacity="0.750"/>
<rect x="339.00" y="170.00" width="6.00" height="1.00" fill="url(#gw_or2)" opacity="0.750"/>
<rect x="339.00" y="171.00" width="6.00" height="1.00" fill="url(#gw_or2)" opacity="0.750"/>
<rect x="339.00" y="172.00" width="6.00" height="1.00" fill="url(#gw_or2)" opacity="0.750"/>
<rect x="339.00" y="173.00" width="6.00" height="1.00" fill="url(#gw_or2)" opacity="0.750"/>
<rect x="339.00" y="174.00" width="6.00" height="1.00" fill="url(#gw_or2)" opacity="0.750"/>
<rect x="339.00" y="175.00" width="6.00" height="1.00" fill="url(#gw_or2)" opacity="0.750"/>
<rect x="339.00" y="176.00" width="6.00" height="1.00" fill="url(#gw_or2)" opacity="0.750"/>
<rect x="339.00" y="177.00" width="6.00" height="1.00" fill="url(#gw_or2)" opacity="0.750"/>
<rect x="339.00" y="178.00" width="6.00" height="1.00" fill="url(#gw_or2)" opacity="0.750"/>
<rect x="339.00" y="179.00" width="6.00" height="1.00" fill="url(#gw_or2)" opacity="0.750"/>
<rect x="339.00" y="180.00" width="6.00" height="1.00" fill="url(#gw_or2)" opacity="0.750"/>
<rect x="339.00" y="181.00" width="6.00" height="1.00" fill="url(#gw_or2)" opacity="0.750"/>
<rect x="339.00" y="182.00" width="6.00" height="1.00" fill="url(#gw_or2)" opacity="0.750"/>
<rect x="339.00" y="183.00" width="6.00" height="1.00" fill="url(#gw_or2)" opacity="0.750"/>
<rect x="339.00" y="184.00" width="6.00" height="1.00" fill="url(#gw_or2)" opacity="0.750"/>
<rect x="339.00" y="185.00" width="6.00" height="1.00" fill="url(#gw_or2)" opacity="0.750"/>
<rect x="339.00" y="186.00" width="6.00" height="1.00" fill="url(#gw_or2)" opacity="0.750"/>
<rect x="339.00" y="187.00" width="6.00" height="1.00" fill="url(#gw_or2)" opacity="0.750"/>
<rect x="339.00" y="188.00" width="6.00" height="1.00" fill="url(#gw_or2)" opacity="0.750"/>
<rect x="339.00" y="189.00" width="6.00" height="1.00" fill="url(#gw_or2)" opacity="0.750"/>
<rect x="339.00" y="190.00" width="6.00" height="1.00" fill="url(#gw_or2)" opacity="0.750"/>
<rect x="339.00" y="191.00" width="6.00" height="1.00" fill="url(#gw_or2)" opacity="0.750"/>
<rect x="339.00" y="192.00" width="6.00" height="1.00" fill="url(#gw_or2)" opacity="0.750"/>
<rect x="339.00" y="193.00" width="6.00" height="1.00" fill="url(#gw_or2)" opacity="0.750"/>
<rect x="339.00" y="194.00" width="6.00" height="1.00" fill="url(#gw_or2)" opacity="0.750"/>
<rect x="339.00" y="195.00" width="6.00" height="1.00" fill="url(#gw_or2)" opacity="0.750"/>
<rect x="339.00" y="196.00" width="6.00" height="1.00" fill="url(#gw_or2)" opacity="0.750"/>
<rect x="339.00" y="197.00" width="6.00" height="1.00" fill="url(#gw_or2)" opacity="0.750"/>
<rect x="339.00" y="198.00" width="6.00" height="1.00" fill="url(#gw_or2)" opacity="0.750"/>
<rect x="339.00" y="199.00" width="6.00" height="1.00" fill="url(#gw_or2)" opacity="0.750"/>
<rect x="339.00" y="200.00" width="6.00" height="1.00" fill="url(#gw_or2)" opacity="0.750"/>
<rect x="339.00" y="201.00" width="6.00" height="1.00" fill="url(#gw_or2)" opacity="0.750"/>
<rect x="339.00" y="202.00" width="6.00" height="1.00" fill="url(#gw_or2)" opacity="0.750"/>
<rect x="339.00" y="203.00" width="6.00" height="1.00" fill="url(#gw_or2)" opacity="0.750"/>
<rect x="339.00" y="204.00" width="6.00" height="1.00" fill="url(#gw_or2)" opacity="0.750"/>
<rect x="339.00" y="205.00" width="6.00" height="1.00" fill="url(#gw_or2)" opacity="0.750"/>
<rect x="339.00" y="206.00" width="6.00" height="1.00" fill="url(#gw_or2)" opacity="0.750"/>
<rect x="339.00" y="207.00" width="6.00" height="1.00" fill="url(#gw_or2)" opacity="0.750"/>
<rect x="339.00" y="208.00" width="6.00" height="1.00" fill="url(#gw_or2)" opacity="0.750"/>
<rect x="339.00" y="209.00" width="6.00" height="1.00" fill="url(#gw_or2)" opacity="0.750"/>
<rect x="339.00" y="210.00" width="6.00" height="1.00" fill="url(#gw_or2)" opacity="0.750"/>
<rect x="339.00" y="211.00" width="6.00" height="1.00" fill="url(#gw_or2)" opacity="0.750"/>
<rect x="339.00" y="212.00" width="6.00" height="1.00" fill="url(#gw_or2)" opacity="0.750"/>
<rect x="339.00" y="213.00" width="6.00" height="1.00" fill="url(#gw_or2)" opacity="0.750"/>
<rect x="339.00" y="214.00" width="6.00" height="1.00" fill="url(#gw_or2)" opacity="0.750"/>
<rect x="339.00" y="215.00" width="6.00" height="1.00" fill="url(#gw_or2)" opacity="0.750"/>
<rect x="339.00" y="216.00" width="6.00" height="1.00" fill="url(#gw_or2)" opacity="0.750"/>
<rect x="339.00" y="217.00" width="6.00" height="1.00" fill="url(#gw_or2)" opacity="0.750"/>
<rect x="339.00" y="218.00" width="6.00" height="1.00" fill="url(#gw_or2)" opacity="0.750"/>
<rect x="339.00" y="219.00" width="6.00" height="1.00" fill="url(#gw_or2)" opacity="0.750"/>
<rect x="339.00" y="220.00" width="6.00" height="1.00" fill="url(#gw_or2)" opacity="0.750"/>
<rect x="339.00" y="221.00" width="6.00" height="1.00" fill="url(#gw_or2)" opacity="0.750"/>
<rect x="339.00" y="222.00" width="6.00" height="1.00" fill="url(#gw_or2)" opacity="0.750"/>
<rect x="339.00" y="223.00" width="6.00" height="1.00" fill="url(#gw_or2)" opacity="0.750"/>
<rect x="339.00" y="224.00" width="6.00" height="1.00" fill="url(#gw_or2)" opacity="0.750"/>
<rect x="339.00" y="225.00" width="6.00" height="1.00" fill="url(#gw_or2)" opacity="0.750"/>
<rect x="339.00" y="226.00" width="6.00" height="1.00" fill="url(#gw_or2)" opacity="0.750"/>
<rect x="339.00" y="227.00" width="6.00" height="1.00" fill="url(#gw_or2)" opacity="0.750"/>
<rect x="339.00" y="228.00" width="6.00" height="1.00" fill="url(#gw_or2)" opacity="0.750"/>
<rect x="339.00" y="229.00" width="6.00" height="1.00" fill="url(#gw_or2)" opacity="0.750"/>
<rect x="339.00" y="230.00" width="6.00" height="1.00" fill="url(#gw_or2)" opacity="0.750"/>
<rect x="339.00" y="231.00" width="6.00" height="1.00" fill="url(#gw_or2)" opacity="0.750"/>
<rect x="339.00" y="232.00" width="6.00" height="1.00" fill="url(#gw_or2)" opacity="0.750"/>
<rect x="339.00" y="233.00" width="6.00" height="1.00" fill="url(#gw_or2)" opacity="0.750"/>
<linearGradient id="vl5_3420" x1="0" y1="0" x2="0" y2="1"><stop offset="0.000" stop-color="#fff4ea"/><stop offset="0.299" stop-color="#f8c880"/><stop offset="0.597" stop-color="#f0a848"/><stop offset="1.000" stop-color="#e49434"/></linearGradient>
<rect x="341.35" y="100" width="1.3" height="133.90" fill="url(#vl5_3420)" opacity="0.85"/>
<rect x="337.50" y="67.00" width="9.00" height="2.00" fill="url(#gw_lav)" opacity="0.725"/>
<rect x="337.50" y="69.00" width="9.00" height="2.00" fill="url(#gw_lav)" opacity="0.675"/>
<rect x="337.50" y="71.00" width="9.00" height="2.00" fill="url(#gw_lav)" opacity="0.625"/>
<rect x="337.50" y="73.00" width="9.00" height="2.00" fill="url(#gw_lav)" opacity="0.575"/>
<rect x="337.50" y="75.00" width="9.00" height="2.00" fill="url(#gw_lav)" opacity="0.525"/>
<rect x="337.50" y="77.00" width="9.00" height="2.00" fill="url(#gw_lav)" opacity="0.475"/>
<rect x="337.50" y="79.00" width="9.00" height="2.00" fill="url(#gw_lav)" opacity="0.425"/>
<rect x="337.50" y="81.00" width="9.00" height="2.00" fill="url(#gw_lav)" opacity="0.375"/>
<rect x="337.50" y="83.00" width="9.00" height="2.00" fill="url(#gw_lav)" opacity="0.325"/>
<rect x="337.50" y="85.00" width="9.00" height="2.00" fill="url(#gw_lav)" opacity="0.275"/>
<rect x="337.50" y="87.00" width="9.00" height="2.00" fill="url(#gw_lav)" opacity="0.225"/>
<rect x="337.50" y="89.00" width="9.00" height="2.00" fill="url(#gw_lav)" opacity="0.175"/>
<rect x="337.50" y="91.00" width="9.00" height="2.00" fill="url(#gw_lav)" opacity="0.125"/>
<rect x="337.50" y="93.00" width="9.00" height="2.00" fill="url(#gw_lav)" opacity="0.075"/>
<rect x="337.00" y="67.00" width="10.00" height="1.00" fill="url(#gw_pur)" opacity="0.900"/>
<rect x="337.00" y="68.00" width="10.00" height="1.00" fill="url(#gw_pur)" opacity="0.900"/>
<rect x="337.00" y="69.00" width="10.00" height="1.00" fill="url(#gw_pur)" opacity="0.900"/>
<rect x="337.00" y="70.00" width="10.00" height="1.00" fill="url(#gw_pur)" opacity="0.900"/>
<rect x="340.00" y="71.00" width="4.00" height="1.00" fill="url(#gw_pur)" opacity="0.879"/>
<rect x="340.00" y="72.00" width="4.00" height="1.00" fill="url(#gw_pur)" opacity="0.838"/>
<rect x="340.00" y="73.00" width="4.00" height="1.00" fill="url(#gw_pur)" opacity="0.796"/>
<rect x="340.00" y="74.00" width="4.00" height="1.00" fill="url(#gw_pur)" opacity="0.754"/>
<rect x="340.00" y="75.00" width="4.00" height="1.00" fill="url(#gw_pur)" opacity="0.713"/>
<rect x="340.00" y="76.00" width="4.00" height="1.00" fill="url(#gw_pur)" opacity="0.671"/>
<rect x="340.00" y="77.00" width="4.00" height="1.00" fill="url(#gw_pur)" opacity="0.629"/>
<rect x="340.00" y="78.00" width="4.00" height="1.00" fill="url(#gw_pur)" opacity="0.588"/>
<rect x="340.00" y="79.00" width="4.00" height="1.00" fill="url(#gw_pur)" opacity="0.546"/>
<rect x="340.00" y="80.00" width="4.00" height="1.00" fill="url(#gw_pur)" opacity="0.504"/>
<rect x="340.00" y="81.00" width="4.00" height="1.00" fill="url(#gw_pur)" opacity="0.463"/>
<rect x="340.00" y="82.00" width="4.00" height="1.00" fill="url(#gw_pur)" opacity="0.421"/>
<rect x="340.00" y="83.00" width="4.00" height="1.00" fill="url(#gw_pur)" opacity="0.379"/>
<rect x="340.00" y="84.00" width="4.00" height="1.00" fill="url(#gw_pur)" opacity="0.338"/>
<rect x="340.00" y="85.00" width="4.00" height="1.00" fill="url(#gw_pur)" opacity="0.296"/>
<rect x="340.00" y="86.00" width="4.00" height="1.00" fill="url(#gw_pur)" opacity="0.254"/>
<rect x="340.00" y="87.00" width="4.00" height="1.00" fill="url(#gw_pur)" opacity="0.213"/>
<rect x="340.00" y="88.00" width="4.00" height="1.00" fill="url(#gw_pur)" opacity="0.171"/>
</g>
<rect x="143.4" y="232.5" width="31.50" height="1.2" fill="#801050" opacity="0.7"/>
<rect x="203.3" y="232.5" width="31.50" height="1.2" fill="#801050" opacity="0.7"/>
<rect x="84.5" y="75.6" width="30.70" height="1.0" fill="#a83028" opacity="0.35"/>
<rect x="158.80" y="66.2" width="1.2" height="6.5" fill="#80b850" opacity="0.8"/>
<rect x="218.90" y="66.2" width="1.2" height="6.5" fill="#80b850" opacity="0.8"/>
<text x="26.40" y="242.40" font-size="6.2" fill="#333" text-anchor="middle" textLength="11.0" lengthAdjust="spacingAndGlyphs" stroke="#333" stroke-width="0.18">−10</text>
<text x="53.80" y="242.40" font-size="6.2" fill="#333" text-anchor="middle" textLength="14.2" lengthAdjust="spacingAndGlyphs" stroke="#333" stroke-width="0.18">10Kb</text>
<text x="86.50" y="242.40" font-size="6.2" fill="#333" text-anchor="middle" textLength="11.0" lengthAdjust="spacingAndGlyphs" stroke="#333" stroke-width="0.18">−10</text>
<text x="113.60" y="242.40" font-size="6.2" fill="#333" text-anchor="middle" textLength="14.2" lengthAdjust="spacingAndGlyphs" stroke="#333" stroke-width="0.18">10Kb</text>
<text x="145.40" y="242.40" font-size="6.2" fill="#333" text-anchor="middle" textLength="11.0" lengthAdjust="spacingAndGlyphs" stroke="#333" stroke-width="0.18">−10</text>
<text x="173.30" y="242.40" font-size="6.2" fill="#333" text-anchor="middle" textLength="14.2" lengthAdjust="spacingAndGlyphs" stroke="#333" stroke-width="0.18">10Kb</text>
<text x="205.30" y="242.40" font-size="6.2" fill="#333" text-anchor="middle" textLength="11.0" lengthAdjust="spacingAndGlyphs" stroke="#333" stroke-width="0.18">−10</text>
<text x="233.20" y="242.40" font-size="6.2" fill="#333" text-anchor="middle" textLength="14.2" lengthAdjust="spacingAndGlyphs" stroke="#333" stroke-width="0.18">10Kb</text>
<text x="265.60" y="242.40" font-size="6.2" fill="#333" text-anchor="middle" textLength="11.0" lengthAdjust="spacingAndGlyphs" stroke="#333" stroke-width="0.18">−10</text>
<text x="293.40" y="242.40" font-size="6.2" fill="#333" text-anchor="middle" textLength="14.2" lengthAdjust="spacingAndGlyphs" stroke="#333" stroke-width="0.18">10Kb</text>
<text x="328.20" y="242.40" font-size="6.2" fill="#333" text-anchor="middle" textLength="11.0" lengthAdjust="spacingAndGlyphs" stroke="#333" stroke-width="0.18">−10</text>
<text x="356.30" y="242.40" font-size="6.2" fill="#333" text-anchor="middle" textLength="14.2" lengthAdjust="spacingAndGlyphs" stroke="#333" stroke-width="0.18">10Kb</text>
<linearGradient id="cb0" x1="0" y1="0" x2="1" y2="0"><stop offset="0.00" stop-color="#67001f"/><stop offset="0.10" stop-color="#b2182b"/><stop offset="0.20" stop-color="#d6604d"/><stop offset="0.30" stop-color="#f4a582"/><stop offset="0.40" stop-color="#fddbc7"/><stop offset="0.50" stop-color="#f7f7f7"/><stop offset="0.60" stop-color="#d1e5f0"/><stop offset="0.70" stop-color="#92c5de"/><stop offset="0.80" stop-color="#4393c3"/><stop offset="0.90" stop-color="#2166ac"/><stop offset="1.00" stop-color="#053061"/></linearGradient>
<rect x="24.4" y="244.8" width="31.00" height="3.6" fill="url(#cb0)"/>
<rect x="25.4" y="249.0" width="0.6" height="0.8" fill="#666"/>
<rect x="29.5" y="249.0" width="0.6" height="0.8" fill="#666"/>
<rect x="33.7" y="249.0" width="0.6" height="0.8" fill="#666"/>
<rect x="37.8" y="249.0" width="0.6" height="0.8" fill="#666"/>
<rect x="42.0" y="249.0" width="0.6" height="0.8" fill="#666"/>
<rect x="46.1" y="249.0" width="0.6" height="0.8" fill="#666"/>
<rect x="50.3" y="249.0" width="0.6" height="0.8" fill="#666"/>
<rect x="54.4" y="249.0" width="0.6" height="0.8" fill="#666"/>
<text x="0" y="0" font-size="6.6" fill="#333" transform="translate(22.20,252.4) rotate(90)">0</text>
<text x="0" y="0" font-size="6.6" fill="#333" transform="translate(38.10,252.4) rotate(90)">0.1</text>
<text x="0" y="0" font-size="6.6" fill="#333" transform="translate(50.10,252.4) rotate(90)">0.175</text>
<linearGradient id="cb1" x1="0" y1="0" x2="1" y2="0"><stop offset="0.00" stop-color="#67001f"/><stop offset="0.10" stop-color="#b2182b"/><stop offset="0.20" stop-color="#d6604d"/><stop offset="0.30" stop-color="#f4a582"/><stop offset="0.40" stop-color="#fddbc7"/><stop offset="0.50" stop-color="#f7f7f7"/><stop offset="0.60" stop-color="#d1e5f0"/><stop offset="0.70" stop-color="#92c5de"/><stop offset="0.80" stop-color="#4393c3"/><stop offset="0.90" stop-color="#2166ac"/><stop offset="1.00" stop-color="#053061"/></linearGradient>
<rect x="84.5" y="244.8" width="30.70" height="3.6" fill="url(#cb1)"/>
<rect x="85.5" y="249.0" width="0.6" height="0.8" fill="#666"/>
<rect x="89.6" y="249.0" width="0.6" height="0.8" fill="#666"/>
<rect x="93.7" y="249.0" width="0.6" height="0.8" fill="#666"/>
<rect x="97.8" y="249.0" width="0.6" height="0.8" fill="#666"/>
<rect x="101.9" y="249.0" width="0.6" height="0.8" fill="#666"/>
<rect x="106.0" y="249.0" width="0.6" height="0.8" fill="#666"/>
<rect x="110.1" y="249.0" width="0.6" height="0.8" fill="#666"/>
<rect x="114.2" y="249.0" width="0.6" height="0.8" fill="#666"/>
<text x="0" y="0" font-size="6.6" fill="#333" transform="translate(81.70,252.4) rotate(90)">0</text>
<text x="0" y="0" font-size="6.6" fill="#333" transform="translate(96.70,252.4) rotate(90)">0.06</text>
<text x="0" y="0" font-size="6.6" fill="#333" transform="translate(111.30,252.4) rotate(90)">0.12</text>
<linearGradient id="cb2" x1="0" y1="0" x2="1" y2="0"><stop offset="0.00" stop-color="#8e0152"/><stop offset="0.10" stop-color="#c51b7d"/><stop offset="0.20" stop-color="#de77ae"/><stop offset="0.30" stop-color="#f1b6da"/><stop offset="0.40" stop-color="#fde0ef"/><stop offset="0.50" stop-color="#f7f7f7"/><stop offset="0.60" stop-color="#e6f5d0"/><stop offset="0.70" stop-color="#b8e186"/><stop offset="0.80" stop-color="#7fbc41"/><stop offset="0.90" stop-color="#4d9221"/><stop offset="1.00" stop-color="#276419"/></linearGradient>
<rect x="143.4" y="244.8" width="31.50" height="3.6" fill="url(#cb2)"/>
<rect x="144.4" y="249.0" width="0.6" height="0.8" fill="#666"/>
<rect x="148.6" y="249.0" width="0.6" height="0.8" fill="#666"/>
<rect x="152.8" y="249.0" width="0.6" height="0.8" fill="#666"/>
<rect x="157.0" y="249.0" width="0.6" height="0.8" fill="#666"/>
<rect x="161.3" y="249.0" width="0.6" height="0.8" fill="#666"/>
<rect x="165.5" y="249.0" width="0.6" height="0.8" fill="#666"/>
<rect x="169.7" y="249.0" width="0.6" height="0.8" fill="#666"/>
<rect x="173.9" y="249.0" width="0.6" height="0.8" fill="#666"/>
<text x="0" y="0" font-size="6.6" fill="#333" transform="translate(141.20,252.4) rotate(90)">0</text>
<text x="0" y="0" font-size="6.6" fill="#333" transform="translate(149.20,252.4) rotate(90)">0.050</text>
<text x="0" y="0" font-size="6.6" fill="#333" transform="translate(157.70,252.4) rotate(90)">0.100</text>
<text x="0" y="0" font-size="6.6" fill="#333" transform="translate(166.10,252.4) rotate(90)">0.150</text>
<linearGradient id="cb3" x1="0" y1="0" x2="1" y2="0"><stop offset="0.00" stop-color="#8e0152"/><stop offset="0.10" stop-color="#c51b7d"/><stop offset="0.20" stop-color="#de77ae"/><stop offset="0.30" stop-color="#f1b6da"/><stop offset="0.40" stop-color="#fde0ef"/><stop offset="0.50" stop-color="#f7f7f7"/><stop offset="0.60" stop-color="#e6f5d0"/><stop offset="0.70" stop-color="#b8e186"/><stop offset="0.80" stop-color="#7fbc41"/><stop offset="0.90" stop-color="#4d9221"/><stop offset="1.00" stop-color="#276419"/></linearGradient>
<rect x="203.3" y="244.8" width="31.50" height="3.6" fill="url(#cb3)"/>
<rect x="204.3" y="249.0" width="0.6" height="0.8" fill="#666"/>
<rect x="208.5" y="249.0" width="0.6" height="0.8" fill="#666"/>
<rect x="212.7" y="249.0" width="0.6" height="0.8" fill="#666"/>
<rect x="216.9" y="249.0" width="0.6" height="0.8" fill="#666"/>
<rect x="221.2" y="249.0" width="0.6" height="0.8" fill="#666"/>
<rect x="225.4" y="249.0" width="0.6" height="0.8" fill="#666"/>
<rect x="229.6" y="249.0" width="0.6" height="0.8" fill="#666"/>
<rect x="233.8" y="249.0" width="0.6" height="0.8" fill="#666"/>
<text x="0" y="0" font-size="6.6" fill="#333" transform="translate(202.50,252.4) rotate(90)">0</text>
<text x="0" y="0" font-size="6.6" fill="#333" transform="translate(210.40,252.4) rotate(90)">0.050</text>
<text x="0" y="0" font-size="6.6" fill="#333" transform="translate(218.40,252.4) rotate(90)">0.100</text>
<text x="0" y="0" font-size="6.6" fill="#333" transform="translate(225.70,252.4) rotate(90)">0.150</text>
<text x="0" y="0" font-size="6.6" fill="#333" transform="translate(232.10,252.4) rotate(90)">0.200</text>
<linearGradient id="cb4" x1="0" y1="0" x2="1" y2="0"><stop offset="0.00" stop-color="#7f3b08"/><stop offset="0.10" stop-color="#b35806"/><stop offset="0.20" stop-color="#e08214"/><stop offset="0.30" stop-color="#fdb863"/><stop offset="0.40" stop-color="#fee0b6"/><stop offset="0.50" stop-color="#f7f7f7"/><stop offset="0.60" stop-color="#d8daeb"/><stop offset="0.70" stop-color="#b2abd2"/><stop offset="0.80" stop-color="#8073ac"/><stop offset="0.90" stop-color="#542788"/><stop offset="1.00" stop-color="#2d004b"/></linearGradient>
<rect x="263.6" y="244.8" width="31.40" height="3.6" fill="url(#cb4)"/>
<rect x="264.6" y="249.0" width="0.6" height="0.8" fill="#666"/>
<rect x="268.8" y="249.0" width="0.6" height="0.8" fill="#666"/>
<rect x="273.0" y="249.0" width="0.6" height="0.8" fill="#666"/>
<rect x="277.2" y="249.0" width="0.6" height="0.8" fill="#666"/>
<rect x="281.4" y="249.0" width="0.6" height="0.8" fill="#666"/>
<rect x="285.6" y="249.0" width="0.6" height="0.8" fill="#666"/>
<rect x="289.8" y="249.0" width="0.6" height="0.8" fill="#666"/>
<rect x="294.0" y="249.0" width="0.6" height="0.8" fill="#666"/>
<text x="0" y="0" font-size="6.6" fill="#333" transform="translate(262.20,252.4) rotate(90)">0</text>
<text x="0" y="0" font-size="6.6" fill="#333" transform="translate(273.40,252.4) rotate(90)">0.2</text>
<text x="0" y="0" font-size="6.6" fill="#333" transform="translate(286.50,252.4) rotate(90)">0.4</text>
<linearGradient id="cb5" x1="0" y1="0" x2="1" y2="0"><stop offset="0.00" stop-color="#7f3b08"/><stop offset="0.10" stop-color="#b35806"/><stop offset="0.20" stop-color="#e08214"/><stop offset="0.30" stop-color="#fdb863"/><stop offset="0.40" stop-color="#fee0b6"/><stop offset="0.50" stop-color="#f7f7f7"/><stop offset="0.60" stop-color="#d8daeb"/><stop offset="0.70" stop-color="#b2abd2"/><stop offset="0.80" stop-color="#8073ac"/><stop offset="0.90" stop-color="#542788"/><stop offset="1.00" stop-color="#2d004b"/></linearGradient>
<rect x="326.2" y="244.8" width="31.70" height="3.6" fill="url(#cb5)"/>
<rect x="327.2" y="249.0" width="0.6" height="0.8" fill="#666"/>
<rect x="331.4" y="249.0" width="0.6" height="0.8" fill="#666"/>
<rect x="335.7" y="249.0" width="0.6" height="0.8" fill="#666"/>
<rect x="339.9" y="249.0" width="0.6" height="0.8" fill="#666"/>
<rect x="344.2" y="249.0" width="0.6" height="0.8" fill="#666"/>
<rect x="348.4" y="249.0" width="0.6" height="0.8" fill="#666"/>
<rect x="352.7" y="249.0" width="0.6" height="0.8" fill="#666"/>
<rect x="356.9" y="249.0" width="0.6" height="0.8" fill="#666"/>
<text x="0" y="0" font-size="6.6" fill="#333" transform="translate(324.70,252.4) rotate(90)">0</text>
<text x="0" y="0" font-size="6.6" fill="#333" transform="translate(339.00,252.4) rotate(90)">0.20</text>
<text x="0" y="0" font-size="6.6" fill="#333" transform="translate(353.20,252.4) rotate(90)">0.40</text>
<text x="458.20" y="30.00" font-size="8.7" fill="#333" text-anchor="middle" textLength="96.9" lengthAdjust="spacingAndGlyphs" stroke="#333" stroke-width="0.18">H2AK119ub1 CUT&amp;RUN</text>
<clipPath id="scB"><rect x="403.5" y="35.2" width="109.79999999999995" height="73.1"/></clipPath>
<g clip-path="url(#scB)">
<rect x="406.1" y="72.7" width="1.8" height="20.099999999999994" rx="0.9" fill="#17497c"/>
<rect x="413.40000000000003" y="71.5" width="1.8" height="21.299999999999997" rx="0.9" fill="#17497c"/>
<rect x="418.70000000000005" y="68.8" width="1.8" height="24.0" rx="0.9" fill="#17497c"/>
<rect x="422.1" y="68.2" width="1.8" height="24.599999999999994" rx="0.9" fill="#17497c"/>
<rect x="424.70000000000005" y="68.0" width="1.8" height="24.799999999999997" rx="0.9" fill="#17497c"/>
<path d="M427.5,67.5 L431,66.4 L436,65.8 L442,64.6 L448,63.8 L454,62.4 L460,61.4 L466,60.2 L472,58.8 L477,57.6 L481.5,56.6 L483,57.8 L481.5,59.5 L478.5,62 L475.5,66.5 L472,72.5 L469.5,77.5 L467.2,82 L464.8,86.5 L462.5,90.5 L460,93.0 L440,93.3 L427.5,93.2 Z" fill="#17497c"/>
<circle cx="435.7" cy="64.9" r="0.9" fill="#17497c"/>
<circle cx="450.0" cy="62.0" r="0.9" fill="#17497c"/>
<circle cx="433.0" cy="66.1" r="0.9" fill="#17497c"/>
<circle cx="446.1" cy="63.8" r="0.9" fill="#17497c"/>
<circle cx="457.4" cy="61.8" r="0.9" fill="#17497c"/>
<circle cx="443.1" cy="63.6" r="0.9" fill="#17497c"/>
<circle cx="441.3" cy="63.5" r="0.9" fill="#17497c"/>
<circle cx="443.3" cy="63.6" r="0.9" fill="#17497c"/>
<circle cx="454.2" cy="61.5" r="0.9" fill="#17497c"/>
<circle cx="480.2" cy="57.4" r="0.9" fill="#17497c"/>
<circle cx="446.3" cy="62.8" r="0.9" fill="#17497c"/>
<circle cx="454.1" cy="61.2" r="0.9" fill="#17497c"/>
<circle cx="438.2" cy="65.2" r="0.9" fill="#17497c"/>
<circle cx="434.8" cy="66.3" r="0.9" fill="#17497c"/>
<circle cx="432.6" cy="66.7" r="0.9" fill="#17497c"/>
<circle cx="449.1" cy="62.8" r="0.9" fill="#17497c"/>
<circle cx="449.5" cy="62.8" r="0.9" fill="#17497c"/>
<circle cx="449.1" cy="62.1" r="0.9" fill="#17497c"/>
<circle cx="430.5" cy="66.8" r="0.9" fill="#17497c"/>
<circle cx="453.2" cy="62.4" r="0.9" fill="#17497c"/>
<circle cx="431.2" cy="66.2" r="0.9" fill="#17497c"/>
<circle cx="456.8" cy="61.1" r="0.9" fill="#17497c"/>
<circle cx="435.8" cy="65.6" r="0.9" fill="#17497c"/>
<circle cx="464.5" cy="60.4" r="0.9" fill="#17497c"/>
<circle cx="432.4" cy="65.2" r="0.9" fill="#17497c"/>
<circle cx="461.6" cy="60.5" r="0.9" fill="#17497c"/>
<circle cx="437.2" cy="65.3" r="0.9" fill="#17497c"/>
<circle cx="474.1" cy="57.8" r="0.9" fill="#17497c"/>
<circle cx="433.3" cy="66.5" r="0.9" fill="#17497c"/>
<circle cx="428.7" cy="67.3" r="0.9" fill="#17497c"/>
<circle cx="435.4" cy="65.1" r="0.9" fill="#17497c"/>
<circle cx="465.6" cy="60.1" r="0.9" fill="#17497c"/>
<circle cx="437.8" cy="64.2" r="0.9" fill="#17497c"/>
<circle cx="429.1" cy="66.7" r="0.9" fill="#17497c"/>
<circle cx="458.6" cy="61.6" r="0.9" fill="#17497c"/>
<circle cx="454.4" cy="61.8" r="0.9" fill="#17497c"/>
<circle cx="471.7" cy="58.8" r="0.9" fill="#17497c"/>
<circle cx="450.3" cy="62.8" r="0.9" fill="#17497c"/>
<circle cx="449.4" cy="62.0" r="0.9" fill="#17497c"/>
<circle cx="464.0" cy="60.0" r="0.9" fill="#17497c"/>
<rect x="427" y="94.5" width="34" height="1.8" rx="0.9" fill="#17497c"/>
<rect x="428" y="99.39999999999999" width="29.5" height="1.8" rx="0.9" fill="#17497c"/>
<rect x="426" y="104.5" width="29.5" height="1.8" rx="0.9" fill="#17497c"/>
<circle cx="488.6" cy="48.2" r="0.95" fill="#17497c"/>
<circle cx="493.2" cy="45.9" r="0.95" fill="#17497c"/>
<circle cx="490.9" cy="50.5" r="0.95" fill="#17497c"/>
<circle cx="497" cy="49.6" r="0.95" fill="#17497c"/>
<circle cx="503.2" cy="41.5" r="0.95" fill="#17497c"/>
<circle cx="482.2" cy="60.9" r="0.95" fill="#17497c"/>
<circle cx="480" cy="64.6" r="0.95" fill="#17497c"/>
<circle cx="477.6" cy="69.2" r="0.95" fill="#17497c"/>
<circle cx="473.6" cy="74.4" r="0.95" fill="#17497c"/>
<circle cx="470.5" cy="80.5" r="0.95" fill="#17497c"/>
<circle cx="468" cy="86.5" r="0.95" fill="#17497c"/>
<circle cx="465" cy="90.3" r="0.95" fill="#17497c"/>
<line x1="403.5" y1="108.3" x2="513.3" y2="35.2" stroke="#111" stroke-width="0.8"/>
</g>
<rect x="403.5" y="35.2" width="109.8" height="73.1" fill="none" stroke="#111" stroke-width="0.8"/>
<text x="406.00" y="42.50" font-size="6.2" fill="#7cc0e4" textLength="25.3" lengthAdjust="spacingAndGlyphs" stroke="#7cc0e4" stroke-width="0.18">Up n = 0</text>
<text x="406.00" y="48.90" font-size="6.2" fill="#e04a98" textLength="34.0" lengthAdjust="spacingAndGlyphs" stroke="#e04a98" stroke-width="0.18">Down n = 0</text>
<text x="406.00" y="55.20" font-size="6.2" fill="#333" textLength="33.0" lengthAdjust="spacingAndGlyphs" stroke="#333" stroke-width="0.18">FDR &lt; 0.05</text>
<line x1="400.3" y1="105.40" x2="403.5" y2="105.40" stroke="#222" stroke-width="0.6"/>
<text x="0" y="0" font-size="6.3" fill="#333" text-anchor="middle" transform="translate(397.50,105.40) rotate(-90)">0</text>
<line x1="401.7" y1="97.00" x2="403.5" y2="97.00" stroke="#222" stroke-width="0.6"/>
<line x1="400.3" y1="88.60" x2="403.5" y2="88.60" stroke="#222" stroke-width="0.6"/>
<text x="0" y="0" font-size="6.3" fill="#333" text-anchor="middle" transform="translate(397.50,88.60) rotate(-90)">2</text>
<line x1="401.7" y1="80.20" x2="403.5" y2="80.20" stroke="#222" stroke-width="0.6"/>
<line x1="400.3" y1="71.80" x2="403.5" y2="71.80" stroke="#222" stroke-width="0.6"/>
<text x="0" y="0" font-size="6.3" fill="#333" text-anchor="middle" transform="translate(397.50,71.80) rotate(-90)">4</text>
<line x1="401.7" y1="63.40" x2="403.5" y2="63.40" stroke="#222" stroke-width="0.6"/>
<line x1="400.3" y1="55.00" x2="403.5" y2="55.00" stroke="#222" stroke-width="0.6"/>
<text x="0" y="0" font-size="6.3" fill="#333" text-anchor="middle" transform="translate(397.50,55.00) rotate(-90)">6</text>
<line x1="401.7" y1="46.60" x2="403.5" y2="46.60" stroke="#222" stroke-width="0.6"/>
<line x1="400.3" y1="38.20" x2="403.5" y2="38.20" stroke="#222" stroke-width="0.6"/>
<text x="0" y="0" font-size="6.3" fill="#333" text-anchor="middle" transform="translate(397.50,38.20) rotate(-90)">8</text>
<line x1="407.10" y1="108.3" x2="407.10" y2="111.1" stroke="#222" stroke-width="0.6"/>
<line x1="419.85" y1="108.3" x2="419.85" y2="110.3" stroke="#222" stroke-width="0.6"/>
<line x1="432.60" y1="108.3" x2="432.60" y2="111.1" stroke="#222" stroke-width="0.6"/>
<line x1="445.35" y1="108.3" x2="445.35" y2="110.3" stroke="#222" stroke-width="0.6"/>
<line x1="458.10" y1="108.3" x2="458.10" y2="111.1" stroke="#222" stroke-width="0.6"/>
<line x1="470.85" y1="108.3" x2="470.85" y2="110.3" stroke="#222" stroke-width="0.6"/>
<line x1="483.60" y1="108.3" x2="483.60" y2="111.1" stroke="#222" stroke-width="0.6"/>
<line x1="496.35" y1="108.3" x2="496.35" y2="110.3" stroke="#222" stroke-width="0.6"/>
<line x1="509.10" y1="108.3" x2="509.10" y2="111.1" stroke="#222" stroke-width="0.6"/>
<text x="407.10" y="120.30" font-size="6.3" fill="#333" text-anchor="middle" stroke="#333" stroke-width="0.18">0</text>
<text x="432.60" y="120.30" font-size="6.3" fill="#333" text-anchor="middle" stroke="#333" stroke-width="0.18">2</text>
<text x="458.10" y="120.30" font-size="6.3" fill="#333" text-anchor="middle" stroke="#333" stroke-width="0.18">4</text>
<text x="483.60" y="120.30" font-size="6.3" fill="#333" text-anchor="middle" stroke="#333" stroke-width="0.18">6</text>
<text x="509.10" y="120.30" font-size="6.3" fill="#333" text-anchor="middle" stroke="#333" stroke-width="0.18">8</text>
<text x="458.00" y="132.00" font-size="8.6" fill="#444" text-anchor="middle" textLength="45.5" lengthAdjust="spacingAndGlyphs" stroke="#444" stroke-width="0.18">Peaks in sgNeg</text>
<text x="0" y="0" font-size="8.6" fill="#444" text-anchor="middle" textLength="49" lengthAdjust="spacingAndGlyphs" transform="translate(387.60,72.40) rotate(-90)">Peaks in sgBMI1</text>
<text x="458.50" y="173.20" font-size="8.7" fill="#333" text-anchor="middle" textLength="88.0" lengthAdjust="spacingAndGlyphs" stroke="#333" stroke-width="0.18">H3K27me3 CUT&amp;RUN</text>
<clipPath id="scC"><rect x="403.5" y="178.39999999999998" width="109.79999999999995" height="73.10000000000002"/></clipPath>
<g clip-path="url(#scC)">
<rect x="405.6" y="218.0" width="1.8" height="18.0" rx="0.9" fill="#17497c"/>
<rect x="410.1" y="216.5" width="1.8" height="19.5" rx="0.9" fill="#17497c"/>
<rect x="412.70000000000005" y="214.5" width="1.8" height="21.5" rx="0.9" fill="#17497c"/>
<rect x="415.3" y="213.5" width="1.8" height="22.5" rx="0.9" fill="#17497c"/>
<path d="M418,218.6 L421,217.0 L425.4,215.4 L432,212.8 L440.4,209.8 L447,207.4 L453,205.2 L460,202.9 L467,200.6 L474,198.2 L480.8,195.9 L486,194.4 L492.3,192.4 L497,190.4 L500.6,188.6 L502,189.2 L502,192.0 L497,197.2 L492.3,201.9 L487.7,206.5 L483,211 L478.5,216.9 L473.9,222.6 L469.2,228.4 L465.8,233 L462.3,237.6 L457.7,241 L450.8,243.4 L441.6,244.1 L434.6,243.4 L427.7,241 L422,237.6 L418.2,234.2 Z" fill="#17497c"/>
<circle cx="501.4" cy="188.5" r="0.9" fill="#17497c"/>
<circle cx="431.0" cy="213.6" r="0.9" fill="#17497c"/>
<circle cx="464.1" cy="200.6" r="0.9" fill="#17497c"/>
<circle cx="457.7" cy="204.4" r="0.9" fill="#17497c"/>
<circle cx="470.7" cy="198.9" r="0.9" fill="#17497c"/>
<circle cx="418.8" cy="217.8" r="0.9" fill="#17497c"/>
<circle cx="500.9" cy="189.0" r="0.9" fill="#17497c"/>
<circle cx="436.3" cy="210.5" r="0.9" fill="#17497c"/>
<circle cx="457.7" cy="203.2" r="0.9" fill="#17497c"/>
<circle cx="465.8" cy="200.7" r="0.9" fill="#17497c"/>
<circle cx="480.5" cy="196.4" r="0.9" fill="#17497c"/>
<circle cx="448.7" cy="207.3" r="0.9" fill="#17497c"/>
<circle cx="476.4" cy="196.4" r="0.9" fill="#17497c"/>
<circle cx="481.8" cy="194.7" r="0.9" fill="#17497c"/>
<circle cx="464.8" cy="201.1" r="0.9" fill="#17497c"/>
<circle cx="474.2" cy="198.5" r="0.9" fill="#17497c"/>
<circle cx="494.7" cy="189.7" r="0.9" fill="#17497c"/>
<circle cx="420.7" cy="216.0" r="0.9" fill="#17497c"/>
<circle cx="492.2" cy="191.8" r="0.9" fill="#17497c"/>
<circle cx="469.9" cy="199.1" r="0.9" fill="#17497c"/>
<circle cx="444.2" cy="208.6" r="0.9" fill="#17497c"/>
<circle cx="498.4" cy="189.8" r="0.9" fill="#17497c"/>
<circle cx="469.2" cy="199.3" r="0.9" fill="#17497c"/>
<circle cx="497.7" cy="189.9" r="0.9" fill="#17497c"/>
<circle cx="457.5" cy="203.1" r="0.9" fill="#17497c"/>
<circle cx="499.2" cy="188.2" r="0.9" fill="#17497c"/>
<circle cx="498.1" cy="188.7" r="0.9" fill="#17497c"/>
<circle cx="485.4" cy="193.8" r="0.9" fill="#17497c"/>
<circle cx="483.4" cy="194.5" r="0.9" fill="#17497c"/>
<circle cx="440.8" cy="210.1" r="0.9" fill="#17497c"/>
<circle cx="446.0" cy="207.4" r="0.9" fill="#17497c"/>
<circle cx="470.2" cy="199.5" r="0.9" fill="#17497c"/>
<circle cx="485.4" cy="194.0" r="0.9" fill="#17497c"/>
<circle cx="491.0" cy="192.3" r="0.9" fill="#17497c"/>
<circle cx="419.3" cy="216.6" r="0.9" fill="#17497c"/>
<circle cx="487.9" cy="193.1" r="0.9" fill="#17497c"/>
<circle cx="500.0" cy="188.2" r="0.9" fill="#17497c"/>
<circle cx="450.5" cy="206.0" r="0.9" fill="#17497c"/>
<circle cx="482.8" cy="194.3" r="0.9" fill="#17497c"/>
<circle cx="455.9" cy="204.7" r="0.9" fill="#17497c"/>
<circle cx="445.0" cy="207.7" r="0.9" fill="#17497c"/>
<circle cx="431.2" cy="213.9" r="0.9" fill="#17497c"/>
<circle cx="482.1" cy="195.5" r="0.9" fill="#17497c"/>
<circle cx="442.2" cy="208.5" r="0.9" fill="#17497c"/>
<circle cx="492.8" cy="192.1" r="0.9" fill="#17497c"/>
<circle cx="430.3" cy="214.3" r="0.9" fill="#17497c"/>
<circle cx="485.0" cy="194.1" r="0.9" fill="#17497c"/>
<circle cx="483.3" cy="194.6" r="0.9" fill="#17497c"/>
<circle cx="462.9" cy="201.9" r="0.9" fill="#17497c"/>
<circle cx="458.7" cy="203.1" r="0.9" fill="#17497c"/>
<circle cx="484.2" cy="194.7" r="0.9" fill="#17497c"/>
<circle cx="500.5" cy="188.1" r="0.9" fill="#17497c"/>
<circle cx="422.8" cy="215.8" r="0.9" fill="#17497c"/>
<circle cx="477.5" cy="197.5" r="0.9" fill="#17497c"/>
<circle cx="467.3" cy="199.3" r="0.9" fill="#17497c"/>
<circle cx="450.3" cy="206.4" r="0.9" fill="#17497c"/>
<circle cx="463.0" cy="201.5" r="0.9" fill="#17497c"/>
<circle cx="423.3" cy="215.7" r="0.9" fill="#17497c"/>
<circle cx="461.8" cy="201.8" r="0.9" fill="#17497c"/>
<circle cx="488.0" cy="192.6" r="0.9" fill="#17497c"/>
<circle cx="460.5" cy="202.1" r="0.9" fill="#17497c"/>
<circle cx="435.9" cy="210.6" r="0.9" fill="#17497c"/>
<circle cx="485.7" cy="193.3" r="0.9" fill="#17497c"/>
<circle cx="466.5" cy="200.3" r="0.9" fill="#17497c"/>
<circle cx="483.5" cy="195.2" r="0.9" fill="#17497c"/>
<circle cx="438.7" cy="211.2" r="0.9" fill="#17497c"/>
<circle cx="459.4" cy="203.7" r="0.9" fill="#17497c"/>
<circle cx="449.2" cy="206.6" r="0.9" fill="#17497c"/>
<circle cx="424.9" cy="215.0" r="0.9" fill="#17497c"/>
<circle cx="420.6" cy="216.4" r="0.9" fill="#17497c"/>
<circle cx="447.1" cy="243.6" r="0.9" fill="#17497c"/>
<circle cx="431.8" cy="248.2" r="0.9" fill="#17497c"/>
<circle cx="445.5" cy="246.5" r="0.9" fill="#17497c"/>
<circle cx="432.1" cy="248.6" r="0.9" fill="#17497c"/>
<circle cx="434.6" cy="243.6" r="0.9" fill="#17497c"/>
<circle cx="441.0" cy="246.6" r="0.9" fill="#17497c"/>
<circle cx="447.1" cy="243.8" r="0.9" fill="#17497c"/>
<circle cx="456.1" cy="245.0" r="0.9" fill="#17497c"/>
<circle cx="461.8" cy="245.3" r="0.9" fill="#17497c"/>
<circle cx="425.0" cy="243.2" r="0.9" fill="#17497c"/>
<circle cx="438.0" cy="247.2" r="0.9" fill="#17497c"/>
<circle cx="442.5" cy="248.1" r="0.9" fill="#17497c"/>
<circle cx="458.0" cy="248.2" r="0.9" fill="#17497c"/>
<circle cx="448.3" cy="248.5" r="0.9" fill="#17497c"/>
<circle cx="450.8" cy="243.5" r="0.9" fill="#17497c"/>
<circle cx="436.1" cy="244.4" r="0.9" fill="#17497c"/>
<circle cx="427.4" cy="248.5" r="0.9" fill="#17497c"/>
<circle cx="443.2" cy="244.1" r="0.9" fill="#17497c"/>
<circle cx="456.3" cy="245.2" r="0.9" fill="#17497c"/>
<circle cx="432.9" cy="247.3" r="0.9" fill="#17497c"/>
<circle cx="430.5" cy="248.7" r="0.9" fill="#17497c"/>
<circle cx="459.8" cy="243.4" r="0.9" fill="#17497c"/>
<circle cx="445.0" cy="243.2" r="0.9" fill="#17497c"/>
<circle cx="458.9" cy="244.5" r="0.9" fill="#17497c"/>
<circle cx="443.5" cy="247.4" r="0.9" fill="#17497c"/>
<circle cx="452.9" cy="245.9" r="0.9" fill="#17497c"/>
<circle cx="427.8" cy="244.9" r="0.9" fill="#17497c"/>
<circle cx="424.2" cy="244.2" r="0.9" fill="#17497c"/>
<circle cx="452.4" cy="246.5" r="0.9" fill="#17497c"/>
<circle cx="440.8" cy="246.9" r="0.9" fill="#17497c"/>
<circle cx="441.9" cy="245.2" r="0.9" fill="#17497c"/>
<circle cx="438.8" cy="245.2" r="0.9" fill="#17497c"/>
<circle cx="438.4" cy="245.6" r="0.9" fill="#17497c"/>
<circle cx="454.7" cy="248.5" r="0.9" fill="#17497c"/>
<circle cx="457.9" cy="245.8" r="0.9" fill="#17497c"/>
<circle cx="458.7" cy="247.8" r="0.9" fill="#17497c"/>
<circle cx="430.0" cy="248.0" r="0.9" fill="#17497c"/>
<circle cx="427.0" cy="246.7" r="0.9" fill="#17497c"/>
<circle cx="438.2" cy="247.5" r="0.9" fill="#17497c"/>
<circle cx="453.6" cy="248.7" r="0.9" fill="#17497c"/>
<circle cx="459.2" cy="245.3" r="0.9" fill="#17497c"/>
<circle cx="424.8" cy="243.5" r="0.9" fill="#17497c"/>
<circle cx="460.9" cy="244.9" r="0.9" fill="#17497c"/>
<circle cx="432.9" cy="243.7" r="0.9" fill="#17497c"/>
<circle cx="437.9" cy="245.0" r="0.9" fill="#17497c"/>
<circle cx="452.0" cy="244.1" r="0.9" fill="#17497c"/>
<circle cx="441.2" cy="248.3" r="0.9" fill="#17497c"/>
<circle cx="440.7" cy="243.9" r="0.9" fill="#17497c"/>
<circle cx="439.9" cy="244.5" r="0.9" fill="#17497c"/>
<circle cx="425.0" cy="246.4" r="0.9" fill="#17497c"/>
<rect x="427" y="246.4" width="25" height="1.8" rx="0.9" fill="#17497c"/>
<circle cx="473.3" cy="225.7" r="0.9" fill="#17497c"/>
<circle cx="471.9" cy="225.9" r="0.9" fill="#17497c"/>
<circle cx="479.3" cy="217.8" r="0.9" fill="#17497c"/>
<circle cx="467.8" cy="231.6" r="0.9" fill="#17497c"/>
<circle cx="486.0" cy="210.4" r="0.9" fill="#17497c"/>
<circle cx="497.2" cy="196.5" r="0.9" fill="#17497c"/>
<circle cx="493.7" cy="199.7" r="0.9" fill="#17497c"/>
<circle cx="490.7" cy="205.1" r="0.9" fill="#17497c"/>
<circle cx="478.4" cy="218.4" r="0.9" fill="#17497c"/>
<circle cx="471.1" cy="227.2" r="0.9" fill="#17497c"/>
<circle cx="476.8" cy="220.6" r="0.9" fill="#17497c"/>
<circle cx="468.2" cy="231.9" r="0.9" fill="#17497c"/>
<circle cx="499.2" cy="193.3" r="0.9" fill="#17497c"/>
<circle cx="486.3" cy="209.3" r="0.9" fill="#17497c"/>
<circle cx="481.3" cy="215.5" r="0.9" fill="#17497c"/>
<circle cx="478.8" cy="219.0" r="0.9" fill="#17497c"/>
<circle cx="497.9" cy="195.1" r="0.9" fill="#17497c"/>
<circle cx="475.7" cy="221.3" r="0.9" fill="#17497c"/>
<circle cx="477.5" cy="219.5" r="0.9" fill="#17497c"/>
<circle cx="468.9" cy="231.0" r="0.9" fill="#17497c"/>
<circle cx="481.8" cy="214.3" r="0.9" fill="#17497c"/>
<circle cx="468.7" cy="230.8" r="0.9" fill="#17497c"/>
<circle cx="493.5" cy="201.6" r="0.9" fill="#17497c"/>
<circle cx="489.8" cy="205.8" r="0.9" fill="#17497c"/>
<circle cx="468.7" cy="229.9" r="0.9" fill="#17497c"/>
<circle cx="488.8" cy="207.6" r="0.95" fill="#e0198a"/>
<circle cx="486.5" cy="210" r="0.95" fill="#e0198a"/>
<circle cx="484.2" cy="212.3" r="0.95" fill="#e0198a"/>
<circle cx="488.8" cy="213.4" r="0.95" fill="#e0198a"/>
<circle cx="483" cy="215.7" r="0.95" fill="#e0198a"/>
<circle cx="486.5" cy="216.9" r="0.95" fill="#e0198a"/>
<circle cx="479.6" cy="218" r="0.95" fill="#e0198a"/>
<circle cx="482" cy="220.3" r="0.95" fill="#e0198a"/>
<circle cx="478.5" cy="221.5" r="0.95" fill="#e0198a"/>
<circle cx="484.2" cy="221.5" r="0.95" fill="#e0198a"/>
<circle cx="476.2" cy="222.6" r="0.95" fill="#e0198a"/>
<circle cx="480.8" cy="223.8" r="0.95" fill="#e0198a"/>
<circle cx="491.2" cy="205.3" r="0.95" fill="#e0198a"/>
<circle cx="490.3" cy="201.5" r="0.95" fill="#e0198a"/>
<circle cx="493" cy="199.5" r="0.95" fill="#e0198a"/>
<circle cx="485.5" cy="207.5" r="0.95" fill="#e0198a"/>
<circle cx="481.5" cy="212.5" r="0.95" fill="#e0198a"/>
<circle cx="477.5" cy="218.5" r="0.95" fill="#e0198a"/>
<circle cx="474.5" cy="224.5" r="0.95" fill="#e0198a"/>
<circle cx="487.5" cy="219" r="0.95" fill="#e0198a"/>
<circle cx="476.2" cy="240" r="0.95" fill="#e0198a"/>
<circle cx="485.4" cy="247.3" r="0.95" fill="#e0198a"/>
<circle cx="472.5" cy="226.5" r="0.95" fill="#e0198a"/>
<circle cx="489.5" cy="210.5" r="0.95" fill="#e0198a"/>
<circle cx="483" cy="241" r="1" fill="#e0198a"/>
<line x1="403.5" y1="251.5" x2="513.3" y2="178.39999999999998" stroke="#111" stroke-width="0.8"/>
</g>
<circle cx="483" cy="241" r="3.1" fill="none" stroke="#7a1040" stroke-width="0.7"/>
<line x1="485.8" y1="239.5" x2="492.5" y2="234" stroke="#333" stroke-width="0.5"/>
<line x1="485" y1="218.8" x2="489.5" y2="217.5" stroke="#333" stroke-width="0.5"/>
<text x="489.70" y="220.00" font-size="6.5" fill="#333" textLength="21.3" lengthAdjust="spacingAndGlyphs" stroke="#333" stroke-width="0.18">LIN28B</text>
<text x="484.00" y="231.80" font-size="6.5" fill="#333" textLength="25.0" lengthAdjust="spacingAndGlyphs" stroke="#333" stroke-width="0.18">IGF2BP1</text>
<rect x="403.5" y="178.39999999999998" width="109.8" height="73.1" fill="none" stroke="#111" stroke-width="0.8"/>
<text x="406.00" y="187.10" font-size="6.2" fill="#7cc0e4" textLength="25.3" lengthAdjust="spacingAndGlyphs" stroke="#7cc0e4" stroke-width="0.18">Up n = 0</text>
<text x="406.00" y="193.50" font-size="6.2" fill="#e04a98" textLength="37.8" lengthAdjust="spacingAndGlyphs" stroke="#e04a98" stroke-width="0.18">Down n = 28</text>
<text x="406.00" y="199.80" font-size="6.2" fill="#333" textLength="33.0" lengthAdjust="spacingAndGlyphs" stroke="#333" stroke-width="0.18">FDR &lt; 0.05</text>
<line x1="400.3" y1="248.60" x2="403.5" y2="248.60" stroke="#222" stroke-width="0.6"/>
<text x="0" y="0" font-size="6.3" fill="#333" text-anchor="middle" transform="translate(397.50,248.60) rotate(-90)">0</text>
<line x1="401.7" y1="240.20" x2="403.5" y2="240.20" stroke="#222" stroke-width="0.6"/>
<line x1="400.3" y1="231.80" x2="403.5" y2="231.80" stroke="#222" stroke-width="0.6"/>
<text x="0" y="0" font-size="6.3" fill="#333" text-anchor="middle" transform="translate(397.50,231.80) rotate(-90)">2</text>
<line x1="401.7" y1="223.40" x2="403.5" y2="223.40" stroke="#222" stroke-width="0.6"/>
<line x1="400.3" y1="215.00" x2="403.5" y2="215.00" stroke="#222" stroke-width="0.6"/>
<text x="0" y="0" font-size="6.3" fill="#333" text-anchor="middle" transform="translate(397.50,215.00) rotate(-90)">4</text>
<line x1="401.7" y1="206.60" x2="403.5" y2="206.60" stroke="#222" stroke-width="0.6"/>
<line x1="400.3" y1="198.20" x2="403.5" y2="198.20" stroke="#222" stroke-width="0.6"/>
<text x="0" y="0" font-size="6.3" fill="#333" text-anchor="middle" transform="translate(397.50,198.20) rotate(-90)">6</text>
<line x1="401.7" y1="189.80" x2="403.5" y2="189.80" stroke="#222" stroke-width="0.6"/>
<line x1="400.3" y1="181.40" x2="403.5" y2="181.40" stroke="#222" stroke-width="0.6"/>
<text x="0" y="0" font-size="6.3" fill="#333" text-anchor="middle" transform="translate(397.50,181.40) rotate(-90)">8</text>
<line x1="407.10" y1="251.5" x2="407.10" y2="254.3" stroke="#222" stroke-width="0.6"/>
<line x1="419.85" y1="251.5" x2="419.85" y2="253.5" stroke="#222" stroke-width="0.6"/>
<line x1="432.60" y1="251.5" x2="432.60" y2="254.3" stroke="#222" stroke-width="0.6"/>
<line x1="445.35" y1="251.5" x2="445.35" y2="253.5" stroke="#222" stroke-width="0.6"/>
<line x1="458.10" y1="251.5" x2="458.10" y2="254.3" stroke="#222" stroke-width="0.6"/>
<line x1="470.85" y1="251.5" x2="470.85" y2="253.5" stroke="#222" stroke-width="0.6"/>
<line x1="483.60" y1="251.5" x2="483.60" y2="254.3" stroke="#222" stroke-width="0.6"/>
<line x1="496.35" y1="251.5" x2="496.35" y2="253.5" stroke="#222" stroke-width="0.6"/>
<line x1="509.10" y1="251.5" x2="509.10" y2="254.3" stroke="#222" stroke-width="0.6"/>
<text x="407.10" y="263.50" font-size="6.3" fill="#333" text-anchor="middle" stroke="#333" stroke-width="0.18">0</text>
<text x="432.60" y="263.50" font-size="6.3" fill="#333" text-anchor="middle" stroke="#333" stroke-width="0.18">2</text>
<text x="458.10" y="263.50" font-size="6.3" fill="#333" text-anchor="middle" stroke="#333" stroke-width="0.18">4</text>
<text x="483.60" y="263.50" font-size="6.3" fill="#333" text-anchor="middle" stroke="#333" stroke-width="0.18">6</text>
<text x="509.10" y="263.50" font-size="6.3" fill="#333" text-anchor="middle" stroke="#333" stroke-width="0.18">8</text>
<text x="458.00" y="275.20" font-size="8.6" fill="#444" text-anchor="middle" textLength="45.5" lengthAdjust="spacingAndGlyphs" stroke="#444" stroke-width="0.18">Peaks in sgNeg</text>
<text x="0" y="0" font-size="8.6" fill="#444" text-anchor="middle" textLength="49" lengthAdjust="spacingAndGlyphs" transform="translate(387.60,215.60) rotate(-90)">Peaks in sgBMI1</text>
<path d="M67.5,312.8V318.3H97.0V312.8" fill="none" stroke="#222" stroke-width="0.8"/>
<text x="82.00" y="314.40" font-size="6.6" fill="#222" text-anchor="middle" textLength="16.2" lengthAdjust="spacingAndGlyphs" stroke="#222" stroke-width="0.18">20 kb</text>
<line x1="121.0" y1="314.5" x2="136.0" y2="314.5" stroke="#111" stroke-width="0.7"/>
<rect x="121.0" y="309.4" width="1.9" height="10.1" fill="#111"/>
<rect x="125.1" y="309.4" width="2.0" height="10.1" fill="#111"/>
<rect x="129.6" y="309.4" width="2.0" height="10.1" fill="#111"/>
<rect x="133.9" y="309.4" width="2.0" height="10.1" fill="#111"/>
<text x="128.60" y="328.80" font-size="6.4" fill="#333" text-anchor="middle" textLength="10.6" lengthAdjust="spacingAndGlyphs" font-style="italic" stroke="#333" stroke-width="0.18">GIP</text>
<line x1="181.0" y1="313.9" x2="262.0" y2="313.9" stroke="#111" stroke-width="0.7"/>
<rect x="179.8" y="308.7" width="3.6" height="10.5" rx="1.2" fill="#111"/>
<rect x="206.2" y="308.7" width="1.2" height="10.5" fill="#111"/>
<rect x="223.0" y="308.7" width="1.3" height="10.5" fill="#111"/>
<rect x="231.8" y="308.7" width="1.3" height="10.5" fill="#111"/>
<rect x="241.2" y="308.7" width="2.2" height="10.5" fill="#111"/>
<rect x="244.4" y="308.7" width="2.0" height="10.5" fill="#111"/>
<rect x="247.2" y="308.7" width="2.0" height="10.5" fill="#111"/>
<rect x="250.2" y="308.7" width="2.0" height="10.5" fill="#111"/>
<rect x="252.8" y="308.7" width="2.2" height="10.5" fill="#111"/>
<rect x="255.0" y="310.2" width="0.8" height="7.5" fill="#111"/>
<rect x="258.6" y="308.7" width="2.4" height="10.5" fill="#111"/>
<rect x="261.0" y="311.3" width="7.4" height="5.2" fill="#111"/>
<path d="M192.5,312.9L194.20000000000002,313.9L192.5,314.9Z" fill="#111"/>
<path d="M212.5,312.9L214.20000000000002,313.9L212.5,314.9Z" fill="#111"/>
<path d="M215.2,312.9L216.9,313.9L215.2,314.9Z" fill="#111"/>
<text x="223.60" y="328.60" font-size="6.4" fill="#333" text-anchor="middle" textLength="25.0" lengthAdjust="spacingAndGlyphs" font-style="italic" stroke="#333" stroke-width="0.18">IGF2BP1</text>
<line x1="392.0" y1="314.5" x2="503.8" y2="314.5" stroke="#111" stroke-width="0.7"/>
<rect x="391.2" y="310" width="1.9" height="9.5" rx="0.8" fill="#111"/>
<rect x="491.6" y="310" width="1.1" height="9.5" fill="#111"/>
<path d="M400.15,313.2L402.35,314.5L400.15,315.8Z" fill="#111"/>
<path d="M420.9,313.2L423.1,314.5L420.9,315.8Z" fill="#111"/>
<path d="M441.9,313.2L444.1,314.5L441.9,315.8Z" fill="#111"/>
<path d="M462.65,313.2L464.85,314.5L462.65,315.8Z" fill="#111"/>
<path d="M483.9,313.2L486.1,314.5L483.9,315.8Z" fill="#111"/>
<path d="M500.15,313.2L502.35,314.5L500.15,315.8Z" fill="#111"/>
<text x="420.80" y="328.00" font-size="6.4" fill="#333" text-anchor="middle" textLength="21.3" lengthAdjust="spacingAndGlyphs" font-style="italic" stroke="#333" stroke-width="0.18">LIN28B</text>
<text x="82.20" y="340.40" font-size="6.6" fill="#3a9448" text-anchor="middle" textLength="35.2" lengthAdjust="spacingAndGlyphs" stroke="#3a9448" stroke-width="0.18">CpG islands</text>
<rect x="176.0" y="335.6" width="5.7" height="7.1" fill="#1e6a2a"/>
<rect x="204.8" y="335.6" width="1.6" height="7.1" fill="#7fb98a"/>
<rect x="238.2" y="335.6" width="1.0" height="7.1" fill="#8ac095"/>
<rect x="365.2" y="335.2" width="1.8" height="7.3" fill="#1f7a30"/>
<rect x="383.4" y="335.8" width="0.9" height="6.7" fill="#8a9a8f"/>
<text x="53.00" y="370.20" font-size="6.4" fill="#222" text-anchor="end" textLength="36.0" lengthAdjust="spacingAndGlyphs" stroke="#222" stroke-width="0.18">Primary cells</text>
<path d="M60.0,359.2H56.6V376.8H60.0" fill="none" stroke="#222" stroke-width="1.05"/>
<text x="53.00" y="444.20" font-size="6.4" fill="#222" text-anchor="end" textLength="25.0" lengthAdjust="spacingAndGlyphs" stroke="#222" stroke-width="0.18">HUDEP2</text>
<path d="M60.0,380.6H56.6V502.6H60.0" fill="none" stroke="#222" stroke-width="1.05"/>
<text x="98.20" y="368.60" font-size="6.4" fill="#e64848" text-anchor="end" textLength="14.3" lengthAdjust="spacingAndGlyphs" stroke="#e64848" stroke-width="0.18">BMI1</text>
<text x="98.20" y="402.30" font-size="6.4" fill="#e64848" text-anchor="end" textLength="14.3" lengthAdjust="spacingAndGlyphs" stroke="#e64848" stroke-width="0.18">BMI1</text>
<text x="98.80" y="442.80" font-size="6.4" fill="#a84aa0" text-anchor="end" textLength="39.3" lengthAdjust="spacingAndGlyphs" stroke="#a84aa0" stroke-width="0.18">H2AK119ub1</text>
<text x="98.80" y="488.60" font-size="6.4" fill="#4a4a9a" text-anchor="end" textLength="32.5" lengthAdjust="spacingAndGlyphs" stroke="#4a4a9a" stroke-width="0.18">H3K27me3</text>
<line x1="100.6" y1="386" x2="100.6" y2="415.5" stroke="#e8303c" stroke-width="0.7"/>
<line x1="100.6" y1="427.5" x2="100.6" y2="460" stroke="#a04a9a" stroke-width="0.7"/>
<line x1="100.6" y1="471.2" x2="100.6" y2="500.5" stroke="#4a4aa0" stroke-width="0.7"/>
<text x="104.60" y="364.60" font-size="6.4" fill="#222" textLength="9.2" lengthAdjust="spacingAndGlyphs" stroke="#222" stroke-width="0.18">WT</text>
<text x="304.60" y="364.60" font-size="6.4" fill="#222" textLength="9.2" lengthAdjust="spacingAndGlyphs" stroke="#222" stroke-width="0.18">WT</text>
<text x="104.60" y="386.10" font-size="6.4" fill="#222" textLength="19.0" lengthAdjust="spacingAndGlyphs" stroke="#222" stroke-width="0.18">sgNeg</text>
<text x="304.60" y="386.10" font-size="6.4" fill="#222" textLength="19.0" lengthAdjust="spacingAndGlyphs" stroke="#222" stroke-width="0.18">sgNeg</text>
<text x="104.60" y="406.30" font-size="6.4" fill="#222" textLength="20.5" lengthAdjust="spacingAndGlyphs" stroke="#222" stroke-width="0.18">sgBMI1</text>
<text x="304.60" y="406.30" font-size="6.4" fill="#222" textLength="20.5" lengthAdjust="spacingAndGlyphs" stroke="#222" stroke-width="0.18">sgBMI1</text>
<text x="104.60" y="427.50" font-size="6.4" fill="#222" textLength="19.0" lengthAdjust="spacingAndGlyphs" stroke="#222" stroke-width="0.18">sgNeg</text>
<text x="304.60" y="427.50" font-size="6.4" fill="#222" textLength="19.0" lengthAdjust="spacingAndGlyphs" stroke="#222" stroke-width="0.18">sgNeg</text>
<text x="104.60" y="448.10" font-size="6.4" fill="#222" textLength="20.5" lengthAdjust="spacingAndGlyphs" stroke="#222" stroke-width="0.18">sgBMI1</text>
<text x="304.60" y="448.10" font-size="6.4" fill="#222" textLength="20.5" lengthAdjust="spacingAndGlyphs" stroke="#222" stroke-width="0.18">sgBMI1</text>
<text x="104.60" y="468.80" font-size="6.4" fill="#222" textLength="19.0" lengthAdjust="spacingAndGlyphs" stroke="#222" stroke-width="0.18">sgNeg</text>
<text x="304.60" y="468.80" font-size="6.4" fill="#222" textLength="19.0" lengthAdjust="spacingAndGlyphs" stroke="#222" stroke-width="0.18">sgNeg</text>
<text x="104.60" y="489.80" font-size="6.4" fill="#222" textLength="20.5" lengthAdjust="spacingAndGlyphs" stroke="#222" stroke-width="0.18">sgBMI1</text>
<text x="304.60" y="489.80" font-size="6.4" fill="#222" textLength="20.5" lengthAdjust="spacingAndGlyphs" stroke="#222" stroke-width="0.18">sgBMI1</text>
<text x="265.40" y="361.20" font-size="6.9" fill="#444" textLength="26.3" lengthAdjust="spacingAndGlyphs" stroke="#444" stroke-width="0.18">[0 - 1.43]</text>
<text x="487.10" y="361.20" font-size="6.9" fill="#444" textLength="26.0" lengthAdjust="spacingAndGlyphs" stroke="#444" stroke-width="0.18">[0 - 0.60]</text>
<text x="265.40" y="381.20" font-size="6.9" fill="#444" textLength="26.3" lengthAdjust="spacingAndGlyphs" stroke="#444" stroke-width="0.18">[0 - 0.73]</text>
<text x="487.10" y="381.20" font-size="6.9" fill="#444" textLength="26.0" lengthAdjust="spacingAndGlyphs" stroke="#444" stroke-width="0.18">[0 - 0.58]</text>
<text x="265.40" y="403.20" font-size="6.9" fill="#444" textLength="26.3" lengthAdjust="spacingAndGlyphs" stroke="#444" stroke-width="0.18">[0 - 0.73]</text>
<text x="487.10" y="403.20" font-size="6.9" fill="#444" textLength="26.0" lengthAdjust="spacingAndGlyphs" stroke="#444" stroke-width="0.18">[0 - 0.58]</text>
<text x="265.40" y="425.20" font-size="6.9" fill="#444" textLength="26.3" lengthAdjust="spacingAndGlyphs" stroke="#444" stroke-width="0.18">[0 - 0.30]</text>
<text x="487.10" y="425.20" font-size="6.9" fill="#444" textLength="26.0" lengthAdjust="spacingAndGlyphs" stroke="#444" stroke-width="0.18">[0 - 0.35]</text>
<text x="265.40" y="446.00" font-size="6.9" fill="#444" textLength="26.3" lengthAdjust="spacingAndGlyphs" stroke="#444" stroke-width="0.18">[0 - 0.30]</text>
<text x="487.10" y="446.00" font-size="6.9" fill="#444" textLength="26.0" lengthAdjust="spacingAndGlyphs" stroke="#444" stroke-width="0.18">[0 - 0.35]</text>
<text x="265.40" y="468.20" font-size="6.9" fill="#444" textLength="26.3" lengthAdjust="spacingAndGlyphs" stroke="#444" stroke-width="0.18">[0 - 0.78]</text>
<text x="487.10" y="468.20" font-size="6.9" fill="#444" textLength="26.0" lengthAdjust="spacingAndGlyphs" stroke="#444" stroke-width="0.18">[0 - 0.98]</text>
<text x="265.40" y="489.30" font-size="6.9" fill="#444" textLength="26.3" lengthAdjust="spacingAndGlyphs" stroke="#444" stroke-width="0.18">[0 - 0.78]</text>
<text x="487.10" y="489.30" font-size="6.9" fill="#444" textLength="26.0" lengthAdjust="spacingAndGlyphs" stroke="#444" stroke-width="0.18">[0 - 0.98]</text>
<path d="M104.6,373.60V373.60H107.6V372.19H108.1V372.45H108.6V372.38H109.1V372.46H109.6V372.19H110.1V373.60H110.6V372.23H111.1V372.40H111.6V372.46H112.1V372.26H112.6V372.44H113.1V373.60H114.6V372.39H116.1V373.60H117.1V372.28H118.1V373.60H118.6V372.48H119.1V372.62H119.6V373.60H120.1V372.15H120.6V372.00H121.1V371.84H121.6V373.60H122.1V372.22H122.6V372.30H123.1V371.13H124.6V372.40H125.1V372.22H126.1V371.73H126.6V371.91H127.6V373.60H128.1V373.02H129.6V371.80H130.6V372.08H131.1V372.03H131.6V371.88H132.1V373.60H132.6V372.72H133.6V372.56H134.1V372.74H134.6V373.60H135.1V372.90H136.1V372.99H137.1V372.89H137.6V373.60H139.1V372.85H140.6V373.60H142.1V372.94H143.1V373.60H143.6V372.80H144.1V372.66H144.6V372.82H145.6V372.70H146.1V372.34H146.6V372.19H147.1V372.26H148.1V372.56H149.1V372.44H149.6V373.60H151.6V371.96H152.1V372.01H152.6V373.60H153.6V372.41H154.1V372.54H154.6V372.01H155.1V372.08H156.6V373.60H157.1V371.80H157.6V372.01H158.1V371.84H159.1V371.94H159.6V373.60H160.1V372.48H160.6V372.28H161.1V371.03H161.6V373.60H162.6V372.43H163.1V372.66H163.6V372.46H164.1V372.68H164.6V372.50H165.1V373.60H165.6V372.43H166.1V372.33H166.6V373.60H167.6V372.36H168.6V372.09H169.1V373.60H170.1V362.64H170.6V362.52H171.6V364.83H172.1V364.11H172.6V364.33H173.6V364.94H174.1V365.82H174.6V365.65H175.1V365.22H175.6V365.70H176.6V368.57H177.1V368.18H177.6V368.66H178.1V368.88H178.6V368.33H179.1V369.66H179.6V369.76H180.1V369.84H180.6V369.75H181.1V370.02H181.6V369.84H182.1V369.30H183.1V369.01H184.1V367.42H184.6V367.77H185.1V367.11H185.6V367.28H186.1V367.58H186.6V365.09H187.1V364.96H187.6V368.73H188.1V368.87H188.6V368.17H189.1V373.60H191.1V372.89H192.1V370.89H193.1V372.59H193.6V372.51H194.1V373.60H195.6V372.72H196.6V373.60H198.1V372.76H198.6V372.66H199.1V373.60H200.6V372.69H201.1V372.54H201.6V373.60H204.1V372.30H205.1V372.39H206.1V372.25H206.6V373.60H208.1V371.73H208.6V371.85H209.1V372.00H209.6V372.08H210.1V371.88H210.6V373.60H211.6V372.42H212.1V372.61H212.6V373.60H213.1V372.41H213.6V372.61H214.1V373.60H214.6V372.75H215.1V372.84H215.6V372.76H216.1V372.67H217.1V373.60H218.1V372.16H218.6V372.45H219.1V372.22H219.6V372.49H220.1V372.43H220.6V372.72H221.1V372.65H221.6V372.78H222.1V372.62H222.6V373.60H225.1V372.01H226.1V371.90H226.6V372.05H227.1V372.19H227.6V373.60H229.1V372.06H230.1V371.77H230.6V372.10H231.1V373.60H231.6V372.99H232.1V372.93H233.1V373.60H234.6V372.94H235.6V373.60H236.1V372.40H236.6V372.56H238.1V373.60H240.1V372.75H241.1V373.60H241.6V373.05H242.1V373.00H244.1V373.60H244.6V372.18H245.1V372.06H245.6V373.60H246.1V372.48H246.6V372.23H247.1V372.40H247.6V373.60H249.6V372.30H250.1V372.36H250.6V372.54H251.1V373.60H252.6V371.91H254.1V372.04H254.6V372.81H255.1V372.61H258.1V372.69H258.6V373.60H261.1V372.27H261.6V372.21H262.1V373.60H263.1V372.67H263.6V372.76H264.6V372.66H265.1V373.60H266.1V372.48H266.6V372.63H267.1V373.60H268.6V372.55H270.1V372.62H270.6V372.51H271.1V373.60H272.1V370.57H273.1V372.39H273.6V372.29H274.1V373.60H275.1V372.91H275.6V373.00H276.6V372.90H277.1V371.82H277.6V371.94H278.1V373.60H278.6V372.61H279.6V372.51H280.1V372.63H280.6V372.53H281.1V373.60H282.1V372.56H283.1V372.73H284.6V373.60H285.1V372.06H285.6V372.17H286.6V372.04H287.1V373.60H288.1V372.41H288.6V372.56H289.1V372.40H289.6V372.52H290.1V372.67H290.6V372.54H291.1V373.60Z" fill="#ee1c24"/>
<line x1="104.6" y1="373.20" x2="291.2" y2="373.20" stroke="#d8101c" stroke-width="1.0"/>
<path d="M299.8,373.40V369.65H300.8V366.40H302.8V372.45H303.3V372.34H303.8V372.60H304.3V373.40H304.8V372.49H305.8V372.60H306.3V373.40H307.3V372.55H307.8V372.68H308.8V372.55H309.3V369.13H310.3V372.22H310.8V372.37H311.3V373.40H311.8V371.80H312.3V371.45H313.3V368.82H314.3V370.57H314.8V370.97H315.3V373.40H315.8V372.33H316.3V372.20H316.8V372.37H317.3V373.40H317.8V371.26H318.3V371.08H318.8V370.93H319.3V371.12H319.8V373.40H320.8V372.12H321.3V372.31H321.8V372.00H322.3V373.40H323.3V372.67H323.8V369.40H325.8V371.04H326.3V370.62H326.8V368.68H327.3V373.40H327.8V370.88H328.3V371.29H328.8V370.66H329.3V371.25H330.3V373.40H330.8V371.18H331.8V370.97H332.3V371.08H332.8V371.18H333.3V372.50H333.8V372.44H334.8V373.40H336.3V371.48H336.8V371.60H337.3V371.77H338.3V371.42H338.8V372.03H339.8V371.96H340.3V373.40H341.8V370.91H342.8V373.40H343.3V372.66H343.8V372.59H344.8V372.67H345.3V372.60H345.8V373.40H346.3V372.33H346.8V372.14H348.3V372.36H348.8V373.40H349.3V371.08H349.8V371.56H350.3V371.20H350.8V371.46H351.3V371.94H351.8V371.74H352.3V371.68H352.8V371.89H353.3V373.40H353.8V370.70H354.8V371.77H355.3V371.66H355.8V370.57H356.3V371.08H357.3V370.82H357.8V373.40H358.3V371.86H358.8V371.65H359.3V371.86H359.8V372.13H360.8V372.23H361.8V373.40H362.8V370.65H363.3V370.52H363.8V371.01H364.3V370.88H364.8V371.11H365.3V373.40H365.8V371.49H366.3V371.37H366.8V371.50H367.8V372.54H368.8V372.67H369.8V371.12H370.3V370.85H370.8V371.16H371.3V371.25H371.8V371.91H372.3V371.75H372.8V371.93H373.3V371.69H373.8V371.77H374.8V371.86H375.3V371.80H375.8V373.40H376.3V371.07H376.8V371.13H377.3V371.33H377.8V373.40H378.3V371.94H378.8V372.13H379.3V371.85H380.3V373.40H380.8V371.67H381.3V371.23H381.8V371.40H382.3V371.51H382.8V359.40H384.8V371.16H385.8V369.28H387.3V369.52H388.3V370.74H388.8V370.88H389.8V370.71H390.3V371.64H390.8V370.58H392.3V371.08H393.8V368.74H394.3V371.29H395.3V371.12H396.3V368.90H397.8V371.24H398.3V371.14H399.3V371.27H399.8V373.40H400.3V370.85H400.8V371.18H401.3V373.40H401.8V371.52H402.3V371.39H403.3V372.26H404.3V372.17H404.8V373.40H405.3V370.89H405.8V371.35H406.3V370.85H407.3V370.94H407.8V373.40H408.3V371.12H408.8V370.85H409.3V373.40H411.3V371.28H411.8V371.21H412.8V371.04H413.3V371.15H413.8V370.77H414.3V370.67H414.8V370.59H415.3V368.75H416.8V371.66H417.3V371.76H418.3V373.40H418.8V372.17H419.3V372.26H419.8V372.15H420.3V372.32H420.8V372.09H421.3V373.40H422.3V371.67H422.8V371.33H423.3V371.59H423.8V371.65H424.8V373.40H425.3V370.85H425.8V370.68H426.3V370.61H426.8V371.84H427.3V371.94H427.8V371.71H428.8V371.23H429.3V371.12H429.8V370.86H430.3V371.31H430.8V372.20H431.3V372.30H431.8V372.39H432.3V372.24H432.8V371.70H433.3V371.82H433.8V371.67H434.3V373.40H434.8V372.26H435.3V372.05H435.8V372.21H436.3V373.40H436.8V372.62H437.3V372.53H438.3V371.69H438.8V371.50H439.3V371.61H439.8V371.25H440.3V373.40H440.8V372.00H441.8V372.14H442.3V371.98H442.8V371.89H443.3V373.40H443.8V370.70H444.3V371.07H444.8V370.81H445.3V370.88H445.8V373.40H446.8V369.33H447.8V371.29H448.3V371.09H448.8V373.40H449.8V368.81H451.3V370.65H451.8V373.40H452.3V372.76H453.3V373.40H453.8V371.23H454.3V371.05H454.8V371.23H455.8V373.40H456.3V371.96H456.8V372.17H457.3V371.96H457.8V372.04H458.3V372.44H458.8V372.49H459.3V372.00H459.8V371.91H460.3V371.99H460.8V372.23H461.3V371.90H461.8V373.40H462.3V371.61H462.8V371.55H463.8V373.40H464.8V371.19H465.3V371.51H465.8V368.53H466.3V373.40H467.3V370.75H467.8V370.90H468.3V370.99H469.3V371.87H469.8V371.71H470.3V371.86H470.8V371.92H471.3V371.84H471.8V371.71H472.3V371.79H472.8V372.42H473.3V372.27H473.8V372.34H474.3V372.46H474.8V373.40H475.8V371.01H476.3V371.49H477.3V373.40H478.3V372.49H478.8V368.52H480.3V373.40H480.8V371.24H481.3V371.18H482.3V371.35H482.8V370.99H484.3V373.40H484.8V372.41H485.3V372.23H486.3V372.44H486.8V373.40H487.3V371.77H487.8V371.42H488.3V371.54H488.8V373.40H489.3V371.77H489.8V371.45H490.8V373.40H491.3V371.15H491.8V371.09H492.3V371.26H492.8V371.52H493.3V372.35H493.8V372.50H494.3V372.44H494.8V373.40H496.3V372.77H497.3V372.64H497.8V373.40H498.8V371.53H499.3V371.31H499.8V373.40H500.3V371.51H500.8V371.80H501.3V371.63H501.8V372.02H502.3V372.23H502.8V373.40H503.3V371.85H503.8V371.91H504.3V371.98H504.8V372.13H505.3V371.99H505.8V373.40H506.3V372.07H506.8V373.40Z" fill="#ee1c24"/>
<line x1="299.8" y1="373.00" x2="507.0" y2="373.00" stroke="#d8101c" stroke-width="1.0"/>
<path d="M104.6,396.90V396.90H105.1V395.95H105.6V395.79H106.1V395.96H107.1V395.81H107.6V396.90H108.6V395.63H109.1V395.77H109.6V394.10H112.1V396.02H112.6V396.09H113.6V396.90H114.1V394.91H115.1V394.60H115.6V394.48H116.1V396.90H116.6V394.97H117.1V394.52H117.6V396.90H118.6V392.43H119.6V395.97H120.6V396.90H121.6V396.18H122.1V393.08H123.6V395.23H124.1V395.04H124.6V395.18H125.1V396.90H126.6V396.05H127.1V396.00H127.6V396.06H128.1V396.90H128.6V396.10H129.1V395.96H129.6V396.09H130.6V395.47H131.6V395.34H132.1V392.65H133.1V396.90H133.6V395.27H134.1V395.02H134.6V395.31H135.6V396.90H136.1V395.73H136.6V395.86H137.1V395.81H138.1V395.75H138.6V394.78H139.1V395.12H139.6V394.99H140.1V395.07H140.6V396.90H141.1V395.47H141.6V395.24H142.1V395.07H142.6V393.79H143.1V392.79H143.6V393.79H144.1V395.11H144.6V395.43H146.1V395.21H146.6V395.44H147.1V396.90H148.1V395.10H148.6V394.74H149.1V394.96H150.6V396.08H151.1V395.99H152.1V395.93H152.6V396.00H153.1V396.90H157.6V395.86H158.1V395.65H158.6V395.94H159.1V395.78H159.6V395.83H160.1V396.90H161.6V396.00H162.6V396.15H163.1V396.90H164.1V394.95H164.6V395.08H165.6V396.90H168.6V393.32H170.1V392.83H170.6V388.40H172.1V390.43H173.1V388.16H174.1V390.03H175.1V393.10H176.1V389.88H177.1V390.79H177.6V388.10H179.1V389.62H180.1V390.25H181.6V393.35H182.6V389.43H183.1V388.13H183.6V393.22H184.6V391.11H185.1V388.40H187.1V389.23H188.1V393.28H189.1V396.90H191.1V395.14H192.1V396.90H192.6V395.08H193.6V394.95H194.1V394.69H194.6V396.90H196.1V395.56H197.6V395.86H198.6V395.91H199.1V396.90H200.6V394.88H201.1V394.82H201.6V394.98H202.1V395.82H202.6V395.92H203.1V396.90H204.6V394.86H205.1V395.00H205.6V396.90H206.6V395.72H207.1V395.79H208.1V395.67H208.6V395.78H209.1V396.90H211.6V395.07H212.1V394.98H213.1V394.75H214.1V396.90H214.6V395.84H215.1V395.90H215.6V395.78H216.1V395.96H216.6V396.90H217.1V395.74H217.6V395.85H218.1V395.76H218.6V395.59H219.1V395.78H219.6V396.90H220.1V395.17H221.1V395.37H221.6V395.28H222.1V395.22H222.6V396.90H224.1V395.17H224.6V394.06H225.1V395.26H225.6V395.46H226.1V395.28H226.6V395.41H227.1V395.55H227.6V395.36H228.1V395.24H228.6V396.90H229.1V395.36H230.1V395.18H231.6V396.90H232.1V396.20H232.6V396.12H233.1V396.90H234.1V396.02H236.1V396.90H236.6V395.09H237.1V395.19H237.6V395.38H238.1V395.47H238.6V396.90H239.1V395.85H239.6V395.79H240.1V395.99H240.6V396.90H241.6V395.21H242.1V394.93H242.6V395.27H243.1V395.14H243.6V396.90H244.1V395.05H244.6V395.40H245.6V395.22H246.1V396.90H248.1V394.66H248.6V394.97H249.1V394.85H249.6V396.90H250.1V395.00H250.6V394.92H251.1V395.00H251.6V394.71H252.1V396.90H254.6V396.24H255.1V396.12H255.6V396.19H256.1V396.14H256.6V396.90H257.1V395.57H258.1V395.29H258.6V396.05H259.1V395.99H259.6V396.06H260.1V395.80H260.6V396.90H261.1V395.71H261.6V395.80H262.1V395.50H262.6V395.58H263.1V396.90H264.1V395.01H264.6V395.06H265.1V394.96H265.6V394.89H266.1V394.65H266.6V395.94H267.1V395.69H267.6V395.75H268.1V395.86H268.6V395.01H269.1V395.16H270.6V394.95H271.1V395.47H272.1V395.38H272.6V396.90H273.1V395.57H273.6V395.25H274.1V396.90H275.6V395.28H276.1V395.51H276.6V395.21H277.1V395.50H277.6V395.19H278.1V396.90H278.6V395.05H279.1V394.97H280.1V395.15H280.6V395.44H281.1V396.90H281.6V395.58H282.1V395.71H282.6V395.87H283.1V395.69H283.6V396.90H284.1V393.49H285.6V396.90H290.1V395.06H290.6V395.48H291.1V396.90Z" fill="#ee1c24"/>
<line x1="104.6" y1="396.50" x2="291.2" y2="396.50" stroke="#d8101c" stroke-width="1.0"/>
<path d="M299.8,396.60V395.89H300.3V395.98H300.8V395.82H301.3V395.98H302.3V395.21H303.3V395.02H303.8V395.80H304.8V395.92H305.8V395.83H306.3V396.60H306.8V394.15H307.3V390.67H308.3V394.14H308.8V393.63H309.3V394.30H309.8V394.15H310.3V393.73H310.8V396.60H311.3V395.78H312.3V395.84H312.8V391.91H313.8V394.49H314.3V394.69H314.8V394.51H315.3V394.63H315.8V394.87H316.3V396.60H316.8V395.56H317.3V395.33H317.8V395.58H318.3V395.37H318.8V396.60H319.3V395.81H319.8V395.61H320.3V395.75H320.8V395.13H321.8V395.31H322.3V395.26H323.3V396.60H323.8V394.27H324.3V394.09H325.3V393.92H325.8V395.38H326.3V395.60H326.8V395.54H327.8V396.60H328.3V394.08H328.8V394.41H329.3V394.24H330.3V394.14H330.8V395.81H331.3V395.69H331.8V395.79H332.8V395.86H333.3V394.81H333.8V394.72H334.3V393.44H335.3V394.50H335.8V394.14H336.3V394.56H336.8V394.05H337.3V394.46H337.8V394.52H338.3V394.91H339.3V394.63H339.8V394.84H340.3V396.60H340.8V395.73H342.3V391.80H343.3V396.60H343.8V393.92H344.3V394.12H344.8V394.92H345.3V395.25H345.8V395.08H346.3V396.60H347.3V394.23H347.8V394.30H348.3V393.91H348.8V394.26H349.3V396.60H350.3V394.64H350.8V394.09H351.3V394.35H351.8V394.66H352.3V394.38H352.8V396.60H353.3V394.22H353.8V393.98H354.3V394.11H354.8V393.81H355.3V394.23H355.8V396.60H356.3V394.99H356.8V393.35H357.3V390.92H358.8V396.60H359.3V394.71H359.8V394.35H360.3V394.73H360.8V394.90H361.8V396.60H363.8V393.98H364.3V394.41H364.8V393.69H365.3V393.88H365.8V393.67H366.8V396.60H367.8V394.58H368.3V394.50H368.8V394.05H369.3V394.55H369.8V396.60H372.3V393.73H372.8V393.87H373.3V394.70H373.8V395.05H374.3V396.60H375.3V391.42H376.8V387.99H378.3V384.88H379.3V385.60H380.8V386.66H382.3V390.11H383.3V382.10H384.8V393.37H385.8V392.08H386.8V387.29H388.3V380.30H390.3V392.09H390.8V392.89H391.3V391.89H391.8V383.10H393.3V386.54H394.3V396.60H395.8V395.34H396.3V395.10H397.8V395.23H398.3V396.60H398.8V394.94H399.3V395.10H399.8V394.87H400.3V394.98H400.8V396.60H401.3V393.69H401.8V393.82H402.8V393.66H403.3V396.60H404.3V395.52H404.8V395.26H405.3V395.37H405.8V396.60H406.3V394.84H406.8V394.37H407.3V394.62H407.8V394.76H408.3V394.36H408.8V396.60H410.3V395.51H410.8V395.41H411.3V396.60H412.8V393.72H413.3V394.21H413.8V393.80H414.3V394.88H414.8V394.79H415.3V396.60H415.8V394.42H416.3V393.93H416.8V392.77H417.8V394.72H418.3V394.41H418.8V394.17H419.3V394.32H419.8V394.67H420.3V396.60H420.8V395.02H421.3V388.30H422.8V395.26H423.3V395.34H423.8V394.93H424.3V395.02H424.8V394.93H425.3V396.60H425.8V393.84H426.3V394.12H427.3V396.60H427.8V395.55H428.8V396.60H429.3V394.94H429.8V395.21H430.3V394.99H430.8V395.11H431.3V395.29H431.8V395.52H432.3V395.45H432.8V394.85H433.3V395.04H433.8V394.99H434.3V396.60H434.8V394.32H435.8V393.98H436.3V394.47H436.8V396.60H438.3V395.28H438.8V395.49H440.8V396.60H441.3V395.42H441.8V395.29H442.3V394.66H442.8V394.54H443.3V394.67H443.8V394.92H444.8V396.60H445.8V394.91H446.3V394.65H446.8V394.13H447.3V393.70H447.8V394.29H448.3V393.88H448.8V393.73H449.3V396.60H449.8V395.65H450.8V395.73H451.3V395.82H451.8V395.69H452.3V394.57H452.8V394.49H453.3V395.60H453.8V395.73H454.3V395.49H454.8V395.55H455.8V396.60H456.8V393.95H457.3V394.36H457.8V394.27H458.3V394.47H458.8V393.97H459.3V396.60H459.8V395.32H460.3V395.16H461.3V396.60H462.3V393.52H462.8V393.77H463.3V391.90H464.3V391.34H464.8V396.60H465.3V391.43H465.8V396.60H466.3V393.93H466.8V394.48H467.3V394.15H467.8V394.01H468.3V394.11H468.8V394.76H469.8V394.92H470.3V394.86H470.8V394.56H471.3V394.69H472.3V394.84H473.3V394.95H473.8V395.10H474.3V394.85H474.8V395.17H475.8V395.26H476.3V395.72H476.8V395.55H477.3V395.65H477.8V395.54H478.3V395.46H478.8V396.60H479.8V394.46H480.3V392.03H480.8V394.19H481.3V394.05H481.8V396.60H482.3V395.31H482.8V395.43H483.3V396.60H483.8V395.53H484.3V395.30H484.8V395.52H485.3V396.60H485.8V394.41H486.3V393.95H486.8V393.88H487.3V394.28H487.8V396.60H488.3V395.66H488.8V395.75H489.3V395.56H489.8V395.72H490.3V396.60H490.8V395.52H491.8V396.60H492.3V394.44H493.3V395.40H493.8V395.08H494.3V395.43H494.8V395.28H495.3V395.08H495.8V396.60H496.3V391.89H497.3V395.46H498.3V396.60H498.8V395.29H499.3V395.21H499.8V393.42H500.3V394.58H500.8V394.45H501.3V394.73H502.3V396.60H502.8V395.30H503.3V395.15H504.3V396.60H505.3V395.70H505.8V395.58H506.3V396.60H506.8V394.56H508.8V394.86H509.3V396.60Z" fill="#ee1c24"/>
<line x1="299.8" y1="396.20" x2="509.5" y2="396.20" stroke="#d8101c" stroke-width="1.0"/>
<path d="M104.6,417.70V416.65H105.6V417.70H106.1V415.88H106.6V416.03H107.1V416.85H108.1V416.92H109.1V416.81H110.1V416.90H110.6V417.70H111.6V416.25H112.1V416.13H112.6V417.70H113.6V415.39H114.1V416.28H114.6V417.70H115.1V416.43H115.6V416.31H116.1V416.16H116.6V417.70H117.1V415.90H117.6V416.10H118.1V417.70H119.1V416.58H119.6V414.65H120.1V416.43H120.6V417.70H121.1V416.19H121.6V416.28H122.1V415.92H122.6V417.70H124.1V416.25H124.6V416.44H125.6V416.38H126.1V416.32H126.6V417.70H127.6V416.01H128.1V416.17H128.6V415.88H129.6V415.70H130.1V415.64H130.6V415.58H131.1V414.92H131.6V415.94H132.1V416.05H132.6V417.70H134.1V416.05H134.6V416.44H135.1V415.36H136.6V416.70H137.1V416.47H137.6V415.48H139.1V416.45H139.6V417.70H140.1V416.68H140.6V416.83H141.1V416.72H142.1V416.67H142.6V417.70H143.6V416.74H144.1V416.48H145.1V416.57H145.6V417.70H146.6V416.69H147.1V416.78H148.1V416.53H148.6V416.70H149.1V416.50H149.6V416.60H150.1V416.44H150.6V416.72H151.1V417.70H151.6V416.98H152.1V417.09H152.6V417.02H153.1V417.13H153.6V417.70H154.1V415.63H154.6V415.83H155.1V416.07H155.6V416.23H156.1V416.39H157.1V416.58H157.6V416.84H158.1V416.63H158.6V416.82H159.6V417.70H160.1V416.61H160.6V416.68H161.1V416.50H161.6V417.70H162.1V416.22H162.6V416.05H163.6V415.80H164.1V415.95H164.6V417.07H165.1V417.15H166.1V416.44H166.6V416.58H167.6V416.69H168.1V417.70H168.6V416.88H169.1V417.02H169.6V416.96H171.1V416.30H171.6V415.06H173.1V415.91H173.6V416.43H174.1V415.38H175.1V416.78H175.6V416.46H176.6V416.52H177.1V414.61H177.6V417.08H178.1V416.02H178.6V415.58H179.1V415.76H179.6V416.02H181.1V415.49H182.1V415.32H182.6V415.87H183.1V415.77H183.6V416.00H184.1V415.80H185.1V417.07H185.6V416.73H186.1V415.47H187.1V415.52H187.6V415.67H189.6V417.70H191.6V415.96H192.1V416.02H192.6V415.85H193.1V415.95H193.6V417.70H194.6V416.78H195.1V416.86H195.6V416.80H196.1V417.70H196.6V416.03H197.1V415.75H198.6V415.81H199.1V417.70H200.6V415.79H201.1V416.24H201.6V416.17H202.6V415.88H203.1V417.70H204.1V416.16H205.1V416.48H205.6V416.19H206.6V417.70H207.6V415.91H208.1V416.01H208.6V416.22H209.1V416.30H209.6V416.74H210.1V416.64H211.1V416.69H211.6V417.70H212.1V416.99H213.1V417.70H213.6V416.31H214.1V416.26H214.6V417.09H215.6V417.03H216.6V417.12H217.1V417.70H218.1V417.07H218.6V416.92H219.1V417.70H219.6V415.76H220.1V415.61H220.6V416.78H222.1V416.92H223.1V417.03H223.6V416.93H224.1V417.70H225.1V417.00H225.6V416.94H226.1V417.02H226.6V417.70H227.1V416.54H227.6V416.47H228.1V417.70H228.6V416.05H229.1V416.30H230.1V416.35H230.6V416.13H231.1V417.70H231.6V416.85H232.1V416.75H232.6V417.70H233.6V416.42H234.1V416.36H234.6V416.24H235.1V417.70H235.6V416.75H236.6V417.70H237.1V415.88H238.1V416.14H238.6V417.07H239.6V417.14H240.1V416.03H240.6V415.95H241.1V417.70H241.6V417.06H242.6V417.15H243.1V417.70H243.6V416.60H244.1V416.79H245.1V416.73H245.6V416.59H246.1V417.70H247.6V416.68H248.1V416.63H248.6V417.70H249.6V416.47H250.1V416.40H250.6V417.70H251.6V416.60H252.1V416.67H252.6V416.79H253.1V416.55H253.6V416.89H254.6V416.97H255.1V417.70H256.6V416.81H258.6V416.93H259.1V416.15H259.6V415.89H260.1V416.22H260.6V416.00H261.1V417.70H261.6V416.59H262.1V416.71H262.6V416.63H263.1V417.70H263.6V416.11H264.1V416.19H265.1V416.00H266.1V417.70H266.6V416.92H267.1V416.70H268.6V417.70H270.6V416.18H271.1V415.96H271.6V416.10H272.1V415.99H272.6V416.29H273.1V417.70H273.6V416.13H274.6V416.30H275.1V415.97H275.6V416.25H276.1V417.70H277.1V416.96H278.1V417.08H279.1V416.93H279.6V416.75H280.6V416.49H281.1V416.64H281.6V417.70H282.6V416.41H283.1V416.69H283.6V416.64H284.1V417.70H285.1V416.29H285.6V416.50H286.1V416.59H286.6V416.27H287.1V416.87H287.6V416.82H288.1V417.70H289.1V415.97H289.6V415.76H290.6V416.19H291.1V417.70Z" fill="#ee1c24"/>
<line x1="104.6" y1="417.30" x2="291.2" y2="417.30" stroke="#d8101c" stroke-width="1.0"/>
<path d="M299.8,417.30V413.30H301.3V415.93H301.8V417.30H302.3V415.65H303.3V417.30H303.8V416.20H304.8V416.14H305.3V416.05H305.8V415.98H306.3V417.30H306.8V415.84H307.3V415.54H307.8V415.83H308.3V415.56H309.3V417.30H309.8V416.18H310.8V416.10H311.3V416.36H311.8V416.27H312.8V416.20H313.3V417.30H313.8V415.23H314.3V415.44H314.8V415.24H315.3V415.02H315.8V415.55H316.3V417.30H316.8V414.56H317.3V414.92H317.8V414.61H318.3V414.28H319.8V415.51H320.3V417.30H320.8V415.08H321.3V414.71H321.8V414.96H322.3V415.24H322.8V414.79H323.3V416.61H323.8V416.67H324.8V416.52H325.3V416.65H325.8V417.30H326.8V415.57H327.3V415.74H328.3V415.82H328.8V417.30H329.3V414.69H329.8V415.04H330.3V414.75H330.8V414.67H331.3V414.96H331.8V417.30H332.3V415.21H332.8V415.48H333.3V415.62H333.8V415.37H334.8V415.19H335.3V415.36H335.8V415.16H336.3V415.49H336.8V415.31H337.8V416.37H340.3V417.30H340.8V416.14H341.3V416.27H341.8V417.30H343.8V416.22H344.3V416.34H344.8V416.19H345.8V417.30H346.8V416.13H347.3V416.23H347.8V412.06H349.3V417.30H349.8V415.51H350.3V414.96H350.8V417.30H351.3V415.09H351.8V415.37H352.3V417.30H354.3V415.40H354.8V415.47H355.3V415.63H355.8V417.30H357.3V415.91H357.8V415.56H358.3V417.30H358.8V416.24H359.3V416.02H359.8V415.71H360.3V415.83H361.3V417.30H362.8V415.05H363.3V414.83H364.3V415.11H364.8V417.30H365.3V415.49H365.8V415.27H366.3V417.30H366.8V415.07H367.3V414.92H367.8V416.34H368.3V416.23H369.3V415.93H369.8V416.03H370.3V415.97H370.8V415.78H371.3V416.04H371.8V417.30H372.3V415.92H372.8V416.06H373.8V416.15H374.3V415.95H374.8V417.30H375.3V415.57H375.8V415.90H376.3V415.61H376.8V415.52H377.3V417.30H378.3V415.51H378.8V415.64H379.3V415.81H379.8V415.74H380.8V416.34H381.3V416.44H381.8V416.38H382.3V416.32H382.8V416.38H383.3V409.50H384.8V415.51H385.8V415.04H386.3V415.47H386.8V414.76H387.3V410.00H388.8V414.77H391.8V417.30H392.3V415.30H392.8V414.79H393.3V414.72H394.3V416.21H394.8V416.32H395.3V416.41H395.8V416.23H396.3V412.99H396.8V417.30H397.3V416.41H398.3V416.61H398.8V416.43H399.3V416.55H399.8V414.63H400.3V414.54H400.8V414.00H401.8V414.75H402.3V413.41H403.3V415.85H403.8V415.99H404.3V415.90H404.8V417.30H405.3V415.49H405.8V415.72H406.3V417.30H407.8V414.75H408.3V415.19H408.8V414.84H409.3V414.96H409.8V417.30H412.8V416.05H413.3V416.14H413.8V416.03H414.8V413.74H416.3V416.42H416.8V417.30H417.8V416.19H418.3V416.13H418.8V416.06H419.3V415.91H419.8V417.30H420.3V415.84H421.3V415.00H421.8V415.23H422.3V415.49H423.3V416.32H424.3V417.30H424.8V416.54H425.3V416.43H426.8V416.37H427.3V413.17H428.8V415.53H429.3V415.45H429.8V416.09H430.3V415.92H430.8V412.64H431.8V415.31H432.3V415.62H432.8V415.21H433.3V415.34H433.8V417.30H434.3V415.16H434.8V415.45H435.3V415.19H435.8V415.48H436.3V417.30H436.8V414.87H437.3V414.59H437.8V414.49H438.3V415.02H438.8V414.69H439.3V417.30H439.8V415.47H440.8V416.26H441.8V417.30H442.3V415.81H442.8V415.66H443.8V415.75H444.3V417.30H444.8V415.05H446.3V416.28H446.8V416.52H447.3V414.00H447.8V416.31H448.3V416.51H448.8V416.30H449.8V417.30H450.8V415.85H451.3V415.96H451.8V415.53H452.3V415.19H452.8V417.30H453.3V414.95H453.8V414.61H454.3V414.85H454.8V414.44H455.3V414.70H455.8V417.30H456.8V415.37H457.3V415.02H457.8V415.15H458.3V413.30H459.3V417.30H460.3V411.88H461.8V417.30H462.8V416.27H463.8V416.11H464.8V416.00H465.3V417.30H466.3V416.36H466.8V416.29H467.3V416.23H467.8V416.40H468.8V417.30H469.3V416.45H469.8V416.57H470.3V416.40H470.8V417.30H473.3V416.17H473.8V415.90H474.3V416.05H474.8V415.21H475.3V415.45H475.8V415.25H476.3V415.50H476.8V417.30H477.3V416.25H477.8V416.06H478.3V416.31H478.8V416.23H479.3V415.89H479.8V415.67H480.3V416.22H480.8V416.13H482.3V417.30H482.8V415.29H483.3V415.10H484.3V412.96H484.8V417.30H485.8V415.32H486.3V415.63H486.8V415.83H487.3V415.46H487.8V415.82H488.8V417.30H490.3V415.70H490.8V415.97H491.3V417.30H492.3V415.40H492.8V415.34H494.3V415.27H494.8V415.09H495.3V415.17H495.8V415.23H496.3V415.43H496.8V416.58H497.3V416.45H497.8V414.34H498.3V415.03H498.8V414.89H499.3V415.40H500.3V415.47H500.8V416.08H501.8V416.14H502.3V416.31H502.8V416.06H503.3V415.98H504.3V416.05H504.8V415.94H505.8V415.78H506.3V415.23H506.8V415.45H507.3V417.30H508.3V417.30Z" fill="#ee1c24"/>
<line x1="299.8" y1="416.90" x2="508.4" y2="416.90" stroke="#d8101c" stroke-width="1.0"/>
<path d="M106.0,439.00V429.40H108.5V433.73H109.0V436.92H109.5V435.33H110.5V436.10H111.0V435.92H111.5V436.28H112.0V435.46H112.5V439.00H113.0V436.87H114.0V435.89H115.5V439.00H116.0V435.78H116.5V436.16H117.0V436.08H117.5V436.01H118.0V436.48H118.5V436.06H119.0V436.12H119.5V439.00H120.5V436.51H121.0V436.42H121.5V435.99H122.0V436.40H122.5V435.07H123.0V435.24H123.5V434.00H125.0V436.04H125.5V435.36H126.0V435.53H127.0V439.00H127.5V435.21H128.0V435.31H128.5V435.03H129.0V435.90H129.5V435.96H130.0V439.00H130.5V435.34H131.5V435.82H132.0V435.53H132.5V439.00H133.0V436.01H133.5V435.62H134.0V435.85H134.5V435.74H135.0V435.69H135.5V439.00H136.0V432.10H137.5V437.16H138.0V437.34H138.5V437.24H139.0V439.00H139.5V435.82H140.0V436.19H140.5V434.00H142.0V436.83H144.0V439.00H144.5V436.52H145.0V437.10H145.5V439.00H146.0V436.48H146.5V436.75H147.0V436.28H147.5V436.37H148.0V436.55H148.5V437.01H149.0V436.63H149.5V436.90H150.0V439.00H151.0V437.01H151.5V432.66H153.0V437.03H154.0V436.73H154.5V436.93H155.0V435.60H155.5V435.80H156.0V435.13H156.5V435.50H157.0V439.00H157.5V436.62H158.0V436.09H158.5V436.04H159.0V439.00H159.5V436.62H160.0V436.73H160.5V436.48H161.0V436.72H161.5V436.60H162.0V436.52H162.5V436.31H163.0V436.56H163.5V435.65H164.0V435.78H164.5V435.92H165.0V435.42H165.5V439.00H166.0V436.13H166.5V435.90H167.0V435.55H167.5V436.11H168.0V435.89H169.5V435.96H170.0V436.34H170.5V436.20H171.0V435.72H171.5V437.02H172.5V439.00H173.0V435.65H173.5V435.72H174.0V435.95H174.5V436.05H175.0V439.00H175.5V436.90H176.0V437.24H176.5V437.19H177.0V439.00H177.5V437.13H178.0V437.50H178.5V437.13H179.0V434.97H179.5V435.82H180.0V427.50H181.5V439.00H182.5V436.11H183.0V435.51H183.5V435.89H184.0V436.21H184.5V435.55H185.0V439.00H185.5V436.57H186.0V432.18H187.5V439.00H188.0V437.33H188.5V436.95H189.0V437.13H189.5V439.00H190.0V435.95H190.5V435.41H191.0V435.49H191.5V435.60H192.0V439.00H192.5V432.84H194.0V436.65H194.5V437.00H195.0V439.00H195.5V437.21H196.0V437.09H196.5V437.32H197.0V439.00H197.5V432.97H199.0V436.22H199.5V436.00H200.0V435.06H200.5V435.16H201.0V435.78H201.5V439.00H202.0V432.74H203.5V436.55H204.0V439.00H204.5V435.88H205.0V435.28H205.5V439.00H206.0V436.90H206.5V437.07H208.0V437.35H208.5V437.47H209.0V437.41H209.5V437.60H210.5V437.04H211.0V437.14H211.5V431.51H213.0V437.14H213.5V436.69H214.0V436.95H214.5V435.55H215.0V435.86H215.5V435.42H216.0V435.77H216.5V436.02H217.0V437.27H218.0V439.00H219.0V436.28H220.0V436.65H220.5V436.14H221.0V436.70H221.5V439.00H222.0V436.21H222.5V436.27H223.0V439.00H223.5V435.67H224.0V436.22H224.5V436.13H225.0V434.38H226.0V439.00H226.5V434.63H227.0V439.00H228.0V436.51H228.5V436.68H229.0V436.36H229.5V436.14H230.0V436.49H230.5V439.00H231.0V436.47H231.5V436.77H232.0V436.43H232.5V435.49H233.0V434.20H234.5V435.61H235.0V439.00H235.5V437.06H236.0V437.11H236.5V439.00H237.0V433.22H238.0V435.50H238.5V436.11H239.0V435.67H239.5V436.18H240.0V436.05H240.5V439.00H241.0V437.07H242.0V437.15H242.5V437.00H243.0V436.12H243.5V435.87H244.0V435.78H244.5V439.00H245.0V435.80H245.5V432.69H246.0V435.52H246.5V432.77H247.0V431.30H248.5V437.45H249.0V437.16H249.5V437.07H250.0V437.21H250.5V439.00H251.0V436.56H251.5V436.40H252.0V436.62H252.5V435.90H253.0V432.00H254.5V437.27H255.0V435.53H255.5V435.01H256.0V434.92H256.5V435.08H257.0V433.67H257.5V435.41H258.0V434.96H258.5V435.86H259.0V435.62H259.5V435.73H260.0V435.10H260.5V435.28H261.5V435.10H262.0V435.40H262.5V439.00H263.0V436.98H263.5V436.89H264.0V437.22H264.5V437.16H265.0V437.24H265.5V439.00H267.0V435.02H267.5V435.44H268.0V435.79H268.5V435.09H269.0V435.34H269.5V439.00H270.0V437.28H270.5V437.14H271.0V437.37H271.5V432.00H273.0V435.94H273.5V435.72H274.0V435.84H274.5V439.00H275.0V427.50H276.5V435.82H277.0V435.88H277.5V435.56H278.0V435.50H278.5V439.00H279.0V435.79H279.5V435.64H280.0V435.45H280.5V435.61H281.0V439.00H281.5V436.18H282.0V436.46H282.5V436.00H283.0V436.27H283.5V439.00H284.5V437.24H285.5V437.08H286.0V437.44H286.5V436.52H287.0V436.42H287.5V436.81H288.0V436.88H288.5V439.00H289.5V436.25H290.0V436.43H290.5V436.38H291.0V439.00Z" fill="#a0288c"/>
<line x1="106.0" y1="438.35" x2="291.2" y2="438.35" stroke="#85197a" stroke-width="1.5"/>
<path d="M299.8,438.40V438.40H300.3V435.90H300.8V436.20H301.3V436.14H301.8V436.20H302.3V438.40H302.8V436.00H303.3V436.14H303.8V436.00H305.8V436.23H306.3V438.40H306.8V432.31H307.8V436.15H308.3V438.40H308.8V436.18H309.3V436.52H309.8V433.33H311.3V434.10H311.8V436.01H312.3V436.66H313.3V436.57H313.8V436.94H314.3V436.71H314.8V433.52H315.8V435.94H316.3V436.18H316.8V438.40H317.3V436.14H317.8V436.19H318.3V435.04H318.8V434.75H319.3V435.05H319.8V435.41H320.3V432.78H321.8V436.64H322.8V435.74H323.8V436.77H324.3V436.98H324.8V435.58H325.3V435.31H325.8V436.06H326.3V436.45H326.8V435.97H327.3V436.39H327.8V436.47H328.3V438.40H328.8V435.20H329.3V435.28H329.8V434.85H330.3V438.40H330.8V436.26H331.3V436.33H331.8V438.40H332.3V436.11H332.8V435.93H333.8V436.03H334.3V438.40H334.8V435.20H335.3V435.31H335.8V435.40H336.3V435.79H336.8V438.40H337.3V434.95H337.8V435.28H338.3V435.15H338.8V435.05H339.3V438.40H339.8V435.77H340.3V435.29H341.3V435.19H341.8V428.90H343.3V433.43H343.8V436.12H344.8V436.97H345.8V436.89H346.3V436.26H346.8V436.61H347.3V436.38H347.8V436.32H348.3V436.25H348.8V435.10H349.3V435.53H349.8V436.36H350.3V436.42H351.3V438.40H351.8V435.46H352.3V435.99H352.8V435.79H353.3V435.91H353.8V435.53H354.3V435.97H354.8V435.73H355.3V435.49H355.8V438.40H356.3V436.73H356.8V437.00H357.3V436.75H357.8V436.84H358.3V438.40H358.8V430.20H360.3V436.49H361.3V435.78H361.8V435.99H362.3V438.40H362.8V430.20H364.8V438.40H365.3V435.91H365.8V435.81H366.3V438.40H367.8V435.69H368.3V432.78H369.8V438.40H370.3V435.66H370.8V436.10H371.3V435.61H371.8V436.00H372.3V436.65H373.3V436.54H373.8V438.40H374.3V435.92H374.8V436.21H375.3V436.13H375.8V435.89H376.3V436.25H376.8V438.40H377.3V435.84H377.8V435.75H378.3V438.40H378.8V436.65H380.3V438.40H380.8V436.12H381.8V436.38H382.3V438.40H382.8V432.86H383.3V432.51H384.3V431.14H384.8V422.40H386.3V435.04H386.8V432.75H388.3V428.40H390.3V431.11H391.3V434.13H392.8V429.43H393.3V436.03H393.8V436.11H394.3V435.59H394.8V436.08H395.3V436.50H395.8V436.58H396.3V436.67H396.8V436.51H397.8V436.58H398.3V436.89H398.8V436.73H399.3V435.96H399.8V436.42H400.3V435.98H400.8V436.54H401.3V436.93H401.8V436.81H402.3V436.69H402.8V436.94H403.3V435.57H403.8V435.33H404.3V435.49H404.8V435.40H405.3V438.40H405.8V436.52H406.3V436.69H406.8V436.24H407.3V435.03H408.3V436.66H408.8V436.79H409.3V436.56H409.8V435.43H410.3V435.35H411.3V436.11H412.3V435.90H412.8V435.74H413.3V436.05H413.8V438.40H414.3V435.40H414.8V435.86H415.8V435.55H416.3V438.40H416.8V436.47H417.3V432.32H418.8V436.29H419.3V435.12H419.8V434.83H420.3V435.60H420.8V435.15H421.8V433.54H423.3V436.51H423.8V436.57H424.3V436.43H424.8V436.75H425.3V434.69H426.3V433.47H427.3V436.32H427.8V432.40H429.3V438.40H429.8V437.04H430.3V437.10H431.3V436.93H431.8V436.85H432.3V436.55H432.8V436.46H433.3V436.63H433.8V438.40H434.3V436.06H434.8V436.16H435.3V438.40H435.8V435.87H436.3V435.50H436.8V435.08H437.3V435.23H437.8V436.39H438.3V436.62H438.8V436.78H439.3V436.50H439.8V436.61H440.8V436.43H441.3V438.40H441.8V436.87H442.3V437.04H442.8V435.30H443.3V435.55H443.8V435.42H444.3V435.47H444.8V436.00H445.3V436.28H445.8V435.35H446.3V434.87H447.3V438.40H447.8V433.26H449.3V438.40H449.8V435.24H450.3V435.12H450.8V434.88H451.3V432.78H451.8V438.40H452.3V435.45H452.8V435.59H453.3V432.60H454.3V438.40H454.8V435.52H455.3V436.13H455.8V438.40H456.8V436.30H458.3V436.71H458.8V436.66H459.3V438.40H459.8V436.60H460.8V436.70H461.3V436.63H461.8V436.82H462.3V436.55H462.8V436.24H463.3V436.76H463.8V438.40H464.3V434.70H464.8V434.76H465.3V434.67H465.8V435.18H466.3V438.40H467.3V434.86H468.3V435.51H468.8V438.40H469.3V436.16H469.8V435.93H470.3V438.40H470.8V436.77H471.3V436.59H471.8V438.40H472.3V433.38H473.3V435.88H473.8V435.70H474.3V435.75H474.8V435.62H475.3V438.40H475.8V436.06H476.3V436.46H476.8V438.40H477.8V435.79H478.3V435.33H478.8V436.01H479.3V435.28H479.8V435.49H480.3V435.57H480.8V435.09H481.3V434.87H481.8V435.05H482.3V434.81H482.8V435.50H483.3V435.57H483.8V438.40H484.3V436.83H484.8V436.49H485.3V436.75H485.8V436.22H486.3V436.61H486.8V438.40H487.3V436.01H487.8V436.36H488.3V436.15H488.8V438.40H489.3V436.84H489.8V436.59H490.3V436.75H490.8V436.84H491.3V436.39H491.8V436.49H492.3V436.59H492.8V436.52H493.3V436.70H493.8V435.40H494.8V435.45H495.3V435.15H495.8V435.45H496.3V434.70H496.8V429.90H498.3V434.38H498.8V438.40H499.3V436.43H499.8V436.57H500.3V436.13H500.8V436.40H501.3V434.87H503.3V435.39H503.8V435.61H504.3V438.40H505.3V435.67H505.8V435.55H506.3V435.19H506.8V435.72H507.3V438.40H507.8V435.80H508.3V435.23H508.8V438.40Z" fill="#a0288c"/>
<line x1="299.8" y1="437.75" x2="509.0" y2="437.75" stroke="#85197a" stroke-width="1.5"/>
<path d="M106.0,460.20V457.89H107.0V457.71H108.5V456.89H109.0V456.95H109.5V457.61H110.0V460.20H110.5V458.50H111.0V458.88H111.5V460.20H112.0V457.93H112.5V458.19H113.0V458.06H113.5V458.11H114.0V457.36H114.5V457.44H115.0V457.85H115.5V458.01H116.0V457.83H116.5V460.20H117.0V457.51H117.5V457.65H118.0V457.79H118.5V457.57H119.0V457.42H119.5V457.63H120.0V460.20H120.5V458.05H121.0V457.81H121.5V458.01H122.0V460.20H122.5V457.34H123.0V456.81H123.5V457.20H124.0V456.95H124.5V460.20H125.0V457.70H126.0V456.94H126.5V457.43H127.0V457.62H127.5V460.20H128.0V457.94H128.5V457.71H129.5V457.49H130.0V460.20H130.5V457.62H131.0V457.92H131.5V457.51H132.0V460.20H132.5V458.79H133.0V458.72H133.5V458.08H134.5V458.16H135.0V457.85H135.5V460.20H136.5V456.73H137.0V456.65H137.5V457.21H138.0V456.96H138.5V455.97H139.5V457.18H140.0V457.91H140.5V457.85H141.0V460.20H141.5V457.85H142.0V458.16H142.5V458.08H143.0V457.87H143.5V458.28H144.0V460.20H144.5V457.69H145.0V457.19H145.5V457.40H146.0V457.60H146.5V457.79H147.0V458.44H147.5V458.50H148.5V454.20H150.0V458.16H150.5V458.28H151.0V458.10H151.5V458.30H152.0V458.40H152.5V458.49H153.0V460.20H153.5V458.86H154.0V450.70H155.5V460.20H156.0V457.94H156.5V458.10H157.0V457.64H158.0V457.97H158.5V460.20H159.0V458.00H159.5V457.39H160.0V460.20H160.5V458.14H161.0V457.86H161.5V460.20H162.0V457.00H162.5V456.93H163.5V457.11H164.0V458.23H164.5V458.12H165.0V460.20H165.5V457.41H166.0V457.56H166.5V457.28H167.0V456.93H168.0V460.20H168.5V457.04H169.0V457.24H169.5V457.14H170.0V457.93H170.5V453.95H172.0V457.13H172.5V456.92H173.5V457.71H174.0V457.91H174.5V458.00H175.5V456.37H176.0V458.75H176.5V458.62H177.0V458.38H177.5V458.52H178.0V458.38H178.5V457.83H179.0V457.23H180.0V457.32H180.5V460.20H181.0V457.84H181.5V457.90H182.0V458.04H182.5V457.76H183.0V460.20H183.5V457.10H184.0V457.44H184.5V457.24H185.0V458.48H185.5V458.73H186.5V458.42H187.0V458.19H187.5V460.20H188.0V458.29H188.5V458.36H189.0V460.20H189.5V457.42H190.5V457.80H191.0V457.94H191.5V460.20H192.0V458.32H192.5V457.97H193.0V460.20H193.5V457.96H194.0V458.33H194.5V458.22H195.0V457.60H196.0V460.20H196.5V458.15H197.0V458.39H198.0V458.07H198.5V458.14H199.0V458.43H199.5V458.27H200.0V458.50H200.5V458.03H201.0V458.50H201.5V460.20H203.0V458.77H204.0V458.86H204.5V458.64H205.0V460.20H205.5V457.95H206.0V457.88H206.5V458.23H207.0V458.72H207.5V458.78H208.0V458.51H208.5V460.20H209.0V458.47H210.0V460.20H210.5V458.48H211.5V458.30H212.0V458.47H212.5V458.56H213.0V457.06H213.5V457.51H214.0V456.82H214.5V457.21H215.0V458.49H215.5V458.58H216.0V458.43H216.5V458.74H217.0V458.43H217.5V460.20H218.0V456.52H219.0V458.51H219.5V458.23H220.0V458.55H220.5V460.20H221.0V458.67H222.0V458.73H222.5V460.20H223.0V457.46H223.5V456.38H224.5V458.18H225.0V458.23H225.5V458.35H226.0V458.14H226.5V457.79H227.0V457.54H228.5V457.70H229.0V457.02H229.5V457.09H230.0V458.18H230.5V457.65H231.0V458.10H231.5V458.19H232.0V460.20H232.5V457.74H233.0V458.03H233.5V460.20H234.0V458.16H234.5V458.40H235.0V458.50H235.5V458.06H236.5V458.72H237.5V457.21H238.0V457.64H238.5V457.90H239.0V458.40H240.0V458.74H240.5V458.38H241.0V458.57H241.5V460.20H242.0V458.00H242.5V457.73H243.0V458.13H243.5V457.68H245.5V457.74H246.0V460.20H246.5V457.47H247.0V457.52H247.5V456.84H248.0V457.46H248.5V457.57H249.0V460.20H249.5V456.60H250.0V457.34H251.0V456.89H251.5V458.41H252.0V458.20H252.5V458.50H253.0V460.20H253.5V458.49H254.0V458.20H254.5V460.20H255.0V458.83H255.5V458.55H256.0V460.20H257.0V456.76H257.5V457.06H258.0V456.90H258.5V457.39H259.0V457.47H259.5V457.22H260.0V457.12H260.5V456.96H261.0V456.74H261.5V458.29H262.0V458.64H262.5V457.39H263.0V457.57H263.5V457.92H264.0V457.98H265.0V458.39H265.5V458.54H266.0V458.25H266.5V458.19H267.0V458.49H267.5V457.83H268.0V457.91H268.5V460.20H269.0V456.99H269.5V457.57H270.0V457.21H270.5V456.95H271.0V457.10H271.5V460.20H272.0V458.04H272.5V457.96H273.5V458.14H274.0V457.79H274.5V457.66H275.0V457.73H275.5V458.20H276.0V458.10H276.5V460.20H277.0V457.71H278.0V460.20H278.5V458.44H279.0V458.70H279.5V458.54H280.0V458.60H280.5V456.55H281.0V456.98H281.5V456.60H282.0V456.71H282.5V457.02H283.0V460.20H283.5V457.19H284.0V457.31H285.0V457.10H285.5V460.20H286.0V458.36H287.0V458.65H287.5V458.96H288.0V458.83H288.5V458.74H289.0V457.68H289.5V457.87H290.0V460.20H291.0V460.20Z" fill="#a0288c"/>
<line x1="106.0" y1="459.55" x2="291.2" y2="459.55" stroke="#85197a" stroke-width="1.5"/>
<path d="M299.8,459.40V458.00H300.8V456.53H301.3V456.64H301.8V457.02H302.3V456.32H302.8V459.40H303.8V457.92H304.8V458.19H305.3V459.40H306.8V457.48H307.3V457.41H307.8V457.83H308.3V459.40H308.8V457.35H309.3V457.53H309.8V457.66H310.3V459.40H310.8V457.05H311.8V457.25H312.3V457.18H312.8V456.78H313.3V457.01H314.3V457.14H314.8V457.52H315.3V457.70H315.8V457.88H316.3V457.73H316.8V457.87H318.8V457.79H319.3V457.09H319.8V457.03H320.3V457.11H320.8V457.63H321.3V457.39H322.3V459.40H322.8V457.29H323.3V457.03H323.8V457.22H324.3V459.40H324.8V457.50H325.3V457.83H325.8V457.65H326.3V457.58H326.8V457.91H327.3V459.40H328.3V456.85H328.8V456.68H329.3V459.40H329.8V457.15H330.3V456.96H330.8V459.40H331.3V457.65H331.8V457.41H332.3V456.83H332.8V457.23H333.3V456.98H333.8V456.66H334.3V456.93H334.8V459.40H335.3V457.17H335.8V456.65H336.3V457.00H336.8V459.40H337.3V457.05H338.3V459.40H338.8V456.79H339.3V457.22H339.8V456.80H340.3V456.58H340.8V456.88H341.3V457.90H341.8V458.05H342.8V457.84H343.3V459.40H343.8V457.91H344.3V458.04H344.8V458.24H345.3V457.96H345.8V458.16H346.3V459.40H346.8V456.92H347.3V457.44H347.8V459.40H348.3V457.59H348.8V457.89H349.3V459.40H349.8V457.57H350.8V457.69H351.3V459.40H351.8V457.93H352.3V458.05H352.8V457.95H353.3V453.90H354.8V457.36H355.3V457.06H355.8V457.32H356.3V457.27H356.8V456.76H357.3V457.13H357.8V457.25H358.3V459.40H358.8V457.79H359.8V452.40H361.3V457.68H361.8V457.35H362.3V457.69H362.8V457.35H363.3V457.40H363.8V457.68H364.3V459.40H364.8V457.01H365.8V457.26H366.3V459.40H368.8V456.68H369.3V456.77H369.8V459.40H370.3V456.71H370.8V456.66H371.8V456.52H372.3V456.69H372.8V459.40H373.3V457.15H373.8V457.50H374.3V457.31H374.8V459.40H375.3V457.10H375.8V456.96H376.3V456.90H376.8V454.00H378.3V457.50H378.8V456.99H379.3V457.24H379.8V456.91H380.3V456.60H380.8V459.40H381.3V458.15H382.8V458.09H383.3V459.40H383.8V457.61H384.3V457.30H384.8V459.40H385.3V457.82H385.8V457.91H386.3V457.97H386.8V457.91H387.3V457.73H387.8V459.40H388.8V457.62H389.3V457.33H390.3V457.42H390.8V457.33H391.3V459.40H391.8V456.48H392.3V457.10H392.8V456.86H393.8V459.40H394.8V457.56H395.3V457.63H395.8V457.85H396.8V457.91H397.3V456.84H397.8V456.70H398.3V456.46H398.8V456.88H399.3V456.15H399.8V459.40H400.3V457.85H400.8V457.60H401.3V459.40H401.8V457.44H402.3V457.57H402.8V457.68H403.3V456.76H403.8V456.86H404.3V456.56H404.8V459.40H405.3V457.89H405.8V457.97H406.3V457.78H407.3V457.89H407.8V457.80H409.3V459.40H409.8V457.20H410.3V454.40H411.8V457.76H412.3V457.50H412.8V457.81H414.3V459.40H415.3V457.30H415.8V457.48H416.3V456.99H416.8V457.29H417.3V457.40H417.8V457.08H418.3V454.07H418.8V457.81H419.3V457.95H419.8V459.40H420.8V457.68H421.8V457.77H422.3V457.30H422.8V457.38H423.3V459.40H423.8V458.12H424.3V457.92H425.3V459.40H426.3V457.27H426.8V457.64H427.3V459.40H427.8V457.33H428.3V457.26H428.8V457.21H429.3V456.92H429.8V457.06H430.3V459.40H431.3V457.11H431.8V457.42H432.3V457.09H432.8V456.96H433.3V456.87H433.8V456.54H434.3V459.40H434.8V456.74H435.3V456.91H435.8V457.74H436.3V457.51H436.8V456.51H437.3V456.73H437.8V456.31H438.3V457.17H439.3V457.09H439.8V456.79H440.3V457.15H441.3V456.92H441.8V459.40H442.3V456.29H442.8V454.73H443.3V456.49H443.8V456.37H444.3V459.40H444.8V457.43H445.3V457.60H445.8V457.38H446.3V457.54H447.3V457.46H447.8V457.66H448.3V457.49H448.8V457.69H449.3V459.40H449.8V456.93H450.3V457.44H450.8V456.34H451.8V459.40H452.3V456.43H452.8V456.77H453.8V456.32H454.8V459.40H455.3V457.05H455.8V456.61H456.3V457.18H456.8V456.96H457.3V456.79H458.3V457.04H458.8V459.40H459.3V457.66H459.8V457.41H460.8V457.66H461.3V457.49H461.8V459.40H462.3V457.78H462.8V457.47H463.3V457.30H463.8V453.92H464.3V457.72H464.8V459.40H465.3V456.38H465.8V456.45H467.3V459.40H467.8V457.19H468.3V457.54H468.8V457.21H469.3V456.77H469.8V456.55H470.3V458.18H470.8V455.04H471.8V458.11H472.8V459.40H473.3V456.54H473.8V456.48H474.8V459.40H475.3V457.95H476.3V457.64H476.8V457.77H477.3V457.66H477.8V457.44H478.3V457.31H478.8V457.94H479.3V458.18H479.8V457.96H480.8V455.25H482.3V456.86H482.8V456.38H483.3V459.40H483.8V457.60H484.8V457.29H485.3V457.44H485.8V457.31H486.3V459.40H486.8V457.68H487.3V457.60H488.3V459.40H489.3V456.57H489.8V456.28H490.3V456.36H490.8V456.11H491.3V456.33H491.8V457.93H492.8V458.21H493.3V459.40H493.8V457.48H494.3V457.75H494.8V457.49H495.3V457.35H495.8V457.66H496.3V457.39H496.8V457.28H497.3V457.40H497.8V459.40H498.3V456.33H498.8V456.73H499.3V456.78H500.3V456.63H500.8V456.69H501.3V456.31H501.8V456.23H502.3V457.08H502.8V457.17H503.3V455.77H504.3V457.91H504.8V457.75H505.8V459.40H506.3V457.95H506.8V457.84H507.3V457.89H508.8V459.40Z" fill="#a0288c"/>
<line x1="299.8" y1="458.75" x2="509.0" y2="458.75" stroke="#85197a" stroke-width="1.5"/>
<path d="M104.6,482.60V482.60H106.6V481.62H107.1V481.72H107.6V481.78H109.1V482.60H112.6V480.21H113.1V482.60H115.6V481.52H116.1V481.67H117.1V481.59H117.6V482.60H118.1V481.29H118.6V481.38H119.6V480.21H120.1V480.12H121.1V480.40H122.1V480.45H122.6V481.77H123.1V482.60H124.6V478.95H125.6V478.72H126.1V478.86H126.6V478.62H127.1V478.86H127.6V482.60H129.6V481.91H130.1V481.96H130.6V482.60H131.1V482.14H131.6V482.06H132.1V482.11H133.6V478.98H134.1V478.59H134.6V478.50H135.1V478.86H135.6V482.13H136.1V482.60H136.6V481.45H137.1V481.52H138.1V482.60H138.6V480.14H139.1V480.03H139.6V480.12H140.1V479.84H140.6V479.95H141.1V480.08H141.6V479.99H142.1V479.81H142.6V480.08H143.1V479.86H143.6V480.22H144.1V479.83H144.6V482.60H145.1V481.95H146.6V481.81H147.1V481.95H147.6V482.60H149.6V481.15H151.1V481.24H151.6V482.07H153.1V482.13H153.6V482.07H154.1V481.52H154.6V480.64H156.1V480.86H156.6V480.64H157.1V480.82H157.6V481.92H158.1V481.79H158.6V482.60H159.6V480.16H160.6V480.28H161.1V480.15H161.6V481.43H162.1V481.35H162.6V479.15H163.1V478.91H163.6V478.99H164.1V479.16H165.1V481.34H165.6V481.56H166.1V481.33H166.6V481.43H167.1V475.78H167.6V476.06H168.1V476.28H168.6V475.52H169.1V480.00H169.6V479.90H170.6V480.00H171.1V478.48H171.6V478.95H172.6V478.44H173.1V478.79H173.6V474.16H174.1V474.42H174.6V473.16H175.6V471.17H176.1V469.95H176.6V470.46H177.1V474.73H177.6V474.03H178.1V474.40H178.6V476.52H179.1V475.71H179.6V476.41H180.1V476.19H180.6V476.73H181.1V476.96H181.6V476.88H182.1V476.79H182.6V476.67H183.1V474.78H184.1V474.08H184.6V475.88H185.1V476.26H185.6V475.94H186.1V475.47H186.6V474.52H187.1V475.53H188.1V474.66H188.6V476.09H189.1V476.15H189.6V476.10H190.6V475.63H191.6V474.29H192.1V473.66H193.1V474.01H193.6V478.86H194.1V478.77H195.1V478.40H195.6V481.27H196.1V481.10H196.6V481.26H197.6V481.14H198.1V481.31H198.6V481.19H199.6V481.11H200.1V482.60H201.1V477.22H201.6V476.57H202.1V476.41H202.6V476.31H203.1V480.20H203.6V480.34H204.1V480.40H205.1V481.32H205.6V479.27H206.1V479.18H206.6V479.10H207.1V479.42H207.6V481.56H209.1V482.60H211.6V482.03H212.1V482.16H212.6V482.60H213.6V482.26H215.6V482.01H217.1V481.95H217.6V482.07H218.1V482.60H219.6V481.54H220.1V481.68H220.6V481.52H221.1V481.68H221.6V482.60H225.1V481.97H225.6V482.06H226.1V482.60H226.6V481.21H227.1V481.49H227.6V481.40H228.1V482.60H230.6V481.42H231.6V481.53H232.1V482.60H232.6V482.16H234.1V482.60H236.6V482.18H238.1V482.60H239.6V482.13H240.6V482.07H242.1V482.60H249.6V481.53H250.6V481.67H251.1V481.57H251.6V482.60H254.1V482.14H254.6V482.19H256.1V482.60H257.1V482.22H258.1V482.16H258.6V482.24H259.1V482.60H264.6V481.97H265.1V481.90H266.1V482.60H266.6V481.82H267.6V481.92H268.1V481.83H268.6V481.95H269.1V482.60H269.6V481.59H270.6V481.39H271.1V482.60H273.1V482.12H274.6V482.19H275.1V481.73H275.6V481.61H276.6V482.60H279.6V481.58H280.1V481.35H281.1V481.54H281.6V482.60H282.6V481.59H283.6V481.77H284.6V482.60H286.1V482.02H287.1V482.14H287.6V481.04H288.6V482.60H289.1V481.39H289.6V481.51H290.1V481.36H290.6V482.60H291.1V482.60Z" fill="#2f2a8c"/>
<line x1="104.6" y1="482.20" x2="291.2" y2="482.20" stroke="#2a2878" stroke-width="1.0"/>
<path d="M299.8,482.70V481.74H300.8V481.57H301.3V481.64H301.8V482.70H302.3V482.22H303.8V482.70H304.8V481.46H305.3V481.63H306.3V481.53H306.8V482.70H311.3V482.08H312.3V482.70H313.3V482.23H314.3V482.29H314.8V482.21H315.3V481.71H315.8V481.52H316.3V481.71H316.8V481.55H317.3V481.91H318.3V481.74H319.3V482.70H320.8V481.53H321.3V481.69H321.8V482.70H322.8V481.65H323.3V481.80H324.3V481.56H324.8V481.64H325.3V482.70H326.8V481.73H327.3V481.89H327.8V482.70H328.8V482.33H329.3V482.24H329.8V482.29H330.8V482.23H331.3V482.70H335.8V482.23H337.3V482.70H338.8V482.28H340.8V482.70H344.3V482.01H345.3V481.95H345.8V482.70H347.8V481.91H348.3V481.79H348.8V482.70H351.3V481.56H352.3V481.73H352.8V482.70H353.8V481.62H354.3V481.54H356.3V482.70H357.8V482.33H358.3V482.24H358.8V482.70H362.3V480.00H363.3V479.82H363.8V477.23H364.8V476.75H365.3V475.47H365.8V475.34H366.3V475.81H366.8V477.31H368.3V478.51H369.3V478.39H369.8V479.85H370.8V479.80H371.3V481.24H371.8V482.26H372.3V481.57H372.8V481.69H373.3V481.99H374.3V481.89H374.8V482.01H375.3V482.70H375.8V481.54H376.3V481.72H376.8V481.62H377.3V480.12H377.8V479.93H378.8V476.46H379.3V476.35H380.3V474.60H380.8V473.26H381.3V474.02H381.8V470.91H382.3V471.01H382.8V471.28H383.3V469.32H383.8V468.85H384.3V466.70H384.8V467.58H385.3V471.79H385.8V470.83H386.3V470.40H386.8V468.90H387.3V469.36H387.8V469.56H388.3V473.64H388.8V473.25H389.3V472.67H389.8V472.38H390.3V471.96H390.8V472.50H391.3V472.90H391.8V474.20H392.3V474.03H392.8V477.25H393.3V477.56H393.8V477.39H394.3V481.34H394.8V481.29H395.8V482.70H398.8V481.48H399.3V480.65H399.8V481.68H400.3V481.75H400.8V482.70H403.8V481.87H405.3V481.93H405.8V482.70H407.8V481.78H408.8V481.68H409.3V482.70H410.8V482.01H411.3V481.88H412.3V482.70H414.3V482.34H416.3V482.70H418.3V481.97H419.3V480.62H420.3V482.09H420.8V481.60H421.3V481.67H421.8V482.13H422.3V482.23H422.8V482.17H423.3V482.12H423.8V482.18H424.3V482.70H428.8V480.26H429.8V482.17H430.8V482.70H431.8V481.81H432.3V481.68H432.8V481.83H433.8V482.70H434.3V481.84H434.8V481.67H435.3V481.78H435.8V482.70H437.8V481.99H438.8V481.92H439.3V482.00H439.8V482.70H440.3V481.72H440.8V481.61H441.8V482.70H444.8V481.71H445.3V481.63H446.3V481.75H446.8V482.70H447.8V482.24H448.8V482.31H449.8V482.70H453.3V482.19H454.3V482.70H457.8V482.08H458.3V481.96H458.8V480.33H459.8V482.70H466.8V481.92H467.3V481.99H467.8V481.85H469.3V482.70H471.8V482.15H472.3V482.08H473.8V482.13H474.3V482.70H474.8V482.12H475.8V482.70H477.3V482.15H477.8V482.22H478.8V482.70H481.8V481.63H482.3V481.49H483.3V481.74H483.8V481.45H484.3V482.70H485.8V481.88H486.3V481.80H486.8V481.72H487.3V481.80H487.8V482.70H494.3V481.20H497.8V482.18H498.8V482.26H499.3V482.70H503.8V482.28H504.3V482.35H505.3V482.70H506.3V481.80H507.3V481.62H507.8V482.70H508.8V482.70Z" fill="#2f2a8c"/>
<line x1="299.8" y1="482.30" x2="509.0" y2="482.30" stroke="#2a2878" stroke-width="1.0"/>
<path d="M104.6,503.60V503.60H105.1V503.06H106.1V503.00H106.6V503.60H109.1V502.44H109.6V502.62H110.1V502.55H110.6V503.60H113.1V502.98H114.1V503.60H115.1V502.74H116.1V502.81H116.6V503.60H117.6V502.63H118.6V501.69H120.1V502.27H121.6V502.46H122.1V501.07H123.1V503.06H124.1V501.92H125.6V501.38H126.6V502.95H128.1V503.07H129.6V501.57H130.6V501.39H134.6V502.50H135.1V502.36H135.6V501.40H137.1V502.12H138.6V501.54H139.6V501.82H141.6V501.72H142.1V501.41H143.6V501.72H145.1V502.72H145.6V502.66H147.1V501.82H148.1V501.06H149.1V502.24H149.6V500.88H150.6V501.49H151.6V502.13H152.1V501.18H152.6V500.89H153.6V502.06H154.1V501.20H155.1V502.10H156.6V502.40H157.1V501.16H158.6V501.66H159.1V502.62H160.1V502.42H160.6V501.83H162.1V501.60H162.6V501.77H163.6V502.75H165.1V501.09H166.1V502.87H167.1V501.44H168.6V502.13H169.1V502.00H169.6V501.20H170.6V501.08H171.1V502.57H173.1V501.69H174.6V502.35H175.1V502.24H175.6V502.01H177.6V502.91H178.1V502.68H178.6V501.62H179.1V502.34H180.1V501.31H180.6V501.91H181.1V502.17H181.6V502.37H183.1V501.78H184.6V501.33H186.1V500.87H186.6V503.18H187.1V503.05H187.6V502.99H188.1V502.22H189.1V502.32H189.6V501.88H190.6V502.66H191.1V501.25H192.6V500.87H194.1V502.35H194.6V503.60H195.1V502.45H195.6V502.33H196.6V502.51H197.6V503.60H199.6V502.58H200.1V502.75H201.1V502.53H201.6V503.60H202.1V502.37H202.6V502.47H203.1V502.35H203.6V502.46H204.1V502.35H205.1V502.48H205.6V502.40H206.1V502.50H207.1V503.60H208.6V502.34H209.1V502.41H209.6V503.60H210.1V502.15H211.1V502.04H211.6V502.41H212.1V502.59H212.6V502.50H213.1V502.60H213.6V502.70H214.1V503.60H216.6V503.03H217.1V502.94H218.1V503.60H219.6V502.50H220.1V502.57H221.1V502.49H221.6V502.39H222.1V503.60H223.1V502.04H223.6V502.23H224.6V501.97H225.1V503.60H225.6V502.22H226.1V502.44H227.1V502.24H227.6V503.60H228.6V502.87H230.1V502.93H230.6V503.60H233.1V502.51H233.6V502.59H234.1V502.32H234.6V503.60H239.1V503.00H239.6V502.89H240.1V502.95H240.6V503.60H241.6V502.78H242.1V502.63H242.6V503.60H243.6V503.15H244.1V503.07H245.1V503.12H245.6V503.60H246.1V502.76H247.6V503.60H249.1V502.17H250.1V503.60H250.6V502.48H251.1V502.63H252.1V502.54H252.6V503.60H253.6V502.87H254.1V502.79H255.1V502.84H255.6V503.60H256.6V502.92H257.1V502.98H257.6V502.88H258.6V502.95H259.1V503.10H260.1V503.17H261.1V503.60H261.6V502.52H262.1V502.61H262.6V502.51H263.1V503.60H264.6V502.96H265.1V502.84H265.6V503.60H268.1V503.03H268.6V502.96H269.1V503.60H270.1V502.13H270.6V502.32H271.1V503.60H272.1V502.67H273.1V502.74H273.6V503.60H275.6V502.79H276.1V502.67H276.6V502.81H277.1V502.69H277.6V501.90H278.6V501.15H279.6V501.25H280.6V501.62H281.6V501.88H282.1V501.20H283.1V501.56H283.6V501.89H284.1V501.62H285.1V502.78H285.6V502.06H286.6V501.77H288.1V502.58H289.1V503.06H289.6V502.44H291.1V503.60Z" fill="#2f2a8c"/>
<line x1="104.6" y1="503.20" x2="291.2" y2="503.20" stroke="#2a2878" stroke-width="1.0"/>
<path d="M299.8,503.40V503.40H301.8V502.56H303.3V502.43H304.3V503.40H305.3V502.58H306.3V502.71H306.8V502.51H307.3V503.40H308.3V502.73H309.8V502.78H310.3V503.40H311.3V502.35H311.8V502.14H312.3V503.40H313.3V502.68H314.3V502.74H314.8V503.40H315.8V502.31H316.3V502.47H316.8V502.33H317.8V503.40H318.8V502.56H319.3V502.72H319.8V502.65H320.3V502.59H321.3V502.53H321.8V503.40H322.3V502.90H322.8V502.79H323.8V502.92H324.3V502.83H324.8V503.40H325.3V502.25H326.3V501.97H326.8V502.24H327.8V503.40H329.3V502.26H329.8V501.97H330.3V503.40H331.3V502.04H331.8V501.93H332.3V502.24H333.8V503.40H334.3V502.64H335.8V502.77H336.3V503.40H337.3V501.95H337.8V502.09H338.3V499.40H340.8V502.94H341.8V503.40H342.3V501.93H342.8V502.19H343.3V502.13H343.8V502.71H344.8V502.66H345.8V503.40H346.3V502.93H347.3V503.40H347.8V502.02H348.3V501.95H348.8V502.07H349.3V502.00H349.8V502.16H350.3V503.40H351.8V502.39H353.3V502.58H353.8V503.40H354.3V502.58H354.8V502.43H355.3V502.55H355.8V502.48H356.3V502.55H356.8V502.65H357.3V502.78H357.8V503.40H360.8V502.66H361.3V502.48H361.8V502.68H362.3V502.60H362.8V499.40H365.3V502.53H365.8V502.71H366.3V502.62H367.3V503.40H368.3V502.84H368.8V502.90H369.3V503.40H369.8V500.80H370.3V503.40H371.8V500.67H373.3V502.88H373.8V502.80H375.3V503.40H375.8V502.16H376.3V502.32H376.8V502.37H377.3V502.15H377.8V499.61H378.8V501.38H379.8V499.36H380.3V502.10H380.8V498.40H382.8V501.26H383.3V499.53H384.3V501.06H385.8V500.69H386.8V499.73H387.8V503.40H388.3V502.79H388.8V502.73H389.3V502.81H389.8V502.86H390.3V503.40H391.3V502.41H391.8V502.36H392.3V503.40H393.8V502.10H394.3V501.93H395.3V502.16H396.3V503.40H397.3V502.45H397.8V502.27H398.3V503.40H398.8V502.56H399.3V502.39H399.8V502.91H401.3V503.40H403.8V502.43H404.3V502.27H405.3V502.19H405.8V503.40H407.3V502.63H407.8V502.52H408.3V502.45H408.8V502.64H409.8V503.40H412.8V502.05H413.8V503.40H414.3V503.00H416.3V503.40H417.3V502.73H417.8V502.65H419.3V503.40H420.3V502.84H420.8V502.92H421.3V502.82H422.3V502.95H422.8V503.40H423.8V502.61H424.3V502.40H424.8V502.62H425.3V502.42H425.8V502.03H426.3V502.11H427.3V501.93H428.3V503.40H429.3V502.56H429.8V502.72H430.3V502.59H431.3V502.37H431.8V502.21H432.8V502.35H433.3V503.40H434.3V502.47H434.8V502.64H435.3V502.57H435.8V502.46H436.8V502.23H437.8V502.34H438.8V502.04H439.3V503.40H440.3V502.36H440.8V502.43H441.8V501.97H442.3V502.09H442.8V501.87H443.3V502.02H444.3V502.86H445.3V502.78H445.8V502.84H446.3V503.40H449.8V502.41H450.3V502.27H450.8V502.41H451.3V503.40H451.8V502.21H452.3V502.30H453.8V503.40H456.8V502.68H457.8V503.40H458.8V502.52H459.8V503.40H461.8V502.39H462.3V502.33H462.8V502.47H463.3V501.88H463.8V501.97H464.3V503.40H464.8V502.87H465.3V502.73H466.3V502.88H466.8V502.79H467.8V502.84H469.3V503.40H469.8V502.45H470.8V502.33H471.3V502.07H471.8V502.25H472.8V502.10H473.3V502.29H473.8V503.40H474.3V502.15H474.8V502.34H475.3V502.24H475.8V502.38H476.3V502.16H476.8V503.40H477.3V502.74H478.3V502.65H478.8V502.76H479.3V503.40H479.8V502.08H480.3V501.95H480.8V502.07H481.3V501.94H481.8V503.40H482.3V502.56H483.3V502.61H483.8V502.71H484.3V502.34H484.8V502.28H485.3V502.46H485.8V503.40H486.8V501.84H487.8V502.13H488.8V503.40H490.8V502.47H492.8V502.38H493.3V503.40H497.3V502.63H497.8V502.42H498.3V502.62H499.8V503.40H500.3V502.35H501.8V502.42H502.3V502.36H502.8V503.40H503.3V502.20H504.3V502.32H504.8V502.09H505.8V502.82H506.3V502.92H506.8V502.79H507.3V503.40H507.8V502.91H508.3V502.84H508.8V503.40Z" fill="#2f2a8c"/>
<line x1="299.8" y1="503.00" x2="509.0" y2="503.00" stroke="#2a2878" stroke-width="1.0"/>
<path d="M66.5,539.8V545.3H96.0V539.8" fill="none" stroke="#222" stroke-width="0.8"/>
<text x="81.00" y="541.40" font-size="6.6" fill="#222" text-anchor="middle" textLength="16.2" lengthAdjust="spacingAndGlyphs" stroke="#222" stroke-width="0.18">20 kb</text>
<line x1="120.0" y1="541.5" x2="135.0" y2="541.5" stroke="#111" stroke-width="0.7"/>
<rect x="120.0" y="536.4" width="1.9" height="10.1" fill="#111"/>
<rect x="124.1" y="536.4" width="2.0" height="10.1" fill="#111"/>
<rect x="128.6" y="536.4" width="2.0" height="10.1" fill="#111"/>
<rect x="132.9" y="536.4" width="2.0" height="10.1" fill="#111"/>
<text x="127.60" y="555.80" font-size="6.4" fill="#333" text-anchor="middle" textLength="10.6" lengthAdjust="spacingAndGlyphs" font-style="italic" stroke="#333" stroke-width="0.18">GIP</text>
<line x1="180.0" y1="540.9" x2="261.0" y2="540.9" stroke="#111" stroke-width="0.7"/>
<rect x="178.8" y="535.7" width="3.6" height="10.5" rx="1.2" fill="#111"/>
<rect x="205.2" y="535.7" width="1.2" height="10.5" fill="#111"/>
<rect x="222.0" y="535.7" width="1.3" height="10.5" fill="#111"/>
<rect x="230.8" y="535.7" width="1.3" height="10.5" fill="#111"/>
<rect x="240.2" y="535.7" width="2.2" height="10.5" fill="#111"/>
<rect x="243.4" y="535.7" width="2.0" height="10.5" fill="#111"/>
<rect x="246.2" y="535.7" width="2.0" height="10.5" fill="#111"/>
<rect x="249.2" y="535.7" width="2.0" height="10.5" fill="#111"/>
<rect x="251.8" y="535.7" width="2.2" height="10.5" fill="#111"/>
<rect x="254.0" y="537.2" width="0.8" height="7.5" fill="#111"/>
<rect x="257.6" y="535.7" width="2.4" height="10.5" fill="#111"/>
<rect x="260.0" y="538.3" width="7.4" height="5.2" fill="#111"/>
<path d="M191.5,539.9L193.20000000000002,540.9L191.5,541.9Z" fill="#111"/>
<path d="M211.5,539.9L213.20000000000002,540.9L211.5,541.9Z" fill="#111"/>
<path d="M214.2,539.9L215.9,540.9L214.2,541.9Z" fill="#111"/>
<text x="222.60" y="555.60" font-size="6.4" fill="#333" text-anchor="middle" textLength="25.0" lengthAdjust="spacingAndGlyphs" font-style="italic" stroke="#333" stroke-width="0.18">IGF2BP1</text>
<line x1="391.0" y1="541.5" x2="502.8" y2="541.5" stroke="#111" stroke-width="0.7"/>
<rect x="390.2" y="537.0" width="1.9" height="9.5" rx="0.8" fill="#111"/>
<rect x="490.6" y="537.0" width="1.1" height="9.5" fill="#111"/>
<path d="M399.15,540.2L401.35,541.5L399.15,542.8Z" fill="#111"/>
<path d="M419.9,540.2L422.1,541.5L419.9,542.8Z" fill="#111"/>
<path d="M440.9,540.2L443.1,541.5L440.9,542.8Z" fill="#111"/>
<path d="M461.65,540.2L463.85,541.5L461.65,542.8Z" fill="#111"/>
<path d="M482.9,540.2L485.1,541.5L482.9,542.8Z" fill="#111"/>
<path d="M499.15,540.2L501.35,541.5L499.15,542.8Z" fill="#111"/>
<text x="419.80" y="555.00" font-size="6.4" fill="#333" text-anchor="middle" textLength="21.3" lengthAdjust="spacingAndGlyphs" font-style="italic" stroke="#333" stroke-width="0.18">LIN28B</text>
<text x="53.30" y="593.40" font-size="6.4" fill="#3a3a96" text-anchor="end" textLength="32.6" lengthAdjust="spacingAndGlyphs" stroke="#3a3a96" stroke-width="0.18">H3K27me3</text>
<text x="52.90" y="654.20" font-size="6.4" fill="#f0a070" text-anchor="end" textLength="27.1" lengthAdjust="spacingAndGlyphs" stroke="#f0a070" stroke-width="0.18">H3K27Ac</text>
<path d="M60.199999999999996,563.2H56.8V620.7H60.199999999999996" fill="none" stroke="#222" stroke-width="1.05"/>
<path d="M60.199999999999996,624.2H56.8V680.3H60.199999999999996" fill="none" stroke="#222" stroke-width="1.05"/>
<text x="98.60" y="572.50" font-size="6.4" fill="#222" text-anchor="end" textLength="13.6" lengthAdjust="spacingAndGlyphs" stroke="#222" stroke-width="0.18">Fetal</text>
<text x="98.60" y="593.00" font-size="6.4" fill="#222" text-anchor="end" textLength="27.0" lengthAdjust="spacingAndGlyphs" stroke="#222" stroke-width="0.18">Newborn</text>
<text x="98.60" y="613.00" font-size="6.4" fill="#222" text-anchor="end" textLength="15.8" lengthAdjust="spacingAndGlyphs" stroke="#222" stroke-width="0.18">Adult</text>
<text x="98.60" y="633.90" font-size="6.4" fill="#222" text-anchor="end" textLength="13.6" lengthAdjust="spacingAndGlyphs" stroke="#222" stroke-width="0.18">Fetal</text>
<text x="98.60" y="654.20" font-size="6.4" fill="#222" text-anchor="end" textLength="27.0" lengthAdjust="spacingAndGlyphs" stroke="#222" stroke-width="0.18">Newborn</text>
<text x="98.60" y="674.70" font-size="6.4" fill="#222" text-anchor="end" textLength="15.8" lengthAdjust="spacingAndGlyphs" stroke="#222" stroke-width="0.18">Adult</text>
<text x="265.40" y="566.00" font-size="6.9" fill="#444" textLength="26.0" lengthAdjust="spacingAndGlyphs" stroke="#444" stroke-width="0.18">[0 - 1.50]</text>
<text x="487.30" y="566.00" font-size="6.9" fill="#444" textLength="26.0" lengthAdjust="spacingAndGlyphs" stroke="#444" stroke-width="0.18">[0 - 1.50]</text>
<text x="265.40" y="586.40" font-size="6.9" fill="#444" textLength="26.0" lengthAdjust="spacingAndGlyphs" stroke="#444" stroke-width="0.18">[0 - 1.50]</text>
<text x="487.30" y="586.40" font-size="6.9" fill="#444" textLength="26.0" lengthAdjust="spacingAndGlyphs" stroke="#444" stroke-width="0.18">[0 - 1.50]</text>
<text x="265.40" y="607.00" font-size="6.9" fill="#444" textLength="26.0" lengthAdjust="spacingAndGlyphs" stroke="#444" stroke-width="0.18">[0 - 1.50]</text>
<text x="487.30" y="607.00" font-size="6.9" fill="#444" textLength="26.0" lengthAdjust="spacingAndGlyphs" stroke="#444" stroke-width="0.18">[0 - 1.50]</text>
<text x="265.40" y="628.00" font-size="6.9" fill="#444" textLength="16.8" lengthAdjust="spacingAndGlyphs" stroke="#444" stroke-width="0.18">[0 - 3]</text>
<text x="487.30" y="628.00" font-size="6.9" fill="#444" textLength="16.8" lengthAdjust="spacingAndGlyphs" stroke="#444" stroke-width="0.18">[0 - 3]</text>
<text x="265.40" y="649.00" font-size="6.9" fill="#444" textLength="16.8" lengthAdjust="spacingAndGlyphs" stroke="#444" stroke-width="0.18">[0 - 3]</text>
<text x="487.30" y="649.00" font-size="6.9" fill="#444" textLength="16.8" lengthAdjust="spacingAndGlyphs" stroke="#444" stroke-width="0.18">[0 - 3]</text>
<text x="265.40" y="670.00" font-size="6.9" fill="#444" textLength="16.8" lengthAdjust="spacingAndGlyphs" stroke="#444" stroke-width="0.18">[0 - 3]</text>
<text x="487.30" y="670.00" font-size="6.9" fill="#444" textLength="16.8" lengthAdjust="spacingAndGlyphs" stroke="#444" stroke-width="0.18">[0 - 3]</text>
<path d="M104.2,579.30V579.30H110.7V578.47H112.2V578.62H113.2V579.30H116.2V578.69H117.2V579.30H119.7V578.70H120.7V579.30H121.7V577.24H122.2V577.11H122.7V577.37H124.2V577.15H124.7V577.38H125.2V577.22H125.7V579.30H136.7V577.78H137.2V577.92H137.7V577.71H139.2V577.81H139.7V578.87H140.7V578.79H141.2V579.30H144.7V578.93H146.2V579.30H147.2V578.91H149.7V578.59H150.2V578.53H150.7V578.61H151.7V578.83H152.2V578.72H153.2V579.30H155.7V578.69H156.2V578.57H156.7V578.67H157.2V578.56H157.7V578.35H159.2V578.45H159.7V579.30H162.7V578.99H164.2V579.30H170.7V578.65H171.2V578.70H172.7V579.30H173.2V577.40H173.7V577.31H174.7V577.23H175.7V577.15H176.2V579.30H177.7V578.85H178.2V578.90H179.7V579.30H190.2V578.83H191.2V578.76H192.2V579.30H214.2V578.37H215.7V579.30H230.7V578.54H232.2V579.30H232.7V578.60H234.2V578.55H234.7V579.30H258.2V578.93H260.7V579.30H282.2V578.59H282.7V578.68H283.2V578.62H284.2V578.98H285.7V579.30H288.2V578.72H289.7V579.30H291.2V579.30Z" fill="#2f2a8c"/>
<line x1="104.2" y1="578.85" x2="291.2" y2="578.85" stroke="#2a2878" stroke-width="1.1"/>
<path d="M298.8,579.60V578.84H299.8V578.96H300.3V579.60H300.8V579.27H301.3V579.33H301.8V579.60H304.8V578.75H305.3V578.84H306.3V578.78H306.8V579.60H308.8V578.89H309.3V579.00H309.8V579.60H312.3V578.86H312.8V578.81H313.3V579.60H318.8V577.64H319.3V577.88H319.8V577.60H320.3V577.82H320.8V579.60H325.8V577.25H326.3V577.47H326.8V577.13H327.3V577.42H327.8V579.60H332.3V577.68H332.8V577.77H333.3V577.89H333.8V577.69H334.3V579.60H337.3V576.42H337.8V576.12H338.3V576.24H339.3V576.13H339.8V578.99H340.3V579.11H341.3V579.60H342.8V579.28H344.3V579.60H351.8V579.26H353.3V579.33H354.3V579.60H358.3V578.91H358.8V578.97H359.8V579.60H360.8V578.90H361.3V578.81H361.8V578.89H362.8V579.60H366.3V579.00H366.8V579.11H367.3V579.01H367.8V579.60H368.8V579.24H370.3V579.60H371.3V578.86H371.8V578.78H372.3V578.93H373.8V579.60H382.8V578.63H383.3V578.71H383.8V578.65H384.8V579.60H385.3V579.05H385.8V579.12H386.3V579.60H389.8V579.05H390.3V579.13H390.8V579.60H405.3V579.17H406.3V579.60H406.8V579.33H407.8V579.60H414.8V578.85H416.3V578.76H416.8V579.60H420.3V578.97H421.3V579.08H421.8V579.60H423.3V579.35H424.3V579.60H426.3V579.01H428.8V579.60H432.8V578.81H434.3V578.72H434.8V578.84H435.3V579.60H438.8V578.78H439.3V578.68H439.8V578.85H440.3V578.65H441.3V579.60H449.8V579.15H450.3V579.08H451.8V579.13H452.3V579.60H461.8V579.35H464.3V579.60H471.8V578.99H472.3V579.05H472.8V578.93H473.3V579.06H473.8V579.60H486.3V578.87H487.3V579.60H502.8V578.73H503.3V578.79H503.8V578.85H504.3V578.67H504.8V578.96H506.3V578.87H506.8V578.98H507.3V579.60H508.3V579.60Z" fill="#2f2a8c"/>
<line x1="298.8" y1="579.15" x2="508.4" y2="579.15" stroke="#2a2878" stroke-width="1.1"/>
<path d="M105.8,600.00V600.00H107.3V598.86H107.8V598.99H108.3V598.83H108.8V598.97H109.3V598.78H109.8V600.00H110.8V599.03H111.8V598.97H112.3V600.00H113.3V599.42H113.8V599.35H115.3V599.15H116.3V599.29H116.8V600.00H117.8V597.72H118.3V598.89H119.8V598.40H120.3V598.94H121.3V599.08H121.8V599.20H122.8V598.09H123.8V597.10H125.3V598.39H126.8V600.00H127.8V599.17H128.3V599.09H129.3V599.16H130.3V600.00H132.3V599.60H132.8V599.47H133.8V600.00H137.8V599.64H138.8V600.00H139.8V599.30H140.3V599.35H140.8V597.50H143.3V600.00H146.3V598.87H146.8V598.73H147.3V598.80H148.8V600.00H152.8V599.48H153.3V599.35H153.8V599.48H154.3V599.33H155.3V598.91H156.3V599.08H156.8V600.00H159.8V598.95H161.3V599.43H161.8V598.73H162.8V597.93H163.3V597.85H164.8V597.58H165.8V598.11H167.3V598.78H168.3V597.71H168.8V592.67H169.3V592.33H169.8V591.72H170.3V592.79H170.8V596.01H171.3V596.60H171.8V596.12H172.3V596.42H172.8V596.19H173.3V596.24H173.8V592.63H174.3V592.84H174.8V591.98H175.3V592.37H175.8V591.91H176.3V595.12H176.8V595.26H177.3V595.62H178.3V598.81H179.3V598.54H180.3V597.52H180.8V596.85H182.8V597.70H183.3V598.33H184.3V599.49H185.3V599.14H185.8V598.88H186.3V597.87H187.3V597.56H188.3V598.43H189.8V597.54H190.3V598.10H190.8V598.49H191.8V597.55H192.3V598.18H193.3V598.42H194.3V598.71H194.8V598.87H195.3V598.12H197.3V597.58H197.8V598.31H198.8V599.17H199.8V600.00H201.3V599.42H202.3V599.48H203.3V600.00H205.3V599.35H205.8V599.24H206.8V599.17H207.3V599.30H207.8V600.00H209.8V599.42H210.8V600.00H213.8V599.00H214.8V598.87H215.3V600.00H219.3V598.98H220.8V598.77H221.8V600.00H222.3V599.40H223.8V599.33H224.3V600.00H225.8V599.42H226.8V600.00H229.3V599.43H230.8V599.30H231.3V599.66H232.3V599.08H233.8V598.93H234.3V599.12H234.8V600.00H235.3V599.30H235.8V599.40H236.8V600.00H240.3V599.44H240.8V599.37H242.3V597.51H243.3V600.00H245.3V599.01H245.8V598.95H246.8V599.03H247.3V598.91H247.8V600.00H248.8V599.38H249.3V599.28H249.8V599.37H250.8V600.00H251.8V599.65H252.8V600.00H253.3V599.53H254.3V599.46H254.8V599.54H255.8V600.00H258.3V599.54H258.8V599.61H259.8V600.00H261.8V599.00H262.8V598.81H263.3V598.89H263.8V598.97H264.8V599.18H265.8V599.06H266.3V599.36H266.8V599.20H268.3V600.00H273.8V599.50H274.8V600.00H275.3V599.36H275.8V599.44H277.8V600.00H278.8V599.37H279.3V599.28H279.8V599.42H280.3V599.29H280.8V599.40H281.3V599.46H281.8V600.00H282.8V599.49H283.3V599.42H285.3V600.00H286.8V599.51H287.8V599.44H289.3V600.00H289.8V599.56H290.8V600.00Z" fill="#2f2a8c"/>
<line x1="105.8" y1="599.55" x2="291.2" y2="599.55" stroke="#2a2878" stroke-width="1.1"/>
<path d="M298.8,600.10V600.10H300.8V599.20H302.3V599.26H302.8V600.10H304.3V599.04H304.8V599.26H305.3V599.08H305.8V599.24H306.8V597.92H307.8V599.76H308.8V600.10H310.8V599.48H311.8V600.10H314.8V599.47H315.3V599.41H315.8V599.49H316.8V600.10H317.8V599.54H320.3V600.10H324.3V599.09H324.8V599.20H325.3V600.10H325.8V596.10H327.8V600.10H347.3V599.50H347.8V598.42H348.8V600.10H355.8V599.14H356.3V599.02H356.8V598.97H357.3V600.10H358.3V599.68H358.8V598.43H359.8V597.34H360.3V597.12H360.8V597.18H361.3V597.47H362.8V593.70H363.3V593.84H363.8V594.51H364.3V593.95H364.8V593.11H365.3V594.02H365.8V593.23H366.8V594.10H367.3V599.58H368.8V600.10H374.3V599.37H374.8V599.46H375.3V600.10H376.3V599.70H376.8V599.76H377.3V600.10H377.8V599.34H378.3V597.79H379.8V596.08H380.3V597.47H381.3V598.33H382.3V595.03H383.3V598.49H383.8V593.30H385.3V596.19H385.8V597.81H387.3V594.69H388.3V596.15H389.3V596.56H389.8V593.72H390.8V593.86H391.3V597.08H392.3V599.59H393.3V600.10H396.8V599.26H397.3V599.46H397.8V599.27H398.3V599.42H398.8V600.10H399.3V599.23H399.8V599.29H401.3V600.10H402.3V599.59H404.8V600.10H407.8V599.38H409.3V600.10H412.3V599.33H412.8V599.42H413.8V600.10H414.3V599.25H415.3V600.10H420.8V599.26H421.3V599.09H421.8V599.30H422.3V599.37H422.8V599.26H423.3V600.10H427.8V599.07H428.3V599.21H428.8V599.05H429.3V599.15H429.8V599.24H430.3V600.10H433.8V599.37H434.3V599.49H435.8V599.36H436.3V599.58H436.8V599.68H437.3V599.54H437.8V600.10H440.3V598.94H440.8V598.86H441.8V600.10H443.3V598.89H444.3V598.95H444.8V599.04H445.3V600.10H449.3V599.72H450.3V599.51H450.8V599.43H451.3V599.51H451.8V600.10H454.3V598.81H454.8V599.10H455.3V599.04H455.8V600.10H457.8V598.10H459.8V600.10H460.8V599.22H461.8V599.10H462.8V599.22H463.3V599.46H465.3V600.10H466.8V599.10H467.3V599.22H467.8V599.27H468.8V600.10H469.8V599.53H470.3V599.43H470.8V599.00H471.3V598.89H471.8V598.97H472.8V599.04H473.3V600.10H477.3V599.12H477.8V599.00H478.3V600.10H481.3V599.60H483.3V600.10H494.3V598.97H494.8V599.17H495.8V600.10H499.3V598.99H499.8V599.18H501.8V600.10H502.8V599.20H504.3V598.97H504.8V599.18H505.3V600.10H508.8V599.19H510.3V600.10H510.8V600.10Z" fill="#2f2a8c"/>
<line x1="298.8" y1="599.65" x2="511.0" y2="599.65" stroke="#2a2878" stroke-width="1.1"/>
<path d="M105.8,620.80V619.88H106.8V619.75H107.3V620.80H113.8V620.42H114.8V620.80H117.3V619.59H118.3V619.45H118.8V619.51H119.3V619.62H119.8V620.80H120.8V620.41H121.8V620.32H122.3V620.80H124.3V620.25H124.8V620.32H125.8V620.80H126.8V619.65H127.3V619.82H127.8V619.63H128.3V620.80H131.3V620.01H131.8V619.95H132.3V620.80H132.8V620.17H133.3V620.03H133.8V620.15H134.8V620.80H137.8V620.39H138.8V620.80H140.3V616.69H140.8V616.78H141.3V616.98H141.8V617.08H142.3V618.52H142.8V617.39H143.3V617.76H144.3V620.80H150.3V619.70H150.8V619.84H151.3V620.80H151.8V619.63H152.8V620.80H158.3V620.15H158.8V620.26H160.3V620.80H164.3V620.25H166.8V620.80H167.3V614.85H167.8V615.23H168.8V612.15H169.3V611.87H169.8V612.27H170.3V610.97H170.8V613.62H171.3V613.40H171.8V613.96H172.3V613.67H172.8V609.30H173.3V609.81H173.8V608.32H174.3V609.78H174.8V612.20H175.8V611.96H176.3V612.39H176.8V611.48H177.3V611.73H177.8V610.32H178.3V611.52H178.8V611.81H179.3V611.59H179.8V611.42H180.3V611.71H180.8V610.48H181.3V610.08H181.8V609.85H182.3V609.43H182.8V609.49H183.3V609.56H183.8V608.64H184.3V609.18H184.8V610.41H185.8V610.23H186.3V605.37H186.8V605.65H187.3V610.26H187.8V610.48H188.3V609.01H188.8V608.62H189.3V607.98H189.8V608.98H190.3V607.64H190.8V611.17H191.3V610.00H191.8V610.42H192.3V610.23H192.8V613.58H193.8V613.78H194.3V613.65H194.8V617.35H195.3V617.27H196.8V619.43H197.8V619.49H198.3V619.33H198.8V619.39H199.8V620.13H200.3V620.80H200.8V619.64H201.8V619.78H202.8V619.68H203.3V620.80H205.8V619.57H206.3V619.67H206.8V619.58H207.3V620.80H209.3V619.32H209.8V619.44H210.3V619.36H210.8V620.80H213.3V620.16H213.8V620.24H215.3V619.74H216.3V619.65H216.8V619.78H217.3V619.67H217.8V620.80H218.3V619.91H220.3V620.80H220.8V620.19H221.3V620.10H221.8V620.19H222.3V620.80H225.3V620.33H227.8V620.80H228.8V620.18H229.3V620.07H230.3V620.19H230.8V620.02H231.3V620.80H234.3V619.54H234.8V619.65H235.3V620.80H238.8V619.78H239.3V619.86H240.8V620.80H241.3V619.92H242.3V619.97H242.8V619.87H243.3V620.80H247.8V620.26H248.3V620.19H249.8V620.80H253.3V619.80H253.8V619.60H254.3V620.80H254.8V620.43H255.3V620.33H256.3V620.43H256.8V620.36H257.3V620.80H257.8V620.00H258.3V619.90H259.8V619.83H260.3V620.80H260.8V619.80H261.3V619.67H262.3V619.80H262.8V620.80H263.3V620.24H263.8V620.34H264.3V620.80H269.8V620.13H271.3V620.05H272.3V620.80H273.8V620.48H276.3V620.80H278.3V620.24H279.3V620.31H279.8V620.80H280.3V620.09H280.8V620.17H281.8V620.04H282.3V620.14H282.8V620.80H283.8V620.43H285.3V618.60H286.8V620.36H287.3V620.80H290.8V620.80Z" fill="#2f2a8c"/>
<line x1="105.8" y1="620.35" x2="291.2" y2="620.35" stroke="#2a2878" stroke-width="1.1"/>
<path d="M298.8,621.20V621.20H301.3V620.13H301.8V619.94H302.3V620.16H302.8V619.97H303.3V621.20H303.8V620.82H304.8V621.20H308.3V620.16H309.3V619.98H309.8V621.20H310.8V620.27H311.3V620.33H312.3V621.20H312.8V620.83H313.8V620.76H314.3V621.20H314.8V617.63H315.3V617.76H315.8V617.57H316.3V617.72H316.8V620.75H317.8V617.98H318.8V617.79H319.3V620.43H319.8V620.54H320.3V618.96H321.3V619.05H321.8V619.40H323.8V621.20H325.3V620.16H326.3V620.29H326.8V620.15H327.3V621.20H327.8V620.75H329.3V621.20H329.8V619.84H330.3V619.74H330.8V620.01H331.3V621.20H332.3V620.31H333.3V620.15H333.8V621.20H336.8V620.38H337.3V620.58H337.8V621.20H339.3V620.03H339.8V620.21H340.3V620.05H340.8V620.21H341.8V621.20H343.3V620.21H343.8V620.14H344.3V621.20H347.3V620.21H347.8V620.15H348.8V621.20H349.3V620.70H351.8V621.20H353.3V620.08H353.8V619.94H354.3V620.10H355.3V621.20H357.8V620.02H358.3V620.18H359.3V621.20H361.8V612.59H362.3V612.21H362.8V613.39H363.3V612.51H363.8V616.74H364.3V616.50H364.8V616.72H365.3V620.35H365.8V620.46H366.8V616.03H367.3V615.93H367.8V615.60H368.3V615.91H368.8V620.65H369.8V620.60H370.8V621.20H372.3V620.26H372.8V620.11H373.3V620.19H373.8V620.31H374.8V621.20H376.3V620.34H377.8V621.20H378.3V613.22H379.8V614.76H381.3V615.91H382.8V614.23H383.3V613.90H384.3V611.20H385.8V613.77H386.3V614.98H387.3V611.97H388.3V613.17H389.3V616.47H389.8V618.46H390.3V604.70H392.3V613.52H393.3V613.64H393.8V616.12H394.3V619.99H394.8V621.20H397.3V620.31H398.3V620.13H398.8V621.20H400.3V619.97H400.8V620.18H401.3V620.10H401.8V621.20H404.3V619.91H405.3V620.39H405.8V620.27H407.8V621.20H410.3V620.43H411.8V619.50H412.3V620.36H412.8V621.20H413.8V620.23H414.3V620.09H414.8V620.21H415.8V620.30H416.3V621.20H416.8V620.61H417.3V620.51H417.8V620.63H418.3V620.57H418.8V621.20H423.3V618.70H424.8V620.49H425.8V620.55H426.3V620.62H426.8V619.87H428.3V620.04H428.8V619.84H429.3V620.24H429.8V620.36H430.3V620.18H431.3V620.12H431.8V621.20H433.3V620.79H434.3V621.20H436.3V620.19H436.8V620.33H437.3V621.20H437.8V620.70H438.8V621.20H439.3V620.42H439.8V620.36H440.3V621.20H441.3V620.08H441.8V620.21H442.3V620.14H442.8V620.22H443.3V621.20H448.8V620.01H450.8V620.24H451.3V621.20H455.3V619.94H455.8V620.11H456.3V619.94H456.8V621.20H462.3V620.26H463.3V620.43H463.8V621.20H467.3V620.75H468.3V621.20H470.3V620.07H470.8V619.90H471.3V620.02H471.8V620.09H472.3V621.20H474.3V620.37H474.8V620.28H475.3V621.20H476.3V620.51H477.8V619.45H479.3V621.20H482.3V619.88H483.3V621.20H487.3V620.34H488.3V621.20H491.8V620.19H492.3V620.33H492.8V620.21H493.3V620.13H494.3V621.20H497.3V620.23H497.8V620.14H498.3V621.20H502.3V620.72H503.3V621.20H504.8V620.03H505.8V620.19H506.3V621.20H507.8V620.43H509.3V620.49H509.8V620.56H510.3V619.98H510.8V620.14H511.3V621.20Z" fill="#2f2a8c"/>
<line x1="298.8" y1="620.75" x2="511.5" y2="620.75" stroke="#2a2878" stroke-width="1.1"/>
<path d="M104.6,641.40V641.40H110.6V641.18H111.6V641.40H117.1V640.89H117.6V640.99H118.1V641.40H128.6V641.11H129.1V641.17H129.6V641.40H136.6V640.92H137.6V640.86H139.1V641.40H139.6V641.01H140.1V640.94H140.6V641.03H141.6V641.40H144.1V640.20H146.1V641.01H148.6V641.40H149.6V640.86H150.1V640.96H150.6V640.85H151.1V640.94H151.6V641.40H174.6V639.11H175.1V638.95H175.6V639.17H176.1V639.02H176.6V635.24H177.1V635.36H177.6V635.60H178.1V635.33H178.6V635.00H179.6V627.19H180.1V627.03H180.6V634.11H181.1V634.77H181.6V633.99H182.1V631.99H182.6V633.06H183.1V632.23H183.6V637.23H184.1V636.96H184.6V637.22H185.1V637.53H185.6V639.95H186.1V640.07H187.6V640.00H188.1V639.94H188.6V640.03H189.1V641.40H193.6V640.95H195.6V641.40H213.6V639.80H215.1V641.40H224.6V638.20H226.1V640.10H228.1V641.40H250.6V641.17H252.6V641.40H258.6V640.94H259.6V641.40H262.1V641.18H264.1V641.40H291.1V641.40Z" fill="#f39c64"/>
<line x1="104.6" y1="641.00" x2="291.2" y2="641.00" stroke="#ec9468" stroke-width="1.0"/>
<path d="M298.8,641.20V641.20H363.3V640.97H364.8V641.20H366.3V640.99H368.3V640.00H370.3V641.20H378.8V640.97H380.3V641.20H382.8V640.65H383.3V637.28H383.8V637.64H384.3V637.29H384.8V630.63H385.3V630.26H385.8V629.92H386.8V635.27H387.3V634.88H387.8V635.61H388.3V633.04H388.8V634.00H389.3V634.12H389.8V636.52H390.3V636.38H390.8V626.64H391.3V625.94H391.8V625.24H392.3V627.08H392.8V638.18H393.3V637.83H393.8V640.77H394.8V640.85H395.3V641.20H442.8V640.70H444.3V640.61H444.8V641.20H445.3V640.93H446.3V641.20H481.3V640.73H481.8V640.61H482.3V640.69H482.8V640.62H483.3V641.20H503.8V640.76H505.3V640.84H505.8V640.77H506.3V640.83H507.3V641.20H510.3V641.20Z" fill="#f39c64"/>
<line x1="298.8" y1="640.80" x2="510.6" y2="640.80" stroke="#ec9468" stroke-width="1.0"/>
<path d="M105.8,662.30V661.98H108.3V662.30H142.3V661.92H142.8V661.84H143.3V662.30H176.3V660.09H176.8V659.92H177.3V660.07H177.8V659.96H178.3V659.86H178.8V657.14H179.3V656.57H179.8V656.98H180.3V656.54H180.8V656.88H181.3V659.29H181.8V658.96H182.3V659.05H183.3V660.06H183.8V659.98H184.3V659.81H184.8V660.01H185.8V662.30H196.3V661.91H196.8V661.82H197.3V662.30H224.8V661.10H226.3V661.97H227.3V662.30H248.8V662.13H251.3V662.30H256.3V661.81H256.8V661.88H257.3V661.82H257.8V661.87H258.3V662.30H261.8V661.93H263.3V662.00H263.8V662.30H271.8V662.07H272.8V662.30H290.8V662.30Z" fill="#f39c64"/>
<line x1="105.8" y1="661.90" x2="291.2" y2="661.90" stroke="#ec9468" stroke-width="1.0"/>
<path d="M298.8,662.30V662.30H335.3V662.08H337.3V662.30H346.3V662.10H347.3V662.30H354.3V661.93H354.8V661.99H355.3V661.92H356.3V662.30H388.8V660.81H389.3V660.91H389.8V660.85H390.3V659.63H390.8V659.70H391.3V659.39H391.8V662.30H412.8V662.06H415.3V662.30H451.8V661.82H452.3V661.92H453.3V661.86H453.8V662.30H456.3V662.01H456.8V661.95H458.3V662.30H463.3V662.04H463.8V661.96H464.3V662.30H469.8V661.93H470.3V661.86H470.8V662.30H510.3V662.30Z" fill="#f39c64"/>
<line x1="298.8" y1="661.90" x2="510.6" y2="661.90" stroke="#ec9468" stroke-width="1.0"/>
<path d="M105.8,683.00V683.00H143.8V681.80H145.8V683.00H146.8V682.80H147.8V683.00H150.8V682.78H152.3V683.00H182.3V682.76H183.3V683.00H200.8V682.72H202.8V683.00H207.8V682.79H210.3V683.00H247.3V682.82H249.3V683.00H279.8V682.70H280.3V682.62H280.8V683.00H290.8V683.00Z" fill="#f39c64"/>
<line x1="105.8" y1="682.65" x2="291.2" y2="682.65" stroke="#ec9468" stroke-width="0.9"/>
<path d="M298.8,682.80V682.80H300.8V682.58H301.3V682.63H302.3V682.80H316.8V682.51H318.8V682.80H367.3V682.55H368.8V682.80H400.8V682.63H402.8V682.80H424.8V682.60H426.8V682.80H442.3V682.64H444.3V682.80H456.8V682.52H459.3V682.80H488.3V682.55H489.3V682.48H489.8V682.80H510.3V682.80Z" fill="#f39c64"/>
<line x1="298.8" y1="682.45" x2="510.6" y2="682.45" stroke="#ec9468" stroke-width="0.9"/>
</svg></body></html>
